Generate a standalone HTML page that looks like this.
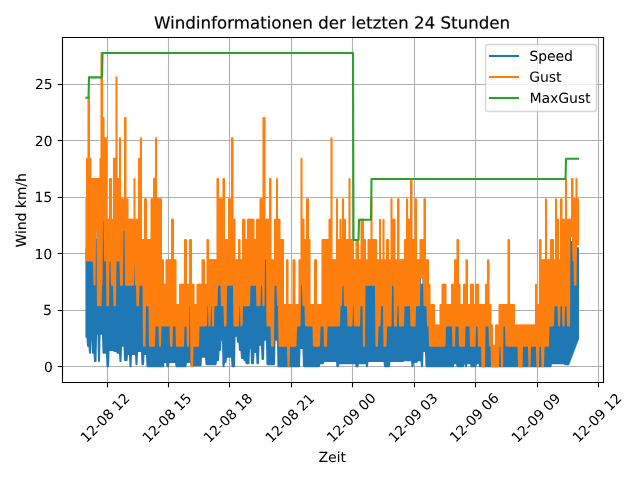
<!DOCTYPE html><html><head><meta charset="utf-8"><style>html,body{margin:0;padding:0;background:#fff;font-family:"Liberation Sans",sans-serif}svg{display:block}</style></head><body><svg width="640" height="480" viewBox="0 0 460.8 345.6">
<defs>
<style type="text/css">*{stroke-linejoin: round; stroke-linecap: butt}</style>
</defs>
<g id="figure_1">
<g id="patch_1">
<path d="M 0.3600 345.9600 L 461.1600 345.9600 L 461.1600 0.3600 L 0.3600 0.3600 z" style="fill: #ffffff"/>
</g>
<g id="axes_1">
<g id="patch_2">
<path d="M 45.0000 275.4000 L 434.5200 275.4000 L 434.5200 27.0000 L 45.0000 27.0000 z" style="fill: #ffffff"/>
</g>
<g id="matplotlib.axis_1">
<g id="xtick_1">
<g id="line2d_1">
<path d="M 77.4000 275.4000 L 77.4000 27.0000" clip-path="url(#pa83f3e832d)" style="fill: none; stroke: #b0b0b0; stroke-width: 0.8; stroke-linecap: square"/>
</g>
<g id="line2d_2">
<defs>
<path id="m1504cfccaf" d="M 0 0 
L 0 3.5 
" style="stroke: #000000; stroke-width: 0.8"/>
</defs>
<g>
<use href="#m1504cfccaf" x="77.4000" y="275.4000" style="stroke: #000000; stroke-width: 0.8"/>
</g>
</g>
<g id="text_1">
<!-- 12-08 12 -->
<g transform="translate(62.1951 319.1513) rotate(-45) scale(0.1 -0.1)">
<defs>
<path id="DejaVuSans-31" d="M 794 531 
L 1825 531 
L 1825 4091 
L 703 3866 
L 703 4441 
L 1819 4666 
L 2450 4666 
L 2450 531 
L 3481 531 
L 3481 0 
L 794 0 
L 794 531 
z
" transform="scale(0.015625)"/>
<path id="DejaVuSans-32" d="M 1228 531 
L 3431 531 
L 3431 0 
L 469 0 
L 469 531 
Q 828 903 1448 1529 
Q 2069 2156 2228 2338 
Q 2531 2678 2651 2914 
Q 2772 3150 2772 3378 
Q 2772 3750 2511 3984 
Q 2250 4219 1831 4219 
Q 1534 4219 1204 4116 
Q 875 4013 500 3803 
L 500 4441 
Q 881 4594 1212 4672 
Q 1544 4750 1819 4750 
Q 2544 4750 2975 4387 
Q 3406 4025 3406 3419 
Q 3406 3131 3298 2873 
Q 3191 2616 2906 2266 
Q 2828 2175 2409 1742 
Q 1991 1309 1228 531 
z
" transform="scale(0.015625)"/>
<path id="DejaVuSans-2d" d="M 313 2009 
L 1997 2009 
L 1997 1497 
L 313 1497 
L 313 2009 
z
" transform="scale(0.015625)"/>
<path id="DejaVuSans-30" d="M 2034 4250 
Q 1547 4250 1301 3770 
Q 1056 3291 1056 2328 
Q 1056 1369 1301 889 
Q 1547 409 2034 409 
Q 2525 409 2770 889 
Q 3016 1369 3016 2328 
Q 3016 3291 2770 3770 
Q 2525 4250 2034 4250 
z
M 2034 4750 
Q 2819 4750 3233 4129 
Q 3647 3509 3647 2328 
Q 3647 1150 3233 529 
Q 2819 -91 2034 -91 
Q 1250 -91 836 529 
Q 422 1150 422 2328 
Q 422 3509 836 4129 
Q 1250 4750 2034 4750 
z
" transform="scale(0.015625)"/>
<path id="DejaVuSans-38" d="M 2034 2216 
Q 1584 2216 1326 1975 
Q 1069 1734 1069 1313 
Q 1069 891 1326 650 
Q 1584 409 2034 409 
Q 2484 409 2743 651 
Q 3003 894 3003 1313 
Q 3003 1734 2745 1975 
Q 2488 2216 2034 2216 
z
M 1403 2484 
Q 997 2584 770 2862 
Q 544 3141 544 3541 
Q 544 4100 942 4425 
Q 1341 4750 2034 4750 
Q 2731 4750 3128 4425 
Q 3525 4100 3525 3541 
Q 3525 3141 3298 2862 
Q 3072 2584 2669 2484 
Q 3125 2378 3379 2068 
Q 3634 1759 3634 1313 
Q 3634 634 3220 271 
Q 2806 -91 2034 -91 
Q 1263 -91 848 271 
Q 434 634 434 1313 
Q 434 1759 690 2068 
Q 947 2378 1403 2484 
z
M 1172 3481 
Q 1172 3119 1398 2916 
Q 1625 2713 2034 2713 
Q 2441 2713 2670 2916 
Q 2900 3119 2900 3481 
Q 2900 3844 2670 4047 
Q 2441 4250 2034 4250 
Q 1625 4250 1398 4047 
Q 1172 3844 1172 3481 
z
" transform="scale(0.015625)"/>
<path id="DejaVuSans-20" transform="scale(0.015625)"/>
</defs>
<use href="#DejaVuSans-31"/>
<use href="#DejaVuSans-32" transform="translate(63.623047 0)"/>
<use href="#DejaVuSans-2d" transform="translate(127.246094 0)"/>
<use href="#DejaVuSans-30" transform="translate(163.330078 0)"/>
<use href="#DejaVuSans-38" transform="translate(226.953125 0)"/>
<use href="#DejaVuSans-20" transform="translate(290.576172 0)"/>
<use href="#DejaVuSans-31" transform="translate(322.363281 0)"/>
<use href="#DejaVuSans-32" transform="translate(385.986328 0)"/>
</g>
</g>
</g>
<g id="xtick_2">
<g id="line2d_3">
<path d="M 121.3200 275.4000 L 121.3200 27.0000" clip-path="url(#pa83f3e832d)" style="fill: none; stroke: #b0b0b0; stroke-width: 0.8; stroke-linecap: square"/>
</g>
<g id="line2d_4">
<g>
<use href="#m1504cfccaf" x="121.3200" y="275.4000" style="stroke: #000000; stroke-width: 0.8"/>
</g>
</g>
<g id="text_2">
<!-- 12-08 15 -->
<g transform="translate(106.7314 319.2665) rotate(-45) scale(0.1 -0.1)">
<defs>
<path id="DejaVuSans-35" d="M 691 4666 
L 3169 4666 
L 3169 4134 
L 1269 4134 
L 1269 2991 
Q 1406 3038 1543 3061 
Q 1681 3084 1819 3084 
Q 2600 3084 3056 2656 
Q 3513 2228 3513 1497 
Q 3513 744 3044 326 
Q 2575 -91 1722 -91 
Q 1428 -91 1123 -41 
Q 819 9 494 109 
L 494 744 
Q 775 591 1075 516 
Q 1375 441 1709 441 
Q 2250 441 2565 725 
Q 2881 1009 2881 1497 
Q 2881 1984 2565 2268 
Q 2250 2553 1709 2553 
Q 1456 2553 1204 2497 
Q 953 2441 691 2322 
L 691 4666 
z
" transform="scale(0.015625)"/>
</defs>
<use href="#DejaVuSans-31"/>
<use href="#DejaVuSans-32" transform="translate(63.623047 0)"/>
<use href="#DejaVuSans-2d" transform="translate(127.246094 0)"/>
<use href="#DejaVuSans-30" transform="translate(163.330078 0)"/>
<use href="#DejaVuSans-38" transform="translate(226.953125 0)"/>
<use href="#DejaVuSans-20" transform="translate(290.576172 0)"/>
<use href="#DejaVuSans-31" transform="translate(322.363281 0)"/>
<use href="#DejaVuSans-35" transform="translate(385.986328 0)"/>
</g>
</g>
</g>
<g id="xtick_3">
<g id="line2d_5">
<path d="M 165.2400 275.4000 L 165.2400 27.0000" clip-path="url(#pa83f3e832d)" style="fill: none; stroke: #b0b0b0; stroke-width: 0.8; stroke-linecap: square"/>
</g>
<g id="line2d_6">
<g>
<use href="#m1504cfccaf" x="165.2400" y="275.4000" style="stroke: #000000; stroke-width: 0.8"/>
</g>
</g>
<g id="text_3">
<!-- 12-08 18 -->
<g transform="translate(150.6917 319.2305) rotate(-45) scale(0.1 -0.1)">
<use href="#DejaVuSans-31"/>
<use href="#DejaVuSans-32" transform="translate(63.623047 0)"/>
<use href="#DejaVuSans-2d" transform="translate(127.246094 0)"/>
<use href="#DejaVuSans-30" transform="translate(163.330078 0)"/>
<use href="#DejaVuSans-38" transform="translate(226.953125 0)"/>
<use href="#DejaVuSans-20" transform="translate(290.576172 0)"/>
<use href="#DejaVuSans-31" transform="translate(322.363281 0)"/>
<use href="#DejaVuSans-38" transform="translate(385.986328 0)"/>
</g>
</g>
</g>
<g id="xtick_4">
<g id="line2d_7">
<path d="M 209.8800 275.4000 L 209.8800 27.0000" clip-path="url(#pa83f3e832d)" style="fill: none; stroke: #b0b0b0; stroke-width: 0.8; stroke-linecap: square"/>
</g>
<g id="line2d_8">
<g>
<use href="#m1504cfccaf" x="209.8800" y="275.4000" style="stroke: #000000; stroke-width: 0.8"/>
</g>
</g>
<g id="text_4">
<!-- 12-08 21 -->
<g transform="translate(195.2424 319.3169) rotate(-45) scale(0.1 -0.1)">
<use href="#DejaVuSans-31"/>
<use href="#DejaVuSans-32" transform="translate(63.623047 0)"/>
<use href="#DejaVuSans-2d" transform="translate(127.246094 0)"/>
<use href="#DejaVuSans-30" transform="translate(163.330078 0)"/>
<use href="#DejaVuSans-38" transform="translate(226.953125 0)"/>
<use href="#DejaVuSans-20" transform="translate(290.576172 0)"/>
<use href="#DejaVuSans-32" transform="translate(322.363281 0)"/>
<use href="#DejaVuSans-31" transform="translate(385.986328 0)"/>
</g>
</g>
</g>
<g id="xtick_5">
<g id="line2d_9">
<path d="M 253.8000 275.4000 L 253.8000 27.0000" clip-path="url(#pa83f3e832d)" style="fill: none; stroke: #b0b0b0; stroke-width: 0.8; stroke-linecap: square"/>
</g>
<g id="line2d_10">
<g>
<use href="#m1504cfccaf" x="253.8000" y="275.4000" style="stroke: #000000; stroke-width: 0.8"/>
</g>
</g>
<g id="text_5">
<!-- 12-09 00 -->
<g transform="translate(239.4764 318.9713) rotate(-45) scale(0.1 -0.1)">
<defs>
<path id="DejaVuSans-39" d="M 703 97 
L 703 672 
Q 941 559 1184 500 
Q 1428 441 1663 441 
Q 2288 441 2617 861 
Q 2947 1281 2994 2138 
Q 2813 1869 2534 1725 
Q 2256 1581 1919 1581 
Q 1219 1581 811 2004 
Q 403 2428 403 3163 
Q 403 3881 828 4315 
Q 1253 4750 1959 4750 
Q 2769 4750 3195 4129 
Q 3622 3509 3622 2328 
Q 3622 1225 3098 567 
Q 2575 -91 1691 -91 
Q 1453 -91 1209 -44 
Q 966 3 703 97 
z
M 1959 2075 
Q 2384 2075 2632 2365 
Q 2881 2656 2881 3163 
Q 2881 3666 2632 3958 
Q 2384 4250 1959 4250 
Q 1534 4250 1286 3958 
Q 1038 3666 1038 3163 
Q 1038 2656 1286 2365 
Q 1534 2075 1959 2075 
z
" transform="scale(0.015625)"/>
</defs>
<use href="#DejaVuSans-31"/>
<use href="#DejaVuSans-32" transform="translate(63.623047 0)"/>
<use href="#DejaVuSans-2d" transform="translate(127.246094 0)"/>
<use href="#DejaVuSans-30" transform="translate(163.330078 0)"/>
<use href="#DejaVuSans-39" transform="translate(226.953125 0)"/>
<use href="#DejaVuSans-20" transform="translate(290.576172 0)"/>
<use href="#DejaVuSans-30" transform="translate(322.363281 0)"/>
<use href="#DejaVuSans-30" transform="translate(385.986328 0)"/>
</g>
</g>
</g>
<g id="xtick_6">
<g id="line2d_11">
<path d="M 298.4400 275.4000 L 298.4400 27.0000" clip-path="url(#pa83f3e832d)" style="fill: none; stroke: #b0b0b0; stroke-width: 0.8; stroke-linecap: square"/>
</g>
<g id="line2d_12">
<g>
<use href="#m1504cfccaf" x="298.4400" y="275.4000" style="stroke: #000000; stroke-width: 0.8"/>
</g>
</g>
<g id="text_6">
<!-- 12-09 03 -->
<g transform="translate(283.9479 319.0937) rotate(-45) scale(0.1 -0.1)">
<defs>
<path id="DejaVuSans-33" d="M 2597 2516 
Q 3050 2419 3304 2112 
Q 3559 1806 3559 1356 
Q 3559 666 3084 287 
Q 2609 -91 1734 -91 
Q 1441 -91 1130 -33 
Q 819 25 488 141 
L 488 750 
Q 750 597 1062 519 
Q 1375 441 1716 441 
Q 2309 441 2620 675 
Q 2931 909 2931 1356 
Q 2931 1769 2642 2001 
Q 2353 2234 1838 2234 
L 1294 2234 
L 1294 2753 
L 1863 2753 
Q 2328 2753 2575 2939 
Q 2822 3125 2822 3475 
Q 2822 3834 2567 4026 
Q 2313 4219 1838 4219 
Q 1578 4219 1281 4162 
Q 984 4106 628 3988 
L 628 4550 
Q 988 4650 1302 4700 
Q 1616 4750 1894 4750 
Q 2613 4750 3031 4423 
Q 3450 4097 3450 3541 
Q 3450 3153 3228 2886 
Q 3006 2619 2597 2516 
z
" transform="scale(0.015625)"/>
</defs>
<use href="#DejaVuSans-31"/>
<use href="#DejaVuSans-32" transform="translate(63.623047 0)"/>
<use href="#DejaVuSans-2d" transform="translate(127.246094 0)"/>
<use href="#DejaVuSans-30" transform="translate(163.330078 0)"/>
<use href="#DejaVuSans-39" transform="translate(226.953125 0)"/>
<use href="#DejaVuSans-20" transform="translate(290.576172 0)"/>
<use href="#DejaVuSans-30" transform="translate(322.363281 0)"/>
<use href="#DejaVuSans-33" transform="translate(385.986328 0)"/>
</g>
</g>
</g>
<g id="xtick_7">
<g id="line2d_13">
<path d="M 342.3600 275.4000 L 342.3600 27.0000" clip-path="url(#pa83f3e832d)" style="fill: none; stroke: #b0b0b0; stroke-width: 0.8; stroke-linecap: square"/>
</g>
<g id="line2d_14">
<g>
<use href="#m1504cfccaf" x="342.3600" y="275.4000" style="stroke: #000000; stroke-width: 0.8"/>
</g>
</g>
<g id="text_7">
<!-- 12-09 06 -->
<g transform="translate(328.0090 318.9857) rotate(-45) scale(0.1 -0.1)">
<defs>
<path id="DejaVuSans-36" d="M 2113 2584 
Q 1688 2584 1439 2293 
Q 1191 2003 1191 1497 
Q 1191 994 1439 701 
Q 1688 409 2113 409 
Q 2538 409 2786 701 
Q 3034 994 3034 1497 
Q 3034 2003 2786 2293 
Q 2538 2584 2113 2584 
z
M 3366 4563 
L 3366 3988 
Q 3128 4100 2886 4159 
Q 2644 4219 2406 4219 
Q 1781 4219 1451 3797 
Q 1122 3375 1075 2522 
Q 1259 2794 1537 2939 
Q 1816 3084 2150 3084 
Q 2853 3084 3261 2657 
Q 3669 2231 3669 1497 
Q 3669 778 3244 343 
Q 2819 -91 2113 -91 
Q 1303 -91 875 529 
Q 447 1150 447 2328 
Q 447 3434 972 4092 
Q 1497 4750 2381 4750 
Q 2619 4750 2861 4703 
Q 3103 4656 3366 4563 
z
" transform="scale(0.015625)"/>
</defs>
<use href="#DejaVuSans-31"/>
<use href="#DejaVuSans-32" transform="translate(63.623047 0)"/>
<use href="#DejaVuSans-2d" transform="translate(127.246094 0)"/>
<use href="#DejaVuSans-30" transform="translate(163.330078 0)"/>
<use href="#DejaVuSans-39" transform="translate(226.953125 0)"/>
<use href="#DejaVuSans-20" transform="translate(290.576172 0)"/>
<use href="#DejaVuSans-30" transform="translate(322.363281 0)"/>
<use href="#DejaVuSans-36" transform="translate(385.986328 0)"/>
</g>
</g>
</g>
<g id="xtick_8">
<g id="line2d_15">
<path d="M 387.0000 275.4000 L 387.0000 27.0000" clip-path="url(#pa83f3e832d)" style="fill: none; stroke: #b0b0b0; stroke-width: 0.8; stroke-linecap: square"/>
</g>
<g id="line2d_16">
<g>
<use href="#m1504cfccaf" x="387.0000" y="275.4000" style="stroke: #000000; stroke-width: 0.8"/>
</g>
</g>
<g id="text_8">
<!-- 12-09 09 -->
<g transform="translate(372.3941 319.3097) rotate(-45) scale(0.1 -0.1)">
<use href="#DejaVuSans-31"/>
<use href="#DejaVuSans-32" transform="translate(63.623047 0)"/>
<use href="#DejaVuSans-2d" transform="translate(127.246094 0)"/>
<use href="#DejaVuSans-30" transform="translate(163.330078 0)"/>
<use href="#DejaVuSans-39" transform="translate(226.953125 0)"/>
<use href="#DejaVuSans-20" transform="translate(290.576172 0)"/>
<use href="#DejaVuSans-30" transform="translate(322.363281 0)"/>
<use href="#DejaVuSans-39" transform="translate(385.986328 0)"/>
</g>
</g>
</g>
<g id="xtick_9">
<g id="line2d_17">
<path d="M 430.9200 275.4000 L 430.9200 27.0000" clip-path="url(#pa83f3e832d)" style="fill: none; stroke: #b0b0b0; stroke-width: 0.8; stroke-linecap: square"/>
</g>
<g id="line2d_18">
<g>
<use href="#m1504cfccaf" x="430.9200" y="275.4000" style="stroke: #000000; stroke-width: 0.8"/>
</g>
</g>
<g id="text_9">
<!-- 12-09 12 -->
<g transform="translate(416.3832 319.1513) rotate(-45) scale(0.1 -0.1)">
<use href="#DejaVuSans-31"/>
<use href="#DejaVuSans-32" transform="translate(63.623047 0)"/>
<use href="#DejaVuSans-2d" transform="translate(127.246094 0)"/>
<use href="#DejaVuSans-30" transform="translate(163.330078 0)"/>
<use href="#DejaVuSans-39" transform="translate(226.953125 0)"/>
<use href="#DejaVuSans-20" transform="translate(290.576172 0)"/>
<use href="#DejaVuSans-31" transform="translate(322.363281 0)"/>
<use href="#DejaVuSans-32" transform="translate(385.986328 0)"/>
</g>
</g>
</g>
<g id="text_10">
<!-- Zeit -->
<g transform="translate(229.3990 332.6091) scale(0.1 -0.1)" style="stroke:#000;stroke-width:20">
<defs>
<path id="DejaVuSans-5a" d="M 359 4666 
L 4025 4666 
L 4025 4184 
L 1075 531 
L 4097 531 
L 4097 0 
L 288 0 
L 288 481 
L 3238 4134 
L 359 4134 
L 359 4666 
z
" transform="scale(0.015625)"/>
<path id="DejaVuSans-65" d="M 3597 1894 
L 3597 1613 
L 953 1613 
Q 991 1019 1311 708 
Q 1631 397 2203 397 
Q 2534 397 2845 478 
Q 3156 559 3463 722 
L 3463 178 
Q 3153 47 2828 -22 
Q 2503 -91 2169 -91 
Q 1331 -91 842 396 
Q 353 884 353 1716 
Q 353 2575 817 3079 
Q 1281 3584 2069 3584 
Q 2775 3584 3186 3129 
Q 3597 2675 3597 1894 
z
M 3022 2063 
Q 3016 2534 2758 2815 
Q 2500 3097 2075 3097 
Q 1594 3097 1305 2825 
Q 1016 2553 972 2059 
L 3022 2063 
z
" transform="scale(0.015625)"/>
<path id="DejaVuSans-69" d="M 603 3500 
L 1178 3500 
L 1178 0 
L 603 0 
L 603 3500 
z
M 603 4863 
L 1178 4863 
L 1178 4134 
L 603 4134 
L 603 4863 
z
" transform="scale(0.015625)"/>
<path id="DejaVuSans-74" d="M 1172 4494 
L 1172 3500 
L 2356 3500 
L 2356 3053 
L 1172 3053 
L 1172 1153 
Q 1172 725 1289 603 
Q 1406 481 1766 481 
L 2356 481 
L 2356 0 
L 1766 0 
Q 1100 0 847 248 
Q 594 497 594 1153 
L 594 3053 
L 172 3053 
L 172 3500 
L 594 3500 
L 594 4494 
L 1172 4494 
z
" transform="scale(0.015625)"/>
</defs>
<use href="#DejaVuSans-5a"/>
<use href="#DejaVuSans-65" transform="translate(68.505859 0)"/>
<use href="#DejaVuSans-69" transform="translate(130.029297 0)"/>
<use href="#DejaVuSans-74" transform="translate(157.8125 0)"/>
</g>
</g>
</g>
<g id="matplotlib.axis_2">
<g id="ytick_1">
<g id="line2d_19">
<path d="M 45.0000 263.8800 L 434.5200 263.8800" clip-path="url(#pa83f3e832d)" style="fill: none; stroke: #b0b0b0; stroke-width: 0.8; stroke-linecap: square"/>
</g>
<g id="line2d_20">
<defs>
<path id="m5d545ce8f8" d="M 0 0 
L -3.5 0 
" style="stroke: #000000; stroke-width: 0.8"/>
</defs>
<g>
<use href="#m5d545ce8f8" x="45.0000" y="263.8800" style="stroke: #000000; stroke-width: 0.8"/>
</g>
</g>
<g id="text_11">
<!-- 0 -->
<g transform="translate(31.6683 267.8142) scale(0.1 -0.1)">
<use href="#DejaVuSans-30"/>
</g>
</g>
</g>
<g id="ytick_2">
<g id="line2d_21">
<path d="M 45.0000 223.5600 L 434.5200 223.5600" clip-path="url(#pa83f3e832d)" style="fill: none; stroke: #b0b0b0; stroke-width: 0.8; stroke-linecap: square"/>
</g>
<g id="line2d_22">
<g>
<use href="#m5d545ce8f8" x="45.0000" y="223.5600" style="stroke: #000000; stroke-width: 0.8"/>
</g>
</g>
<g id="text_12">
<!-- 5 -->
<g transform="translate(31.0131 226.7486) scale(0.1 -0.1)">
<use href="#DejaVuSans-35"/>
</g>
</g>
</g>
<g id="ytick_3">
<g id="line2d_23">
<path d="M 45.0000 182.5200 L 434.5200 182.5200" clip-path="url(#pa83f3e832d)" style="fill: none; stroke: #b0b0b0; stroke-width: 0.8; stroke-linecap: square"/>
</g>
<g id="line2d_24">
<g>
<use href="#m5d545ce8f8" x="45.0000" y="182.5200" style="stroke: #000000; stroke-width: 0.8"/>
</g>
</g>
<g id="text_13">
<!-- 10 -->
<g transform="translate(24.8810 186.5325) scale(0.1 -0.1)">
<use href="#DejaVuSans-31"/>
<use href="#DejaVuSans-30" transform="translate(63.623047 0)"/>
</g>
</g>
</g>
<g id="ytick_4">
<g id="line2d_25">
<path d="M 45.0000 142.2000 L 434.5200 142.2000" clip-path="url(#pa83f3e832d)" style="fill: none; stroke: #b0b0b0; stroke-width: 0.8; stroke-linecap: square"/>
</g>
<g id="line2d_26">
<g>
<use href="#m5d545ce8f8" x="45.0000" y="142.2000" style="stroke: #000000; stroke-width: 0.8"/>
</g>
</g>
<g id="text_14">
<!-- 15 -->
<g transform="translate(24.8666 145.4237) scale(0.1 -0.1)">
<use href="#DejaVuSans-31"/>
<use href="#DejaVuSans-35" transform="translate(63.623047 0)"/>
</g>
</g>
</g>
<g id="ytick_5">
<g id="line2d_27">
<path d="M 45.0000 101.1600 L 434.5200 101.1600" clip-path="url(#pa83f3e832d)" style="fill: none; stroke: #b0b0b0; stroke-width: 0.8; stroke-linecap: square"/>
</g>
<g id="line2d_28">
<g>
<use href="#m5d545ce8f8" x="45.0000" y="101.1600" style="stroke: #000000; stroke-width: 0.8"/>
</g>
</g>
<g id="text_15">
<!-- 20 -->
<g transform="translate(25.0682 105.1572) scale(0.1 -0.1)">
<use href="#DejaVuSans-32"/>
<use href="#DejaVuSans-30" transform="translate(63.623047 0)"/>
</g>
</g>
</g>
<g id="ytick_6">
<g id="line2d_29">
<path d="M 45.0000 60.8400 L 434.5200 60.8400" clip-path="url(#pa83f3e832d)" style="fill: none; stroke: #b0b0b0; stroke-width: 0.8; stroke-linecap: square"/>
</g>
<g id="line2d_30">
<g>
<use href="#m5d545ce8f8" x="45.0000" y="60.8400" style="stroke: #000000; stroke-width: 0.8"/>
</g>
</g>
<g id="text_16">
<!-- 25 -->
<g transform="translate(25.1762 64.1131) scale(0.1 -0.1)">
<use href="#DejaVuSans-32"/>
<use href="#DejaVuSans-35" transform="translate(63.623047 0)"/>
</g>
</g>
</g>
<g id="text_17">
<!-- Wind km/h -->
<g transform="translate(18.6717 178.1650) rotate(-90) scale(0.1 -0.1)" style="stroke:#000;stroke-width:50">
<defs>
<path id="DejaVuSans-57" d="M 213 4666 
L 850 4666 
L 1831 722 
L 2809 4666 
L 3519 4666 
L 4500 722 
L 5478 4666 
L 6119 4666 
L 4947 0 
L 4153 0 
L 3169 4050 
L 2175 0 
L 1381 0 
L 213 4666 
z
" transform="scale(0.015625)"/>
<path id="DejaVuSans-6e" d="M 3513 2113 
L 3513 0 
L 2938 0 
L 2938 2094 
Q 2938 2591 2744 2837 
Q 2550 3084 2163 3084 
Q 1697 3084 1428 2787 
Q 1159 2491 1159 1978 
L 1159 0 
L 581 0 
L 581 3500 
L 1159 3500 
L 1159 2956 
Q 1366 3272 1645 3428 
Q 1925 3584 2291 3584 
Q 2894 3584 3203 3211 
Q 3513 2838 3513 2113 
z
" transform="scale(0.015625)"/>
<path id="DejaVuSans-64" d="M 2906 2969 
L 2906 4863 
L 3481 4863 
L 3481 0 
L 2906 0 
L 2906 525 
Q 2725 213 2448 61 
Q 2172 -91 1784 -91 
Q 1150 -91 751 415 
Q 353 922 353 1747 
Q 353 2572 751 3078 
Q 1150 3584 1784 3584 
Q 2172 3584 2448 3432 
Q 2725 3281 2906 2969 
z
M 947 1747 
Q 947 1113 1208 752 
Q 1469 391 1925 391 
Q 2381 391 2643 752 
Q 2906 1113 2906 1747 
Q 2906 2381 2643 2742 
Q 2381 3103 1925 3103 
Q 1469 3103 1208 2742 
Q 947 2381 947 1747 
z
" transform="scale(0.015625)"/>
<path id="DejaVuSans-6b" d="M 581 4863 
L 1159 4863 
L 1159 1991 
L 2875 3500 
L 3609 3500 
L 1753 1863 
L 3688 0 
L 2938 0 
L 1159 1709 
L 1159 0 
L 581 0 
L 581 4863 
z
" transform="scale(0.015625)"/>
<path id="DejaVuSans-6d" d="M 3328 2828 
Q 3544 3216 3844 3400 
Q 4144 3584 4550 3584 
Q 5097 3584 5394 3201 
Q 5691 2819 5691 2113 
L 5691 0 
L 5113 0 
L 5113 2094 
Q 5113 2597 4934 2840 
Q 4756 3084 4391 3084 
Q 3944 3084 3684 2787 
Q 3425 2491 3425 1978 
L 3425 0 
L 2847 0 
L 2847 2094 
Q 2847 2600 2669 2842 
Q 2491 3084 2119 3084 
Q 1678 3084 1418 2786 
Q 1159 2488 1159 1978 
L 1159 0 
L 581 0 
L 581 3500 
L 1159 3500 
L 1159 2956 
Q 1356 3278 1631 3431 
Q 1906 3584 2284 3584 
Q 2666 3584 2933 3390 
Q 3200 3197 3328 2828 
z
" transform="scale(0.015625)"/>
<path id="DejaVuSans-2f" d="M 1625 4666 
L 2156 4666 
L 531 -594 
L 0 -594 
L 1625 4666 
z
" transform="scale(0.015625)"/>
<path id="DejaVuSans-68" d="M 3513 2113 
L 3513 0 
L 2938 0 
L 2938 2094 
Q 2938 2591 2744 2837 
Q 2550 3084 2163 3084 
Q 1697 3084 1428 2787 
Q 1159 2491 1159 1978 
L 1159 0 
L 581 0 
L 581 4863 
L 1159 4863 
L 1159 2956 
Q 1366 3272 1645 3428 
Q 1925 3584 2291 3584 
Q 2894 3584 3203 3211 
Q 3513 2838 3513 2113 
z
" transform="scale(0.015625)"/>
</defs>
<use href="#DejaVuSans-57"/>
<use href="#DejaVuSans-69" transform="translate(96.626953 0)"/>
<use href="#DejaVuSans-6e" transform="translate(124.410156 0)"/>
<use href="#DejaVuSans-64" transform="translate(187.789062 0)"/>
<use href="#DejaVuSans-20" transform="translate(251.265625 0)"/>
<use href="#DejaVuSans-6b" transform="translate(283.052734 0)"/>
<use href="#DejaVuSans-6d" transform="translate(340.962891 0)"/>
<use href="#DejaVuSans-2f" transform="translate(438.375 0)"/>
<use href="#DejaVuSans-68" transform="translate(472.066406 0)"/>
</g>
</g>
</g>
<g id="line2d_31">
<path d="M 62.2656 242.396648 
L 62.2656 179.358679 
L 62.28 242.396648 
L 62.64 242.396648 
L 62.64 179.358679 
L 62.64 242.396648 
L 63 242.396648 
L 63 179.358679 
L 63 242.396648 
L 63.36 248.985132 
L 63.36 179.358679 
L 63.36 248.985132 
L 63.72 248.985132 
L 63.72 179.358679 
L 63.72 248.985132 
L 64.08 248.985132 
L 64.08 179.358679 
L 64.08 248.985132 
L 64.44 248.985132 
L 64.44 179.358679 
L 64.44 248.985132 
L 64.8 253.963098 
L 64.8 179.358679 
L 64.8 253.963098 
L 65.16 243.128701 
L 65.16 179.358679 
L 65.16 243.128701 
L 65.52 243.128701 
L 65.52 179.358679 
L 65.52 243.128701 
L 65.88 243.128701 
L 65.88 179.358679 
L 65.88 243.128701 
L 66.24 243.128701 
L 66.24 179.358679 
L 66.24 243.128701 
L 66.6 243.128701 
L 66.6 179.358679 
L 66.6 243.128701 
L 66.96 253.963098 
L 66.96 179.358679 
L 66.96 253.963098 
L 67.32 253.963098 
L 67.32 179.358679 
L 67.32 253.963098 
L 67.68 253.963098 
L 67.68 179.358679 
L 67.68 253.963098 
L 68.04 253.963098 
L 68.04 196.927971 
L 68.04 253.963098 
L 68.4 259.96594 
L 68.4 157.397064 
L 68.4 259.96594 
L 68.76 259.96594 
L 68.76 157.397064 
L 68.76 259.96594 
L 69.12 240.200486 
L 69.12 172.851534 
L 69.12 240.200486 
L 69.48 240.200486 
L 69.48 172.851534 
L 69.48 240.200486 
L 69.84 240.200486 
L 69.84 172.851534 
L 69.84 240.200486 
L 70.2 240.200486 
L 70.2 172.851534 
L 70.2 240.200486 
L 70.56 240.200486 
L 70.56 211.569047 
L 70.56 240.200486 
L 70.92 240.200486 
L 70.92 211.569047 
L 70.92 240.200486 
L 71.28 259.96594 
L 71.28 211.569047 
L 71.28 259.96594 
L 71.64 240.200486 
L 71.64 211.569047 
L 71.64 240.200486 
L 72 240.200486 
L 72 211.569047 
L 72 240.200486 
L 72.36 240.200486 
L 72.36 211.569047 
L 72.36 240.200486 
L 72.72 240.200486 
L 72.72 196.927971 
L 72.72 240.200486 
L 73.08 240.200486 
L 73.08 196.927971 
L 73.08 240.200486 
L 73.44 240.200486 
L 73.44 158.210457 
L 73.44 240.200486 
L 73.8 240.200486 
L 73.8 158.210457 
L 73.8 240.200486 
L 74.16 240.200486 
L 74.16 158.210457 
L 74.16 240.200486 
L 74.52 253.963098 
L 74.52 158.210457 
L 74.52 253.963098 
L 74.88 253.963098 
L 74.88 158.210457 
L 74.88 253.963098 
L 75.24 253.963098 
L 75.24 150.076526 
L 75.24 253.963098 
L 75.6 253.963098 
L 75.6 179.358679 
L 75.6 253.963098 
L 75.96 253.963098 
L 75.96 179.358679 
L 75.96 253.963098 
L 76.32 253.963098 
L 76.32 179.358679 
L 76.32 253.963098 
L 76.68 253.963098 
L 76.68 179.358679 
L 76.68 253.963098 
L 77.04 253.963098 
L 77.04 179.358679 
L 77.04 253.963098 
L 77.4 263.626209 
L 77.4 211.569047 
L 77.4 263.626209 
L 77.76 263.626209 
L 77.76 211.569047 
L 77.76 263.626209 
L 78.12 251.913347 
L 78.12 179.358679 
L 78.12 251.913347 
L 78.48 251.913347 
L 78.48 179.358679 
L 78.48 251.913347 
L 78.84 251.913347 
L 78.84 179.358679 
L 78.84 251.913347 
L 79.2 251.913347 
L 79.2 179.358679 
L 79.2 251.913347 
L 79.56 251.913347 
L 79.56 179.358679 
L 79.56 251.913347 
L 79.92 251.913347 
L 79.92 179.358679 
L 79.92 251.913347 
L 80.28 251.913347 
L 80.28 179.358679 
L 80.28 251.913347 
L 80.64 251.913347 
L 80.64 196.927971 
L 80.64 251.913347 
L 81 251.913347 
L 81 196.927971 
L 81 251.913347 
L 81.36 251.913347 
L 81.36 196.927971 
L 81.36 251.913347 
L 81.72 251.913347 
L 81.72 196.927971 
L 81.72 251.913347 
L 82.08 251.913347 
L 82.08 196.927971 
L 82.08 251.913347 
L 82.44 252.645401 
L 82.44 211.569047 
L 82.44 252.645401 
L 82.8 252.645401 
L 82.8 211.569047 
L 82.8 252.645401 
L 83.16 252.645401 
L 83.16 179.358679 
L 83.16 252.645401 
L 83.52 252.645401 
L 83.52 179.358679 
L 83.52 252.645401 
L 83.88 252.645401 
L 83.88 179.358679 
L 83.88 252.645401 
L 84.24 252.645401 
L 84.24 179.358679 
L 84.24 252.645401 
L 84.6 253.963098 
L 84.6 179.358679 
L 84.6 253.963098 
L 84.96 253.963098 
L 84.96 179.358679 
L 84.96 253.963098 
L 85.32 253.963098 
L 85.32 179.358679 
L 85.32 253.963098 
L 85.68 253.963098 
L 85.68 179.358679 
L 85.68 253.963098 
L 86.04 253.963098 
L 86.04 179.358679 
L 86.04 253.963098 
L 86.4 253.963098 
L 86.4 179.358679 
L 86.4 253.963098 
L 86.76 259.96594 
L 86.76 179.358679 
L 86.76 259.96594 
L 87.12 248.985132 
L 87.12 196.927971 
L 87.12 248.985132 
L 87.48 248.985132 
L 87.48 196.927971 
L 87.48 248.985132 
L 87.84 248.985132 
L 87.84 196.927971 
L 87.84 248.985132 
L 88.2 248.985132 
L 88.2 157.397064 
L 88.2 248.985132 
L 88.56 248.985132 
L 88.56 157.397064 
L 88.56 248.985132 
L 88.92 248.985132 
L 88.92 168.459211 
L 88.92 248.985132 
L 89.28 248.985132 
L 89.28 168.459211 
L 89.28 248.985132 
L 89.64 248.985132 
L 89.64 168.459211 
L 89.64 248.985132 
L 90 259.233886 
L 90 157.397064 
L 90 259.233886 
L 90.36 259.233886 
L 90.36 157.397064 
L 90.36 259.233886 
L 90.72 259.233886 
L 90.72 196.927971 
L 90.72 259.233886 
L 91.08 259.233886 
L 91.08 196.927971 
L 91.08 259.233886 
L 91.44 254.841563 
L 91.44 196.927971 
L 91.44 254.841563 
L 91.8 254.841563 
L 91.8 196.927971 
L 91.8 254.841563 
L 92.16 254.841563 
L 92.16 196.927971 
L 92.16 254.841563 
L 92.52 254.841563 
L 92.52 196.927971 
L 92.52 254.841563 
L 92.88 254.841563 
L 92.88 196.927971 
L 92.88 254.841563 
L 93.24 254.841563 
L 93.24 196.927971 
L 93.24 254.841563 
L 93.6 254.841563 
L 93.6 196.927971 
L 93.6 254.841563 
L 93.96 263.626209 
L 93.96 196.927971 
L 93.96 263.626209 
L 94.32 254.841563 
L 94.32 196.927971 
L 94.32 254.841563 
L 94.68 254.841563 
L 94.68 196.927971 
L 94.68 254.841563 
L 95.04 254.841563 
L 95.04 196.927971 
L 95.04 254.841563 
L 95.4 254.841563 
L 95.4 196.927971 
L 95.4 254.841563 
L 95.76 254.841563 
L 95.76 196.927971 
L 95.76 254.841563 
L 96.12 254.841563 
L 96.12 179.358679 
L 96.12 254.841563 
L 96.48 254.841563 
L 96.48 179.358679 
L 96.48 254.841563 
L 96.84 254.841563 
L 96.84 179.358679 
L 96.84 254.841563 
L 97.2 254.841563 
L 97.2 179.358679 
L 97.2 254.841563 
L 97.56 254.841563 
L 97.56 179.358679 
L 97.56 254.841563 
L 97.92 254.841563 
L 97.92 196.927971 
L 97.92 254.841563 
L 98.28 262.162101 
L 98.28 196.927971 
L 98.28 262.162101 
L 98.64 252.645401 
L 98.64 196.927971 
L 98.64 252.645401 
L 99 252.645401 
L 99 211.569047 
L 99 252.645401 
L 99.36 252.645401 
L 99.36 211.569047 
L 99.36 252.645401 
L 99.72 252.645401 
L 99.72 196.927971 
L 99.72 252.645401 
L 100.08 252.645401 
L 100.08 196.927971 
L 100.08 252.645401 
L 100.44 252.645401 
L 100.44 196.927971 
L 100.44 252.645401 
L 100.8 252.645401 
L 100.8 196.927971 
L 100.8 252.645401 
L 101.16 252.645401 
L 101.16 196.927971 
L 101.16 252.645401 
L 101.52 252.645401 
L 101.52 196.927971 
L 101.52 252.645401 
L 101.88 252.645401 
L 101.88 196.927971 
L 101.88 252.645401 
L 102.24 252.645401 
L 102.24 196.927971 
L 102.24 252.645401 
L 102.6 262.162101 
L 102.6 196.927971 
L 102.6 262.162101 
L 102.96 262.162101 
L 102.96 196.927971 
L 102.96 262.162101 
L 103.32 254.841563 
L 103.32 196.927971 
L 103.32 254.841563 
L 103.68 254.841563 
L 103.68 240.851201 
L 103.68 254.841563 
L 104.04 254.841563 
L 104.04 240.851201 
L 104.04 254.841563 
L 104.4 254.841563 
L 104.4 211.569047 
L 104.4 254.841563 
L 104.76 254.841563 
L 104.76 211.569047 
L 104.76 254.841563 
L 105.12 254.841563 
L 105.12 211.569047 
L 105.12 254.841563 
L 105.48 254.841563 
L 105.48 211.569047 
L 105.48 254.841563 
L 105.84 254.841563 
L 105.84 211.569047 
L 105.84 254.841563 
L 106.2 263.626209 
L 106.2 211.569047 
L 106.2 263.626209 
L 106.56 263.626209 
L 106.56 211.569047 
L 106.56 263.626209 
L 106.92 263.626209 
L 106.92 211.569047 
L 106.92 263.626209 
L 107.28 263.626209 
L 107.28 211.569047 
L 107.28 263.626209 
L 107.64 263.626209 
L 107.64 211.569047 
L 107.64 263.626209 
L 108 263.626209 
L 108 240.851201 
L 108 263.626209 
L 108.36 263.626209 
L 108.36 240.851201 
L 108.36 263.626209 
L 108.72 263.626209 
L 108.72 240.851201 
L 108.72 263.626209 
L 109.08 263.626209 
L 109.08 240.851201 
L 109.08 263.626209 
L 109.44 263.626209 
L 109.44 240.851201 
L 109.44 263.626209 
L 109.8 263.626209 
L 109.8 240.851201 
L 109.8 263.626209 
L 110.16 263.626209 
L 110.16 240.851201 
L 110.16 263.626209 
L 110.52 263.626209 
L 110.52 240.851201 
L 110.52 263.626209 
L 110.88 263.626209 
L 110.88 240.851201 
L 110.88 263.626209 
L 111.24 263.626209 
L 111.24 226.210124 
L 111.24 263.626209 
L 111.6 263.626209 
L 111.6 226.210124 
L 111.6 263.626209 
L 111.96 263.626209 
L 111.96 226.210124 
L 111.96 263.626209 
L 112.32 263.626209 
L 112.32 226.210124 
L 112.32 263.626209 
L 112.68 263.626209 
L 112.68 226.210124 
L 112.68 263.626209 
L 113.04 263.626209 
L 113.04 226.210124 
L 113.04 263.626209 
L 113.4 263.626209 
L 113.4 226.210124 
L 113.4 263.626209 
L 113.76 263.626209 
L 113.76 226.210124 
L 113.76 263.626209 
L 114.12 263.626209 
L 114.12 226.210124 
L 114.12 263.626209 
L 114.48 263.626209 
L 114.48 226.210124 
L 114.48 263.626209 
L 114.84 263.626209 
L 114.84 226.210124 
L 114.84 263.626209 
L 115.2 263.626209 
L 115.2 240.851201 
L 115.2 263.626209 
L 115.56 263.626209 
L 115.56 226.210124 
L 115.56 263.626209 
L 115.92 263.626209 
L 115.92 226.210124 
L 115.92 263.626209 
L 116.28 263.626209 
L 116.28 226.210124 
L 116.28 263.626209 
L 116.64 263.626209 
L 116.64 226.210124 
L 116.64 263.626209 
L 117 263.626209 
L 117 226.210124 
L 117 263.626209 
L 117.36 263.626209 
L 117.36 226.210124 
L 117.36 263.626209 
L 117.72 260.697993 
L 117.72 226.210124 
L 117.72 260.697993 
L 118.08 260.697993 
L 118.08 226.210124 
L 118.08 260.697993 
L 118.44 260.697993 
L 118.44 226.210124 
L 118.44 260.697993 
L 118.8 260.697993 
L 118.8 226.210124 
L 118.8 260.697993 
L 119.16 260.697993 
L 119.16 226.210124 
L 119.16 260.697993 
L 119.52 260.697993 
L 119.52 226.210124 
L 119.52 260.697993 
L 119.88 260.697993 
L 119.88 226.210124 
L 119.88 260.697993 
L 120.24 260.697993 
L 120.24 226.210124 
L 120.24 260.697993 
L 120.6 263.626209 
L 120.6 226.210124 
L 120.6 263.626209 
L 120.96 263.626209 
L 120.96 226.210124 
L 120.96 263.626209 
L 121.32 260.697993 
L 121.32 226.210124 
L 121.32 260.697993 
L 121.68 260.697993 
L 121.68 226.210124 
L 121.68 260.697993 
L 122.04 260.697993 
L 122.04 226.210124 
L 122.04 260.697993 
L 122.4 260.697993 
L 122.4 226.210124 
L 122.4 260.697993 
L 122.76 260.697993 
L 122.76 226.210124 
L 122.76 260.697993 
L 123.12 260.697993 
L 123.12 240.851201 
L 123.12 260.697993 
L 123.48 260.697993 
L 123.48 240.851201 
L 123.48 260.697993 
L 123.84 260.697993 
L 123.84 226.210124 
L 123.84 260.697993 
L 124.2 260.697993 
L 124.2 226.210124 
L 124.2 260.697993 
L 124.56 260.697993 
L 124.56 226.210124 
L 124.56 260.697993 
L 124.92 260.697993 
L 124.92 226.210124 
L 124.92 260.697993 
L 125.28 260.697993 
L 125.28 226.210124 
L 125.28 260.697993 
L 125.64 260.697993 
L 125.64 226.210124 
L 125.64 260.697993 
L 126 260.697993 
L 126 226.210124 
L 126 260.697993 
L 126.36 260.697993 
L 126.36 226.210124 
L 126.36 260.697993 
L 126.72 260.697993 
L 126.72 226.210124 
L 126.72 260.697993 
L 127.08 263.626209 
L 127.08 226.210124 
L 127.08 263.626209 
L 127.44 263.626209 
L 127.44 240.851201 
L 127.44 263.626209 
L 127.8 263.626209 
L 127.8 240.851201 
L 127.8 263.626209 
L 128.16 263.626209 
L 128.16 240.851201 
L 128.16 263.626209 
L 128.52 263.626209 
L 128.52 240.851201 
L 128.52 263.626209 
L 128.88 263.626209 
L 128.88 240.851201 
L 128.88 263.626209 
L 129.24 263.626209 
L 129.24 240.851201 
L 129.24 263.626209 
L 129.6 263.626209 
L 129.6 240.851201 
L 129.6 263.626209 
L 129.96 263.626209 
L 129.96 240.851201 
L 129.96 263.626209 
L 130.32 263.626209 
L 130.32 240.851201 
L 130.32 263.626209 
L 130.68 263.626209 
L 130.68 240.851201 
L 130.68 263.626209 
L 131.04 263.626209 
L 131.04 240.851201 
L 131.04 263.626209 
L 131.4 263.626209 
L 131.4 240.851201 
L 131.4 263.626209 
L 131.76 263.626209 
L 131.76 240.851201 
L 131.76 263.626209 
L 132.12 263.626209 
L 132.12 226.210124 
L 132.12 263.626209 
L 132.48 263.626209 
L 132.48 226.210124 
L 132.48 263.626209 
L 132.84 263.626209 
L 132.84 226.210124 
L 132.84 263.626209 
L 133.2 263.626209 
L 133.2 226.210124 
L 133.2 263.626209 
L 133.56 263.626209 
L 133.56 226.210124 
L 133.56 263.626209 
L 133.92 260.697993 
L 133.92 226.210124 
L 133.92 260.697993 
L 134.28 260.697993 
L 134.28 226.210124 
L 134.28 260.697993 
L 134.64 260.697993 
L 134.64 226.210124 
L 134.64 260.697993 
L 135 260.697993 
L 135 226.210124 
L 135 260.697993 
L 135.36 260.697993 
L 135.36 240.851201 
L 135.36 260.697993 
L 135.72 260.697993 
L 135.72 211.569047 
L 135.72 260.697993 
L 136.08 260.697993 
L 136.08 211.569047 
L 136.08 260.697993 
L 136.44 260.697993 
L 136.44 211.569047 
L 136.44 260.697993 
L 136.8 260.697993 
L 136.8 211.569047 
L 136.8 260.697993 
L 137.16 260.697993 
L 137.16 211.569047 
L 137.16 260.697993 
L 137.52 260.697993 
L 137.52 211.569047 
L 137.52 260.697993 
L 137.88 262.894155 
L 137.88 255.492277 
L 137.88 262.894155 
L 138.24 262.894155 
L 138.24 255.492277 
L 138.24 262.894155 
L 138.6 262.894155 
L 138.6 240.851201 
L 138.6 262.894155 
L 138.96 262.894155 
L 138.96 240.851201 
L 138.96 262.894155 
L 139.32 262.894155 
L 139.32 240.851201 
L 139.32 262.894155 
L 139.68 262.894155 
L 139.68 240.851201 
L 139.68 262.894155 
L 140.04 262.894155 
L 140.04 240.851201 
L 140.04 262.894155 
L 140.4 262.894155 
L 140.4 240.851201 
L 140.4 262.894155 
L 140.76 262.894155 
L 140.76 240.851201 
L 140.76 262.894155 
L 141.12 262.894155 
L 141.12 240.851201 
L 141.12 262.894155 
L 141.48 262.894155 
L 141.48 240.851201 
L 141.48 262.894155 
L 141.84 262.894155 
L 141.84 240.851201 
L 141.84 262.894155 
L 142.2 262.894155 
L 142.2 240.851201 
L 142.2 262.894155 
L 142.56 262.894155 
L 142.56 240.851201 
L 142.56 262.894155 
L 142.92 262.894155 
L 142.92 226.210124 
L 142.92 262.894155 
L 143.28 262.894155 
L 143.28 226.210124 
L 143.28 262.894155 
L 143.64 262.894155 
L 143.64 226.210124 
L 143.64 262.894155 
L 144 262.894155 
L 144 226.210124 
L 144 262.894155 
L 144.36 262.894155 
L 144.36 226.210124 
L 144.36 262.894155 
L 144.72 256.744903 
L 144.72 226.210124 
L 144.72 256.744903 
L 145.08 256.744903 
L 145.08 226.210124 
L 145.08 256.744903 
L 145.44 256.744903 
L 145.44 226.210124 
L 145.44 256.744903 
L 145.8 256.744903 
L 145.8 226.210124 
L 145.8 256.744903 
L 146.16 256.744903 
L 146.16 226.210124 
L 146.16 256.744903 
L 146.52 256.744903 
L 146.52 226.210124 
L 146.52 256.744903 
L 146.88 256.744903 
L 146.88 226.210124 
L 146.88 256.744903 
L 147.24 256.744903 
L 147.24 226.210124 
L 147.24 256.744903 
L 147.6 256.744903 
L 147.6 226.210124 
L 147.6 256.744903 
L 147.96 256.744903 
L 147.96 226.210124 
L 147.96 256.744903 
L 148.32 256.744903 
L 148.32 226.210124 
L 148.32 256.744903 
L 148.68 262.162101 
L 148.68 211.569047 
L 148.68 262.162101 
L 149.04 262.162101 
L 149.04 211.569047 
L 149.04 262.162101 
L 149.4 262.162101 
L 149.4 211.569047 
L 149.4 262.162101 
L 149.76 262.162101 
L 149.76 211.569047 
L 149.76 262.162101 
L 150.12 262.162101 
L 150.12 211.569047 
L 150.12 262.162101 
L 150.48 262.162101 
L 150.48 211.569047 
L 150.48 262.162101 
L 150.84 262.162101 
L 150.84 226.210124 
L 150.84 262.162101 
L 151.2 262.162101 
L 151.2 211.569047 
L 151.2 262.162101 
L 151.56 262.162101 
L 151.56 211.569047 
L 151.56 262.162101 
L 151.92 262.162101 
L 151.92 211.569047 
L 151.92 262.162101 
L 152.28 262.162101 
L 152.28 211.569047 
L 152.28 262.162101 
L 152.64 262.162101 
L 152.64 211.569047 
L 152.64 262.162101 
L 153 262.162101 
L 153 211.569047 
L 153 262.162101 
L 153.36 262.162101 
L 153.36 226.210124 
L 153.36 262.162101 
L 153.72 262.162101 
L 153.72 211.569047 
L 153.72 262.162101 
L 154.08 262.162101 
L 154.08 211.569047 
L 154.08 262.162101 
L 154.44 262.162101 
L 154.44 211.569047 
L 154.44 262.162101 
L 154.8 262.162101 
L 154.8 211.569047 
L 154.8 262.162101 
L 155.16 262.162101 
L 155.16 211.569047 
L 155.16 262.162101 
L 155.52 259.233886 
L 155.52 211.569047 
L 155.52 259.233886 
L 155.88 259.233886 
L 155.88 211.569047 
L 155.88 259.233886 
L 156.24 259.233886 
L 156.24 196.927971 
L 156.24 259.233886 
L 156.6 259.233886 
L 156.6 196.927971 
L 156.6 259.233886 
L 156.96 259.233886 
L 156.96 196.927971 
L 156.96 259.233886 
L 157.32 251.913347 
L 157.32 196.927971 
L 157.32 251.913347 
L 157.68 251.913347 
L 157.68 196.927971 
L 157.68 251.913347 
L 158.04 251.913347 
L 158.04 196.927971 
L 158.04 251.913347 
L 158.4 251.913347 
L 158.4 196.927971 
L 158.4 251.913347 
L 158.76 244.592809 
L 158.76 196.927971 
L 158.76 244.592809 
L 159.12 244.592809 
L 159.12 196.927971 
L 159.12 244.592809 
L 159.48 244.592809 
L 159.48 196.927971 
L 159.48 244.592809 
L 159.84 244.592809 
L 159.84 211.569047 
L 159.84 244.592809 
L 160.2 244.592809 
L 160.2 211.569047 
L 160.2 244.592809 
L 160.56 244.592809 
L 160.56 211.569047 
L 160.56 244.592809 
L 160.92 263.626209 
L 160.92 211.569047 
L 160.92 263.626209 
L 161.28 260.697993 
L 161.28 211.569047 
L 161.28 260.697993 
L 161.64 260.697993 
L 161.64 211.569047 
L 161.64 260.697993 
L 162 260.697993 
L 162 226.210124 
L 162 260.697993 
L 162.36 260.697993 
L 162.36 226.210124 
L 162.36 260.697993 
L 162.72 256.744903 
L 162.72 196.927971 
L 162.72 256.744903 
L 163.08 256.744903 
L 163.08 196.927971 
L 163.08 256.744903 
L 163.44 256.744903 
L 163.44 196.927971 
L 163.44 256.744903 
L 163.8 256.744903 
L 163.8 196.927971 
L 163.8 256.744903 
L 164.16 256.744903 
L 164.16 196.927971 
L 164.16 256.744903 
L 164.52 256.744903 
L 164.52 196.927971 
L 164.52 256.744903 
L 164.88 256.744903 
L 164.88 196.927971 
L 164.88 256.744903 
L 165.24 256.744903 
L 165.24 196.927971 
L 165.24 256.744903 
L 165.6 256.744903 
L 165.6 196.927971 
L 165.6 256.744903 
L 165.96 256.744903 
L 165.96 196.927971 
L 165.96 256.744903 
L 166.32 256.744903 
L 166.32 196.927971 
L 166.32 256.744903 
L 166.68 256.744903 
L 166.68 179.358679 
L 166.68 256.744903 
L 167.04 256.744903 
L 167.04 179.358679 
L 167.04 256.744903 
L 167.4 263.626209 
L 167.4 179.358679 
L 167.4 263.626209 
L 167.76 263.626209 
L 167.76 196.927971 
L 167.76 263.626209 
L 168.12 263.626209 
L 168.12 179.358679 
L 168.12 263.626209 
L 168.48 263.626209 
L 168.48 196.927971 
L 168.48 263.626209 
L 168.84 241.664594 
L 168.84 226.210124 
L 168.84 241.664594 
L 169.2 241.664594 
L 169.2 226.210124 
L 169.2 241.664594 
L 169.56 241.664594 
L 169.56 226.210124 
L 169.56 241.664594 
L 169.92 241.664594 
L 169.92 226.210124 
L 169.92 241.664594 
L 170.28 241.664594 
L 170.28 226.210124 
L 170.28 241.664594 
L 170.64 241.664594 
L 170.64 226.210124 
L 170.64 241.664594 
L 171 241.664594 
L 171 226.210124 
L 171 241.664594 
L 171.36 246.056917 
L 171.36 226.210124 
L 171.36 246.056917 
L 171.72 246.056917 
L 171.72 211.569047 
L 171.72 246.056917 
L 172.08 246.056917 
L 172.08 211.569047 
L 172.08 246.056917 
L 172.44 246.056917 
L 172.44 211.569047 
L 172.44 246.056917 
L 172.8 251.913347 
L 172.8 211.569047 
L 172.8 251.913347 
L 173.16 251.913347 
L 173.16 211.569047 
L 173.16 251.913347 
L 173.52 251.913347 
L 173.52 211.569047 
L 173.52 251.913347 
L 173.88 251.913347 
L 173.88 226.210124 
L 173.88 251.913347 
L 174.24 257.769778 
L 174.24 211.569047 
L 174.24 257.769778 
L 174.6 257.769778 
L 174.6 211.569047 
L 174.6 257.769778 
L 174.96 257.769778 
L 174.96 211.569047 
L 174.96 257.769778 
L 175.32 257.769778 
L 175.32 211.569047 
L 175.32 257.769778 
L 175.68 257.769778 
L 175.68 211.569047 
L 175.68 257.769778 
L 176.04 259.233886 
L 176.04 211.569047 
L 176.04 259.233886 
L 176.4 259.233886 
L 176.4 211.569047 
L 176.4 259.233886 
L 176.76 259.233886 
L 176.76 211.569047 
L 176.76 259.233886 
L 177.12 259.233886 
L 177.12 211.569047 
L 177.12 259.233886 
L 177.48 261.430047 
L 177.48 211.569047 
L 177.48 261.430047 
L 177.84 261.430047 
L 177.84 211.569047 
L 177.84 261.430047 
L 178.2 261.430047 
L 178.2 211.569047 
L 178.2 261.430047 
L 178.56 261.430047 
L 178.56 211.569047 
L 178.56 261.430047 
L 178.92 261.430047 
L 178.92 211.569047 
L 178.92 261.430047 
L 179.28 250.44924 
L 179.28 211.569047 
L 179.28 250.44924 
L 179.64 250.44924 
L 179.64 196.927971 
L 179.64 250.44924 
L 180 250.44924 
L 180 196.927971 
L 180 250.44924 
L 180.36 250.44924 
L 180.36 196.927971 
L 180.36 250.44924 
L 180.72 250.44924 
L 180.72 196.927971 
L 180.72 250.44924 
L 181.08 250.44924 
L 181.08 196.927971 
L 181.08 250.44924 
L 181.44 261.430047 
L 181.44 196.927971 
L 181.44 261.430047 
L 181.8 261.430047 
L 181.8 196.927971 
L 181.8 261.430047 
L 182.16 261.430047 
L 182.16 196.927971 
L 182.16 261.430047 
L 182.52 253.377455 
L 182.52 196.927971 
L 182.52 253.377455 
L 182.88 253.377455 
L 182.88 196.927971 
L 182.88 253.377455 
L 183.24 253.377455 
L 183.24 196.927971 
L 183.24 253.377455 
L 183.6 253.377455 
L 183.6 196.927971 
L 183.6 253.377455 
L 183.96 253.377455 
L 183.96 196.927971 
L 183.96 253.377455 
L 184.32 253.377455 
L 184.32 196.927971 
L 184.32 253.377455 
L 184.68 253.377455 
L 184.68 196.927971 
L 184.68 253.377455 
L 185.04 253.377455 
L 185.04 196.927971 
L 185.04 253.377455 
L 185.4 261.430047 
L 185.4 211.569047 
L 185.4 261.430047 
L 185.76 261.430047 
L 185.76 211.569047 
L 185.76 261.430047 
L 186.12 248.253078 
L 186.12 211.569047 
L 186.12 248.253078 
L 186.48 248.253078 
L 186.48 211.569047 
L 186.48 248.253078 
L 186.84 248.253078 
L 186.84 211.569047 
L 186.84 248.253078 
L 187.2 248.253078 
L 187.2 196.927971 
L 187.2 248.253078 
L 187.56 248.253078 
L 187.56 196.927971 
L 187.56 248.253078 
L 187.92 248.253078 
L 187.92 196.927971 
L 187.92 248.253078 
L 188.28 248.253078 
L 188.28 196.927971 
L 188.28 248.253078 
L 188.64 248.253078 
L 188.64 196.927971 
L 188.64 248.253078 
L 189 258.501832 
L 189 196.927971 
L 189 258.501832 
L 189.36 258.501832 
L 189.36 196.927971 
L 189.36 258.501832 
L 189.72 244.592809 
L 189.72 211.569047 
L 189.72 244.592809 
L 190.08 244.592809 
L 190.08 176.430464 
L 190.08 244.592809 
L 190.44 244.592809 
L 190.44 176.430464 
L 190.44 244.592809 
L 190.8 244.592809 
L 190.8 187.49261 
L 190.8 244.592809 
L 191.16 244.592809 
L 191.16 187.49261 
L 191.16 244.592809 
L 191.52 244.592809 
L 191.52 187.49261 
L 191.52 244.592809 
L 191.88 244.592809 
L 191.88 187.49261 
L 191.88 244.592809 
L 192.24 244.592809 
L 192.24 176.430464 
L 192.24 244.592809 
L 192.6 262.162101 
L 192.6 226.210124 
L 192.6 262.162101 
L 192.96 262.162101 
L 192.96 226.210124 
L 192.96 262.162101 
L 193.32 262.162101 
L 193.32 226.210124 
L 193.32 262.162101 
L 193.68 262.162101 
L 193.68 226.210124 
L 193.68 262.162101 
L 194.04 262.162101 
L 194.04 226.210124 
L 194.04 262.162101 
L 194.4 262.162101 
L 194.4 226.210124 
L 194.4 262.162101 
L 194.76 262.162101 
L 194.76 226.210124 
L 194.76 262.162101 
L 195.12 262.162101 
L 195.12 226.210124 
L 195.12 262.162101 
L 195.48 262.162101 
L 195.48 226.210124 
L 195.48 262.162101 
L 195.84 262.162101 
L 195.84 240.851201 
L 195.84 262.162101 
L 196.2 262.162101 
L 196.2 240.851201 
L 196.2 262.162101 
L 196.56 262.162101 
L 196.56 240.851201 
L 196.56 262.162101 
L 196.92 262.162101 
L 196.92 196.927971 
L 196.92 262.162101 
L 197.28 262.162101 
L 197.28 196.927971 
L 197.28 262.162101 
L 197.64 244.592809 
L 197.64 196.927971 
L 197.64 244.592809 
L 198 244.592809 
L 198 196.927971 
L 198 244.592809 
L 198.36 244.592809 
L 198.36 196.927971 
L 198.36 244.592809 
L 198.72 244.592809 
L 198.72 196.927971 
L 198.72 244.592809 
L 199.08 244.592809 
L 199.08 196.927971 
L 199.08 244.592809 
L 199.44 244.592809 
L 199.44 196.927971 
L 199.44 244.592809 
L 199.8 244.592809 
L 199.8 196.927971 
L 199.8 244.592809 
L 200.16 244.592809 
L 200.16 211.569047 
L 200.16 244.592809 
L 200.52 263.626209 
L 200.52 196.927971 
L 200.52 263.626209 
L 200.88 263.626209 
L 200.88 211.569047 
L 200.88 263.626209 
L 201.24 263.626209 
L 201.24 240.851201 
L 201.24 263.626209 
L 201.6 263.626209 
L 201.6 240.851201 
L 201.6 263.626209 
L 201.96 263.626209 
L 201.96 240.851201 
L 201.96 263.626209 
L 202.32 263.626209 
L 202.32 240.851201 
L 202.32 263.626209 
L 202.68 263.626209 
L 202.68 240.851201 
L 202.68 263.626209 
L 203.04 263.626209 
L 203.04 240.851201 
L 203.04 263.626209 
L 203.4 263.626209 
L 203.4 240.851201 
L 203.4 263.626209 
L 203.76 263.626209 
L 203.76 240.851201 
L 203.76 263.626209 
L 204.12 263.626209 
L 204.12 240.851201 
L 204.12 263.626209 
L 204.48 263.626209 
L 204.48 240.851201 
L 204.48 263.626209 
L 204.84 263.626209 
L 204.84 240.851201 
L 204.84 263.626209 
L 205.2 263.626209 
L 205.2 240.851201 
L 205.2 263.626209 
L 205.56 263.626209 
L 205.56 240.851201 
L 205.56 263.626209 
L 205.92 263.626209 
L 205.92 240.851201 
L 205.92 263.626209 
L 206.28 263.626209 
L 206.28 240.851201 
L 206.28 263.626209 
L 206.64 263.626209 
L 206.64 240.851201 
L 206.64 263.626209 
L 207 263.626209 
L 207 240.851201 
L 207 263.626209 
L 207.36 263.626209 
L 207.36 240.851201 
L 207.36 263.626209 
L 207.72 263.626209 
L 207.72 255.492277 
L 207.72 263.626209 
L 208.08 263.626209 
L 208.08 240.851201 
L 208.08 263.626209 
L 208.44 263.626209 
L 208.44 240.851201 
L 208.44 263.626209 
L 208.8 263.626209 
L 208.8 240.851201 
L 208.8 263.626209 
L 209.16 263.626209 
L 209.16 240.851201 
L 209.16 263.626209 
L 209.52 263.626209 
L 209.52 240.851201 
L 209.52 263.626209 
L 209.88 263.626209 
L 209.88 240.851201 
L 209.88 263.626209 
L 210.24 263.626209 
L 210.24 240.851201 
L 210.24 263.626209 
L 210.6 263.626209 
L 210.6 240.851201 
L 210.6 263.626209 
L 210.96 263.626209 
L 210.96 240.851201 
L 210.96 263.626209 
L 211.32 263.626209 
L 211.32 240.851201 
L 211.32 263.626209 
L 211.68 263.626209 
L 211.68 240.851201 
L 211.68 263.626209 
L 212.04 263.626209 
L 212.04 240.851201 
L 212.04 263.626209 
L 212.4 263.626209 
L 212.4 240.851201 
L 212.4 263.626209 
L 212.76 263.626209 
L 212.76 240.851201 
L 212.76 263.626209 
L 213.12 263.626209 
L 213.12 226.210124 
L 213.12 263.626209 
L 213.48 263.626209 
L 213.48 226.210124 
L 213.48 263.626209 
L 213.84 263.626209 
L 213.84 226.210124 
L 213.84 263.626209 
L 214.2 263.626209 
L 214.2 226.210124 
L 214.2 263.626209 
L 214.56 263.626209 
L 214.56 226.210124 
L 214.56 263.626209 
L 214.92 263.626209 
L 214.92 226.210124 
L 214.92 263.626209 
L 215.28 263.626209 
L 215.28 226.210124 
L 215.28 263.626209 
L 215.64 250.44924 
L 215.64 226.210124 
L 215.64 250.44924 
L 216 250.44924 
L 216 196.927971 
L 216 250.44924 
L 216.36 250.44924 
L 216.36 196.927971 
L 216.36 250.44924 
L 216.72 250.44924 
L 216.72 196.927971 
L 216.72 250.44924 
L 217.08 250.44924 
L 217.08 196.927971 
L 217.08 250.44924 
L 217.44 250.44924 
L 217.44 196.927971 
L 217.44 250.44924 
L 217.8 250.44924 
L 217.8 196.927971 
L 217.8 250.44924 
L 218.16 250.44924 
L 218.16 196.927971 
L 218.16 250.44924 
L 218.52 250.44924 
L 218.52 211.569047 
L 218.52 250.44924 
L 218.88 263.626209 
L 218.88 211.569047 
L 218.88 263.626209 
L 219.24 263.626209 
L 219.24 211.569047 
L 219.24 263.626209 
L 219.6 263.626209 
L 219.6 211.569047 
L 219.6 263.626209 
L 219.96 263.626209 
L 219.96 211.569047 
L 219.96 263.626209 
L 220.32 263.626209 
L 220.32 226.210124 
L 220.32 263.626209 
L 220.68 263.626209 
L 220.68 226.210124 
L 220.68 263.626209 
L 221.04 263.626209 
L 221.04 226.210124 
L 221.04 263.626209 
L 221.4 263.626209 
L 221.4 226.210124 
L 221.4 263.626209 
L 221.76 263.626209 
L 221.76 226.210124 
L 221.76 263.626209 
L 222.12 263.626209 
L 222.12 226.210124 
L 222.12 263.626209 
L 222.48 263.626209 
L 222.48 226.210124 
L 222.48 263.626209 
L 222.84 263.626209 
L 222.84 226.210124 
L 222.84 263.626209 
L 223.2 263.626209 
L 223.2 226.210124 
L 223.2 263.626209 
L 223.56 263.626209 
L 223.56 226.210124 
L 223.56 263.626209 
L 223.92 263.626209 
L 223.92 226.210124 
L 223.92 263.626209 
L 224.28 263.626209 
L 224.28 226.210124 
L 224.28 263.626209 
L 224.64 263.626209 
L 224.64 226.210124 
L 224.64 263.626209 
L 225 263.626209 
L 225 226.210124 
L 225 263.626209 
L 225.36 263.626209 
L 225.36 226.210124 
L 225.36 263.626209 
L 225.72 263.626209 
L 225.72 226.210124 
L 225.72 263.626209 
L 226.08 263.626209 
L 226.08 240.851201 
L 226.08 263.626209 
L 226.44 263.626209 
L 226.44 240.851201 
L 226.44 263.626209 
L 226.8 263.626209 
L 226.8 240.851201 
L 226.8 263.626209 
L 227.16 263.626209 
L 227.16 240.851201 
L 227.16 263.626209 
L 227.52 263.626209 
L 227.52 240.851201 
L 227.52 263.626209 
L 227.88 263.626209 
L 227.88 240.851201 
L 227.88 263.626209 
L 228.24 263.626209 
L 228.24 240.851201 
L 228.24 263.626209 
L 228.6 263.626209 
L 228.6 240.851201 
L 228.6 263.626209 
L 228.96 263.626209 
L 228.96 240.851201 
L 228.96 263.626209 
L 229.32 263.626209 
L 229.32 240.851201 
L 229.32 263.626209 
L 229.68 263.626209 
L 229.68 240.851201 
L 229.68 263.626209 
L 230.04 261.430047 
L 230.04 226.210124 
L 230.04 261.430047 
L 230.4 261.430047 
L 230.4 226.210124 
L 230.4 261.430047 
L 230.76 261.430047 
L 230.76 226.210124 
L 230.76 261.430047 
L 231.12 261.430047 
L 231.12 226.210124 
L 231.12 261.430047 
L 231.48 261.430047 
L 231.48 226.210124 
L 231.48 261.430047 
L 231.84 261.430047 
L 231.84 226.210124 
L 231.84 261.430047 
L 232.2 261.430047 
L 232.2 226.210124 
L 232.2 261.430047 
L 232.56 261.430047 
L 232.56 226.210124 
L 232.56 261.430047 
L 232.92 259.96594 
L 232.92 226.210124 
L 232.92 259.96594 
L 233.28 259.96594 
L 233.28 226.210124 
L 233.28 259.96594 
L 233.64 259.96594 
L 233.64 226.210124 
L 233.64 259.96594 
L 234 259.96594 
L 234 240.851201 
L 234 259.96594 
L 234.36 259.96594 
L 234.36 240.851201 
L 234.36 259.96594 
L 234.72 259.96594 
L 234.72 240.851201 
L 234.72 259.96594 
L 235.08 259.96594 
L 235.08 226.210124 
L 235.08 259.96594 
L 235.44 259.96594 
L 235.44 226.210124 
L 235.44 259.96594 
L 235.8 259.96594 
L 235.8 226.210124 
L 235.8 259.96594 
L 236.16 259.96594 
L 236.16 226.210124 
L 236.16 259.96594 
L 236.52 259.96594 
L 236.52 226.210124 
L 236.52 259.96594 
L 236.88 259.96594 
L 236.88 226.210124 
L 236.88 259.96594 
L 237.24 259.96594 
L 237.24 226.210124 
L 237.24 259.96594 
L 237.6 259.96594 
L 237.6 226.210124 
L 237.6 259.96594 
L 237.96 259.96594 
L 237.96 226.210124 
L 237.96 259.96594 
L 238.32 259.96594 
L 238.32 226.210124 
L 238.32 259.96594 
L 238.68 259.96594 
L 238.68 226.210124 
L 238.68 259.96594 
L 239.04 259.96594 
L 239.04 226.210124 
L 239.04 259.96594 
L 239.4 259.96594 
L 239.4 226.210124 
L 239.4 259.96594 
L 239.76 259.96594 
L 239.76 226.210124 
L 239.76 259.96594 
L 240.12 259.96594 
L 240.12 226.210124 
L 240.12 259.96594 
L 240.48 259.96594 
L 240.48 226.210124 
L 240.48 259.96594 
L 240.84 259.96594 
L 240.84 226.210124 
L 240.84 259.96594 
L 241.2 259.96594 
L 241.2 226.210124 
L 241.2 259.96594 
L 241.56 259.96594 
L 241.56 226.210124 
L 241.56 259.96594 
L 241.92 259.96594 
L 241.92 226.210124 
L 241.92 259.96594 
L 242.28 259.96594 
L 242.28 226.210124 
L 242.28 259.96594 
L 242.64 259.96594 
L 242.64 226.210124 
L 242.64 259.96594 
L 243 263.626209 
L 243 226.210124 
L 243 263.626209 
L 243.36 263.626209 
L 243.36 226.210124 
L 243.36 263.626209 
L 243.72 261.430047 
L 243.72 226.210124 
L 243.72 261.430047 
L 244.08 261.430047 
L 244.08 226.210124 
L 244.08 261.430047 
L 244.44 261.430047 
L 244.44 211.569047 
L 244.44 261.430047 
L 244.8 261.430047 
L 244.8 211.569047 
L 244.8 261.430047 
L 245.16 261.430047 
L 245.16 211.569047 
L 245.16 261.430047 
L 245.52 261.430047 
L 245.52 211.569047 
L 245.52 261.430047 
L 245.88 261.430047 
L 245.88 196.927971 
L 245.88 261.430047 
L 246.24 261.430047 
L 246.24 196.927971 
L 246.24 261.430047 
L 246.6 261.430047 
L 246.6 196.927971 
L 246.6 261.430047 
L 246.96 261.430047 
L 246.96 196.927971 
L 246.96 261.430047 
L 247.32 261.430047 
L 247.32 196.927971 
L 247.32 261.430047 
L 247.68 261.430047 
L 247.68 196.927971 
L 247.68 261.430047 
L 248.04 261.430047 
L 248.04 196.927971 
L 248.04 261.430047 
L 248.4 261.430047 
L 248.4 211.569047 
L 248.4 261.430047 
L 248.76 261.430047 
L 248.76 211.569047 
L 248.76 261.430047 
L 249.12 261.430047 
L 249.12 211.569047 
L 249.12 261.430047 
L 249.48 261.430047 
L 249.48 211.569047 
L 249.48 261.430047 
L 249.84 261.430047 
L 249.84 211.569047 
L 249.84 261.430047 
L 250.2 261.430047 
L 250.2 211.569047 
L 250.2 261.430047 
L 250.56 261.430047 
L 250.56 211.569047 
L 250.56 261.430047 
L 250.92 261.430047 
L 250.92 226.210124 
L 250.92 261.430047 
L 251.28 261.430047 
L 251.28 226.210124 
L 251.28 261.430047 
L 251.64 261.430047 
L 251.64 226.210124 
L 251.64 261.430047 
L 252 261.430047 
L 252 226.210124 
L 252 261.430047 
L 252.36 261.430047 
L 252.36 226.210124 
L 252.36 261.430047 
L 252.72 261.430047 
L 252.72 226.210124 
L 252.72 261.430047 
L 253.08 261.430047 
L 253.08 226.210124 
L 253.08 261.430047 
L 253.44 261.430047 
L 253.44 211.569047 
L 253.44 261.430047 
L 253.8 261.430047 
L 253.8 211.569047 
L 253.8 261.430047 
L 254.16 261.430047 
L 254.16 211.569047 
L 254.16 261.430047 
L 254.52 261.430047 
L 254.52 211.569047 
L 254.52 261.430047 
L 254.88 261.430047 
L 254.88 211.569047 
L 254.88 261.430047 
L 255.24 261.430047 
L 255.24 211.569047 
L 255.24 261.430047 
L 255.6 261.430047 
L 255.6 226.210124 
L 255.6 261.430047 
L 255.96 261.430047 
L 255.96 226.210124 
L 255.96 261.430047 
L 256.32 261.430047 
L 256.32 226.210124 
L 256.32 261.430047 
L 256.68 263.626209 
L 256.68 226.210124 
L 256.68 263.626209 
L 257.04 263.626209 
L 257.04 226.210124 
L 257.04 263.626209 
L 257.4 263.626209 
L 257.4 226.210124 
L 257.4 263.626209 
L 257.76 261.430047 
L 257.76 226.210124 
L 257.76 261.430047 
L 258.12 261.430047 
L 258.12 226.210124 
L 258.12 261.430047 
L 258.48 261.430047 
L 258.48 226.210124 
L 258.48 261.430047 
L 258.84 261.430047 
L 258.84 211.569047 
L 258.84 261.430047 
L 259.2 261.430047 
L 259.2 211.569047 
L 259.2 261.430047 
L 259.56 261.430047 
L 259.56 211.569047 
L 259.56 261.430047 
L 259.92 261.430047 
L 259.92 211.569047 
L 259.92 261.430047 
L 260.28 261.430047 
L 260.28 211.569047 
L 260.28 261.430047 
L 260.64 261.430047 
L 260.64 211.569047 
L 260.64 261.430047 
L 261 261.430047 
L 261 211.569047 
L 261 261.430047 
L 261.36 261.430047 
L 261.36 211.569047 
L 261.36 261.430047 
L 261.72 261.430047 
L 261.72 211.569047 
L 261.72 261.430047 
L 262.08 261.430047 
L 262.08 240.851201 
L 262.08 261.430047 
L 262.44 261.430047 
L 262.44 196.927971 
L 262.44 261.430047 
L 262.8 261.430047 
L 262.8 196.927971 
L 262.8 261.430047 
L 263.16 261.430047 
L 263.16 196.927971 
L 263.16 261.430047 
L 263.52 261.430047 
L 263.52 196.927971 
L 263.52 261.430047 
L 263.88 261.430047 
L 263.88 196.927971 
L 263.88 261.430047 
L 264.24 263.626209 
L 264.24 196.927971 
L 264.24 263.626209 
L 264.6 259.96594 
L 264.6 196.927971 
L 264.6 259.96594 
L 264.96 259.96594 
L 264.96 196.927971 
L 264.96 259.96594 
L 265.32 259.96594 
L 265.32 196.927971 
L 265.32 259.96594 
L 265.68 259.96594 
L 265.68 196.927971 
L 265.68 259.96594 
L 266.04 259.96594 
L 266.04 196.927971 
L 266.04 259.96594 
L 266.4 259.96594 
L 266.4 196.927971 
L 266.4 259.96594 
L 266.76 259.96594 
L 266.76 196.927971 
L 266.76 259.96594 
L 267.12 259.96594 
L 267.12 196.927971 
L 267.12 259.96594 
L 267.48 259.96594 
L 267.48 196.927971 
L 267.48 259.96594 
L 267.84 259.96594 
L 267.84 196.927971 
L 267.84 259.96594 
L 268.2 259.96594 
L 268.2 196.927971 
L 268.2 259.96594 
L 268.56 259.96594 
L 268.56 196.927971 
L 268.56 259.96594 
L 268.92 259.96594 
L 268.92 196.927971 
L 268.92 259.96594 
L 269.28 259.96594 
L 269.28 196.927971 
L 269.28 259.96594 
L 269.64 259.96594 
L 269.64 196.927971 
L 269.64 259.96594 
L 270 259.96594 
L 270 196.927971 
L 270 259.96594 
L 270.36 259.96594 
L 270.36 196.927971 
L 270.36 259.96594 
L 270.72 259.96594 
L 270.72 196.927971 
L 270.72 259.96594 
L 271.08 259.96594 
L 271.08 240.851201 
L 271.08 259.96594 
L 271.44 259.96594 
L 271.44 240.851201 
L 271.44 259.96594 
L 271.8 259.96594 
L 271.8 226.210124 
L 271.8 259.96594 
L 272.16 259.96594 
L 272.16 226.210124 
L 272.16 259.96594 
L 272.52 259.96594 
L 272.52 226.210124 
L 272.52 259.96594 
L 272.88 259.96594 
L 272.88 226.210124 
L 272.88 259.96594 
L 273.24 259.96594 
L 273.24 226.210124 
L 273.24 259.96594 
L 273.6 259.96594 
L 273.6 211.569047 
L 273.6 259.96594 
L 273.96 259.96594 
L 273.96 211.569047 
L 273.96 259.96594 
L 274.32 259.96594 
L 274.32 211.569047 
L 274.32 259.96594 
L 274.68 259.96594 
L 274.68 211.569047 
L 274.68 259.96594 
L 275.04 259.96594 
L 275.04 211.569047 
L 275.04 259.96594 
L 275.4 259.96594 
L 275.4 211.569047 
L 275.4 259.96594 
L 275.76 259.96594 
L 275.76 211.569047 
L 275.76 259.96594 
L 276.12 259.96594 
L 276.12 211.569047 
L 276.12 259.96594 
L 276.48 259.96594 
L 276.48 211.569047 
L 276.48 259.96594 
L 276.84 259.96594 
L 276.84 240.851201 
L 276.84 259.96594 
L 277.2 263.626209 
L 277.2 240.851201 
L 277.2 263.626209 
L 277.56 263.626209 
L 277.56 240.851201 
L 277.56 263.626209 
L 277.92 263.626209 
L 277.92 226.210124 
L 277.92 263.626209 
L 278.28 263.626209 
L 278.28 226.210124 
L 278.28 263.626209 
L 278.64 263.626209 
L 278.64 226.210124 
L 278.64 263.626209 
L 279 263.626209 
L 279 226.210124 
L 279 263.626209 
L 279.36 263.626209 
L 279.36 226.210124 
L 279.36 263.626209 
L 279.72 263.626209 
L 279.72 226.210124 
L 279.72 263.626209 
L 280.08 263.626209 
L 280.08 226.210124 
L 280.08 263.626209 
L 280.44 259.96594 
L 280.44 226.210124 
L 280.44 259.96594 
L 280.8 259.96594 
L 280.8 226.210124 
L 280.8 259.96594 
L 281.16 259.96594 
L 281.16 226.210124 
L 281.16 259.96594 
L 281.52 259.96594 
L 281.52 196.927971 
L 281.52 259.96594 
L 281.88 259.96594 
L 281.88 196.927971 
L 281.88 259.96594 
L 282.24 259.96594 
L 282.24 196.927971 
L 282.24 259.96594 
L 282.6 259.96594 
L 282.6 196.927971 
L 282.6 259.96594 
L 282.96 259.96594 
L 282.96 196.927971 
L 282.96 259.96594 
L 283.32 259.96594 
L 283.32 196.927971 
L 283.32 259.96594 
L 283.68 259.96594 
L 283.68 196.927971 
L 283.68 259.96594 
L 284.04 259.96594 
L 284.04 196.927971 
L 284.04 259.96594 
L 284.4 259.96594 
L 284.4 226.210124 
L 284.4 259.96594 
L 284.76 259.96594 
L 284.76 226.210124 
L 284.76 259.96594 
L 285.12 259.96594 
L 285.12 226.210124 
L 285.12 259.96594 
L 285.48 259.96594 
L 285.48 211.569047 
L 285.48 259.96594 
L 285.84 259.96594 
L 285.84 211.569047 
L 285.84 259.96594 
L 286.2 259.96594 
L 286.2 211.569047 
L 286.2 259.96594 
L 286.56 259.96594 
L 286.56 211.569047 
L 286.56 259.96594 
L 286.92 259.96594 
L 286.92 211.569047 
L 286.92 259.96594 
L 287.28 259.96594 
L 287.28 211.569047 
L 287.28 259.96594 
L 287.64 259.96594 
L 287.64 211.569047 
L 287.64 259.96594 
L 288 259.96594 
L 288 226.210124 
L 288 259.96594 
L 288.36 259.96594 
L 288.36 226.210124 
L 288.36 259.96594 
L 288.72 259.96594 
L 288.72 226.210124 
L 288.72 259.96594 
L 289.08 259.96594 
L 289.08 226.210124 
L 289.08 259.96594 
L 289.44 259.96594 
L 289.44 226.210124 
L 289.44 259.96594 
L 289.8 259.96594 
L 289.8 226.210124 
L 289.8 259.96594 
L 290.16 259.96594 
L 290.16 226.210124 
L 290.16 259.96594 
L 290.52 259.380297 
L 290.52 211.569047 
L 290.52 259.380297 
L 290.88 259.380297 
L 290.88 211.569047 
L 290.88 259.380297 
L 291.24 259.380297 
L 291.24 211.569047 
L 291.24 259.380297 
L 291.6 259.380297 
L 291.6 211.569047 
L 291.6 259.380297 
L 291.96 259.380297 
L 291.96 211.569047 
L 291.96 259.380297 
L 292.32 259.380297 
L 292.32 211.569047 
L 292.32 259.380297 
L 292.68 259.380297 
L 292.68 211.569047 
L 292.68 259.380297 
L 293.04 259.380297 
L 293.04 211.569047 
L 293.04 259.380297 
L 293.4 259.380297 
L 293.4 211.569047 
L 293.4 259.380297 
L 293.76 259.380297 
L 293.76 211.569047 
L 293.76 259.380297 
L 294.12 259.380297 
L 294.12 211.569047 
L 294.12 259.380297 
L 294.48 259.380297 
L 294.48 211.569047 
L 294.48 259.380297 
L 294.84 259.380297 
L 294.84 211.569047 
L 294.84 259.380297 
L 295.2 259.380297 
L 295.2 211.569047 
L 295.2 259.380297 
L 295.56 259.380297 
L 295.56 211.569047 
L 295.56 259.380297 
L 295.92 259.380297 
L 295.92 211.569047 
L 295.92 259.380297 
L 296.28 259.380297 
L 296.28 226.210124 
L 296.28 259.380297 
L 296.64 259.380297 
L 296.64 226.210124 
L 296.64 259.380297 
L 297 263.626209 
L 297 226.210124 
L 297 263.626209 
L 297.36 260.697993 
L 297.36 226.210124 
L 297.36 260.697993 
L 297.72 260.697993 
L 297.72 226.210124 
L 297.72 260.697993 
L 298.08 260.697993 
L 298.08 226.210124 
L 298.08 260.697993 
L 298.44 260.697993 
L 298.44 226.210124 
L 298.44 260.697993 
L 298.8 260.697993 
L 298.8 211.569047 
L 298.8 260.697993 
L 299.16 260.697993 
L 299.16 211.569047 
L 299.16 260.697993 
L 299.52 260.697993 
L 299.52 211.569047 
L 299.52 260.697993 
L 299.88 260.697993 
L 299.88 211.569047 
L 299.88 260.697993 
L 300.24 259.380297 
L 300.24 211.569047 
L 300.24 259.380297 
L 300.6 259.380297 
L 300.6 211.569047 
L 300.6 259.380297 
L 300.96 259.380297 
L 300.96 211.569047 
L 300.96 259.380297 
L 301.32 259.380297 
L 301.32 211.569047 
L 301.32 259.380297 
L 301.68 259.380297 
L 301.68 211.569047 
L 301.68 259.380297 
L 302.04 259.380297 
L 302.04 191.657183 
L 302.04 259.380297 
L 302.4 259.380297 
L 302.4 191.657183 
L 302.4 259.380297 
L 302.76 259.380297 
L 302.76 205.061902 
L 302.76 259.380297 
L 303.12 259.380297 
L 303.12 205.061902 
L 303.12 259.380297 
L 303.48 259.380297 
L 303.48 205.061902 
L 303.48 259.380297 
L 303.84 263.626209 
L 303.84 205.061902 
L 303.84 263.626209 
L 304.2 252.645401 
L 304.2 205.061902 
L 304.2 252.645401 
L 304.56 252.645401 
L 304.56 205.061902 
L 304.56 252.645401 
L 304.92 252.645401 
L 304.92 191.657183 
L 304.92 252.645401 
L 305.28 252.645401 
L 305.28 191.657183 
L 305.28 252.645401 
L 305.64 252.645401 
L 305.64 211.569047 
L 305.64 252.645401 
L 306 252.645401 
L 306 211.569047 
L 306 252.645401 
L 306.36 252.645401 
L 306.36 211.569047 
L 306.36 252.645401 
L 306.72 252.645401 
L 306.72 211.569047 
L 306.72 252.645401 
L 307.08 263.626209 
L 307.08 211.569047 
L 307.08 263.626209 
L 307.44 263.626209 
L 307.44 211.569047 
L 307.44 263.626209 
L 307.8 263.626209 
L 307.8 211.569047 
L 307.8 263.626209 
L 308.16 263.626209 
L 308.16 226.210124 
L 308.16 263.626209 
L 308.52 263.626209 
L 308.52 226.210124 
L 308.52 263.626209 
L 308.88 263.626209 
L 308.88 226.210124 
L 308.88 263.626209 
L 309.24 263.626209 
L 309.24 226.210124 
L 309.24 263.626209 
L 309.6 263.626209 
L 309.6 240.851201 
L 309.6 263.626209 
L 309.96 263.626209 
L 309.96 240.851201 
L 309.96 263.626209 
L 310.32 263.626209 
L 310.32 240.851201 
L 310.32 263.626209 
L 310.68 263.626209 
L 310.68 240.851201 
L 310.68 263.626209 
L 311.04 263.626209 
L 311.04 240.851201 
L 311.04 263.626209 
L 311.4 263.626209 
L 311.4 240.851201 
L 311.4 263.626209 
L 311.76 263.626209 
L 311.76 240.851201 
L 311.76 263.626209 
L 312.12 263.626209 
L 312.12 240.851201 
L 312.12 263.626209 
L 312.48 263.626209 
L 312.48 240.851201 
L 312.48 263.626209 
L 312.84 263.626209 
L 312.84 240.851201 
L 312.84 263.626209 
L 313.2 263.626209 
L 313.2 240.851201 
L 313.2 263.626209 
L 313.56 263.626209 
L 313.56 240.851201 
L 313.56 263.626209 
L 313.92 263.626209 
L 313.92 240.851201 
L 313.92 263.626209 
L 314.28 263.626209 
L 314.28 240.851201 
L 314.28 263.626209 
L 314.64 263.626209 
L 314.64 240.851201 
L 314.64 263.626209 
L 315 263.626209 
L 315 240.851201 
L 315 263.626209 
L 315.36 263.626209 
L 315.36 240.851201 
L 315.36 263.626209 
L 315.72 263.626209 
L 315.72 240.851201 
L 315.72 263.626209 
L 316.08 263.626209 
L 316.08 240.851201 
L 316.08 263.626209 
L 316.44 263.626209 
L 316.44 240.851201 
L 316.44 263.626209 
L 316.8 263.626209 
L 316.8 240.851201 
L 316.8 263.626209 
L 317.16 263.626209 
L 317.16 240.851201 
L 317.16 263.626209 
L 317.52 263.626209 
L 317.52 240.851201 
L 317.52 263.626209 
L 317.88 263.626209 
L 317.88 240.851201 
L 317.88 263.626209 
L 318.24 263.626209 
L 318.24 240.851201 
L 318.24 263.626209 
L 318.6 263.626209 
L 318.6 240.851201 
L 318.6 263.626209 
L 318.96 263.626209 
L 318.96 240.851201 
L 318.96 263.626209 
L 319.32 263.626209 
L 319.32 240.851201 
L 319.32 263.626209 
L 319.68 263.626209 
L 319.68 240.851201 
L 319.68 263.626209 
L 320.04 263.626209 
L 320.04 240.851201 
L 320.04 263.626209 
L 320.4 263.626209 
L 320.4 226.210124 
L 320.4 263.626209 
L 320.76 263.626209 
L 320.76 226.210124 
L 320.76 263.626209 
L 321.12 263.626209 
L 321.12 226.210124 
L 321.12 263.626209 
L 321.48 263.626209 
L 321.48 226.210124 
L 321.48 263.626209 
L 321.84 263.626209 
L 321.84 226.210124 
L 321.84 263.626209 
L 322.2 263.626209 
L 322.2 226.210124 
L 322.2 263.626209 
L 322.56 263.626209 
L 322.56 226.210124 
L 322.56 263.626209 
L 322.92 263.626209 
L 322.92 226.210124 
L 322.92 263.626209 
L 323.28 263.626209 
L 323.28 226.210124 
L 323.28 263.626209 
L 323.64 263.626209 
L 323.64 226.210124 
L 323.64 263.626209 
L 324 263.626209 
L 324 226.210124 
L 324 263.626209 
L 324.36 263.626209 
L 324.36 226.210124 
L 324.36 263.626209 
L 324.72 263.626209 
L 324.72 226.210124 
L 324.72 263.626209 
L 325.08 263.626209 
L 325.08 226.210124 
L 325.08 263.626209 
L 325.44 263.626209 
L 325.44 226.210124 
L 325.44 263.626209 
L 325.8 263.626209 
L 325.8 226.210124 
L 325.8 263.626209 
L 326.16 263.626209 
L 326.16 226.210124 
L 326.16 263.626209 
L 326.52 261.430047 
L 326.52 240.851201 
L 326.52 261.430047 
L 326.88 261.430047 
L 326.88 240.851201 
L 326.88 261.430047 
L 327.24 261.430047 
L 327.24 226.210124 
L 327.24 261.430047 
L 327.6 261.430047 
L 327.6 226.210124 
L 327.6 261.430047 
L 327.96 261.430047 
L 327.96 226.210124 
L 327.96 261.430047 
L 328.32 261.430047 
L 328.32 226.210124 
L 328.32 261.430047 
L 328.68 261.430047 
L 328.68 226.210124 
L 328.68 261.430047 
L 329.04 261.430047 
L 329.04 226.210124 
L 329.04 261.430047 
L 329.4 263.626209 
L 329.4 226.210124 
L 329.4 263.626209 
L 329.76 263.626209 
L 329.76 226.210124 
L 329.76 263.626209 
L 330.12 263.626209 
L 330.12 226.210124 
L 330.12 263.626209 
L 330.48 263.626209 
L 330.48 226.210124 
L 330.48 263.626209 
L 330.84 263.626209 
L 330.84 226.210124 
L 330.84 263.626209 
L 331.2 263.626209 
L 331.2 240.851201 
L 331.2 263.626209 
L 331.56 263.626209 
L 331.56 240.851201 
L 331.56 263.626209 
L 331.92 263.626209 
L 331.92 240.851201 
L 331.92 263.626209 
L 332.28 263.626209 
L 332.28 240.851201 
L 332.28 263.626209 
L 332.64 263.626209 
L 332.64 240.851201 
L 332.64 263.626209 
L 333 263.626209 
L 333 240.851201 
L 333 263.626209 
L 333.36 263.626209 
L 333.36 240.851201 
L 333.36 263.626209 
L 333.72 261.430047 
L 333.72 240.851201 
L 333.72 261.430047 
L 334.08 261.430047 
L 334.08 240.851201 
L 334.08 261.430047 
L 334.44 261.430047 
L 334.44 226.210124 
L 334.44 261.430047 
L 334.8 261.430047 
L 334.8 226.210124 
L 334.8 261.430047 
L 335.16 261.430047 
L 335.16 226.210124 
L 335.16 261.430047 
L 335.52 263.626209 
L 335.52 226.210124 
L 335.52 263.626209 
L 335.88 261.430047 
L 335.88 226.210124 
L 335.88 261.430047 
L 336.24 261.430047 
L 336.24 226.210124 
L 336.24 261.430047 
L 336.6 261.430047 
L 336.6 226.210124 
L 336.6 261.430047 
L 336.96 261.430047 
L 336.96 226.210124 
L 336.96 261.430047 
L 337.32 261.430047 
L 337.32 226.210124 
L 337.32 261.430047 
L 337.68 261.430047 
L 337.68 226.210124 
L 337.68 261.430047 
L 338.04 261.430047 
L 338.04 226.210124 
L 338.04 261.430047 
L 338.4 261.430047 
L 338.4 226.210124 
L 338.4 261.430047 
L 338.76 261.430047 
L 338.76 226.210124 
L 338.76 261.430047 
L 339.12 261.430047 
L 339.12 240.851201 
L 339.12 261.430047 
L 339.48 263.626209 
L 339.48 240.851201 
L 339.48 263.626209 
L 339.84 263.626209 
L 339.84 240.851201 
L 339.84 263.626209 
L 340.2 263.626209 
L 340.2 240.851201 
L 340.2 263.626209 
L 340.56 263.626209 
L 340.56 240.851201 
L 340.56 263.626209 
L 340.92 263.626209 
L 340.92 240.851201 
L 340.92 263.626209 
L 341.28 263.626209 
L 341.28 240.851201 
L 341.28 263.626209 
L 341.64 263.626209 
L 341.64 240.851201 
L 341.64 263.626209 
L 342 263.626209 
L 342 226.210124 
L 342 263.626209 
L 342.36 263.626209 
L 342.36 226.210124 
L 342.36 263.626209 
L 342.72 261.430047 
L 342.72 226.210124 
L 342.72 261.430047 
L 343.08 261.430047 
L 343.08 226.210124 
L 343.08 261.430047 
L 343.44 261.430047 
L 343.44 226.210124 
L 343.44 261.430047 
L 343.8 261.430047 
L 343.8 226.210124 
L 343.8 261.430047 
L 344.16 261.430047 
L 344.16 226.210124 
L 344.16 261.430047 
L 344.52 261.430047 
L 344.52 226.210124 
L 344.52 261.430047 
L 344.88 261.430047 
L 344.88 240.851201 
L 344.88 261.430047 
L 345.24 261.430047 
L 345.24 240.851201 
L 345.24 261.430047 
L 345.6 263.626209 
L 345.6 240.851201 
L 345.6 263.626209 
L 345.96 263.626209 
L 345.96 240.851201 
L 345.96 263.626209 
L 346.32 263.626209 
L 346.32 240.851201 
L 346.32 263.626209 
L 346.68 263.626209 
L 346.68 240.851201 
L 346.68 263.626209 
L 347.04 263.626209 
L 347.04 240.851201 
L 347.04 263.626209 
L 347.4 263.626209 
L 347.4 255.492277 
L 347.4 263.626209 
L 347.76 263.626209 
L 347.76 255.492277 
L 347.76 263.626209 
L 348.12 263.626209 
L 348.12 255.492277 
L 348.12 263.626209 
L 348.48 263.626209 
L 348.48 255.492277 
L 348.48 263.626209 
L 348.84 263.626209 
L 348.84 226.210124 
L 348.84 263.626209 
L 349.2 263.626209 
L 349.2 226.210124 
L 349.2 263.626209 
L 349.56 263.626209 
L 349.56 226.210124 
L 349.56 263.626209 
L 349.92 263.626209 
L 349.92 226.210124 
L 349.92 263.626209 
L 350.28 263.626209 
L 350.28 226.210124 
L 350.28 263.626209 
L 350.64 263.626209 
L 350.64 226.210124 
L 350.64 263.626209 
L 351 263.626209 
L 351 226.210124 
L 351 263.626209 
L 351.36 263.626209 
L 351.36 226.210124 
L 351.36 263.626209 
L 351.72 263.626209 
L 351.72 226.210124 
L 351.72 263.626209 
L 352.08 263.626209 
L 352.08 226.210124 
L 352.08 263.626209 
L 352.44 263.626209 
L 352.44 226.210124 
L 352.44 263.626209 
L 352.8 263.626209 
L 352.8 240.851201 
L 352.8 263.626209 
L 353.16 263.626209 
L 353.16 240.851201 
L 353.16 263.626209 
L 353.52 263.626209 
L 353.52 240.851201 
L 353.52 263.626209 
L 353.88 263.626209 
L 353.88 240.851201 
L 353.88 263.626209 
L 354.24 263.626209 
L 354.24 255.492277 
L 354.24 263.626209 
L 354.6 263.626209 
L 354.6 255.492277 
L 354.6 263.626209 
L 354.96 263.626209 
L 354.96 255.492277 
L 354.96 263.626209 
L 355.32 263.626209 
L 355.32 255.492277 
L 355.32 263.626209 
L 355.68 263.626209 
L 355.68 255.492277 
L 355.68 263.626209 
L 356.04 263.626209 
L 356.04 255.492277 
L 356.04 263.626209 
L 356.4 263.626209 
L 356.4 255.492277 
L 356.4 263.626209 
L 356.76 263.626209 
L 356.76 255.492277 
L 356.76 263.626209 
L 357.12 263.626209 
L 357.12 255.492277 
L 357.12 263.626209 
L 357.48 263.626209 
L 357.48 255.492277 
L 357.48 263.626209 
L 357.84 263.626209 
L 357.84 255.492277 
L 357.84 263.626209 
L 358.2 263.626209 
L 358.2 255.492277 
L 358.2 263.626209 
L 358.56 263.626209 
L 358.56 255.492277 
L 358.56 263.626209 
L 358.92 263.626209 
L 358.92 240.851201 
L 358.92 263.626209 
L 359.28 263.626209 
L 359.28 240.851201 
L 359.28 263.626209 
L 359.64 263.626209 
L 359.64 240.851201 
L 359.64 263.626209 
L 360 263.626209 
L 360 240.851201 
L 360 263.626209 
L 360.36 263.626209 
L 360.36 240.851201 
L 360.36 263.626209 
L 360.72 263.626209 
L 360.72 240.851201 
L 360.72 263.626209 
L 361.08 263.626209 
L 361.08 240.851201 
L 361.08 263.626209 
L 361.44 263.626209 
L 361.44 255.492277 
L 361.44 263.626209 
L 361.8 263.626209 
L 361.8 226.210124 
L 361.8 263.626209 
L 362.16 263.626209 
L 362.16 226.210124 
L 362.16 263.626209 
L 362.52 263.626209 
L 362.52 226.210124 
L 362.52 263.626209 
L 362.88 263.626209 
L 362.88 226.210124 
L 362.88 263.626209 
L 363.24 263.626209 
L 363.24 226.210124 
L 363.24 263.626209 
L 363.6 263.626209 
L 363.6 226.210124 
L 363.6 263.626209 
L 363.96 263.626209 
L 363.96 226.210124 
L 363.96 263.626209 
L 364.32 263.626209 
L 364.32 226.210124 
L 364.32 263.626209 
L 364.68 263.626209 
L 364.68 240.851201 
L 364.68 263.626209 
L 365.04 263.626209 
L 365.04 240.851201 
L 365.04 263.626209 
L 365.4 263.626209 
L 365.4 240.851201 
L 365.4 263.626209 
L 365.76 263.626209 
L 365.76 240.851201 
L 365.76 263.626209 
L 366.12 263.626209 
L 366.12 240.851201 
L 366.12 263.626209 
L 366.48 263.626209 
L 366.48 240.851201 
L 366.48 263.626209 
L 366.84 263.626209 
L 366.84 240.851201 
L 366.84 263.626209 
L 367.2 263.626209 
L 367.2 240.851201 
L 367.2 263.626209 
L 367.56 263.626209 
L 367.56 240.851201 
L 367.56 263.626209 
L 367.92 263.626209 
L 367.92 240.851201 
L 367.92 263.626209 
L 368.28 263.626209 
L 368.28 240.851201 
L 368.28 263.626209 
L 368.64 263.626209 
L 368.64 240.851201 
L 368.64 263.626209 
L 369 263.626209 
L 369 240.851201 
L 369 263.626209 
L 369.36 263.626209 
L 369.36 240.851201 
L 369.36 263.626209 
L 369.72 263.626209 
L 369.72 240.851201 
L 369.72 263.626209 
L 370.08 263.626209 
L 370.08 240.851201 
L 370.08 263.626209 
L 370.44 263.626209 
L 370.44 240.851201 
L 370.44 263.626209 
L 370.8 263.626209 
L 370.8 240.851201 
L 370.8 263.626209 
L 371.16 263.626209 
L 371.16 240.851201 
L 371.16 263.626209 
L 371.52 263.626209 
L 371.52 240.851201 
L 371.52 263.626209 
L 371.88 263.626209 
L 371.88 240.851201 
L 371.88 263.626209 
L 372.24 263.626209 
L 372.24 240.851201 
L 372.24 263.626209 
L 372.6 263.626209 
L 372.6 240.851201 
L 372.6 263.626209 
L 372.96 263.626209 
L 372.96 240.851201 
L 372.96 263.626209 
L 373.32 263.626209 
L 373.32 240.851201 
L 373.32 263.626209 
L 373.68 263.626209 
L 373.68 255.492277 
L 373.68 263.626209 
L 374.04 263.626209 
L 374.04 255.492277 
L 374.04 263.626209 
L 374.4 263.626209 
L 374.4 255.492277 
L 374.4 263.626209 
L 374.76 263.626209 
L 374.76 255.492277 
L 374.76 263.626209 
L 375.12 263.626209 
L 375.12 255.492277 
L 375.12 263.626209 
L 375.48 263.626209 
L 375.48 255.492277 
L 375.48 263.626209 
L 375.84 263.626209 
L 375.84 240.851201 
L 375.84 263.626209 
L 376.2 263.626209 
L 376.2 240.851201 
L 376.2 263.626209 
L 376.56 263.626209 
L 376.56 240.851201 
L 376.56 263.626209 
L 376.92 263.626209 
L 376.92 240.851201 
L 376.92 263.626209 
L 377.28 263.626209 
L 377.28 240.851201 
L 377.28 263.626209 
L 377.64 263.626209 
L 377.64 240.851201 
L 377.64 263.626209 
L 378 263.626209 
L 378 240.851201 
L 378 263.626209 
L 378.36 263.626209 
L 378.36 240.851201 
L 378.36 263.626209 
L 378.72 263.626209 
L 378.72 240.851201 
L 378.72 263.626209 
L 379.08 263.626209 
L 379.08 240.851201 
L 379.08 263.626209 
L 379.44 263.626209 
L 379.44 240.851201 
L 379.44 263.626209 
L 379.8 263.626209 
L 379.8 240.851201 
L 379.8 263.626209 
L 380.16 263.626209 
L 380.16 240.851201 
L 380.16 263.626209 
L 380.52 263.626209 
L 380.52 240.851201 
L 380.52 263.626209 
L 380.88 263.626209 
L 380.88 240.851201 
L 380.88 263.626209 
L 381.24 263.626209 
L 381.24 255.492277 
L 381.24 263.626209 
L 381.6 263.626209 
L 381.6 240.851201 
L 381.6 263.626209 
L 381.96 263.626209 
L 381.96 240.851201 
L 381.96 263.626209 
L 382.32 263.626209 
L 382.32 240.851201 
L 382.32 263.626209 
L 382.68 263.626209 
L 382.68 240.851201 
L 382.68 263.626209 
L 383.04 263.626209 
L 383.04 240.851201 
L 383.04 263.626209 
L 383.4 263.626209 
L 383.4 240.851201 
L 383.4 263.626209 
L 383.76 263.626209 
L 383.76 240.851201 
L 383.76 263.626209 
L 384.12 263.626209 
L 384.12 240.851201 
L 384.12 263.626209 
L 384.48 263.626209 
L 384.48 240.851201 
L 384.48 263.626209 
L 384.84 263.626209 
L 384.84 240.851201 
L 384.84 263.626209 
L 385.2 263.626209 
L 385.2 240.851201 
L 385.2 263.626209 
L 385.56 263.626209 
L 385.56 240.851201 
L 385.56 263.626209 
L 385.92 263.626209 
L 385.92 240.851201 
L 385.92 263.626209 
L 386.28 263.626209 
L 386.28 240.851201 
L 386.28 263.626209 
L 386.64 263.626209 
L 386.64 240.851201 
L 386.64 263.626209 
L 387 263.626209 
L 387 255.492277 
L 387 263.626209 
L 387.36 263.626209 
L 387.36 255.492277 
L 387.36 263.626209 
L 387.72 263.626209 
L 387.72 240.851201 
L 387.72 263.626209 
L 388.08 263.626209 
L 388.08 240.851201 
L 388.08 263.626209 
L 388.44 263.626209 
L 388.44 240.851201 
L 388.44 263.626209 
L 388.8 263.626209 
L 388.8 240.851201 
L 388.8 263.626209 
L 389.16 263.626209 
L 389.16 240.851201 
L 389.16 263.626209 
L 389.52 263.626209 
L 389.52 240.851201 
L 389.52 263.626209 
L 389.88 263.626209 
L 389.88 240.851201 
L 389.88 263.626209 
L 390.24 263.626209 
L 390.24 240.851201 
L 390.24 263.626209 
L 390.6 263.626209 
L 390.6 255.492277 
L 390.6 263.626209 
L 390.96 263.626209 
L 390.96 255.492277 
L 390.96 263.626209 
L 391.32 263.626209 
L 391.32 240.851201 
L 391.32 263.626209 
L 391.68 263.626209 
L 391.68 240.851201 
L 391.68 263.626209 
L 392.04 263.626209 
L 392.04 240.851201 
L 392.04 263.626209 
L 392.4 263.626209 
L 392.4 240.851201 
L 392.4 263.626209 
L 392.76 263.626209 
L 392.76 240.851201 
L 392.76 263.626209 
L 393.12 263.626209 
L 393.12 240.851201 
L 393.12 263.626209 
L 393.48 263.626209 
L 393.48 240.851201 
L 393.48 263.626209 
L 393.84 263.626209 
L 393.84 240.851201 
L 393.84 263.626209 
L 394.2 263.626209 
L 394.2 240.851201 
L 394.2 263.626209 
L 394.56 263.626209 
L 394.56 240.851201 
L 394.56 263.626209 
L 394.92 263.626209 
L 394.92 226.210124 
L 394.92 263.626209 
L 395.28 263.626209 
L 395.28 226.210124 
L 395.28 263.626209 
L 395.64 263.626209 
L 395.64 226.210124 
L 395.64 263.626209 
L 396 263.626209 
L 396 226.210124 
L 396 263.626209 
L 396.36 263.626209 
L 396.36 226.210124 
L 396.36 263.626209 
L 396.72 261.430047 
L 396.72 226.210124 
L 396.72 261.430047 
L 397.08 261.430047 
L 397.08 226.210124 
L 397.08 261.430047 
L 397.44 261.430047 
L 397.44 226.210124 
L 397.44 261.430047 
L 397.8 261.430047 
L 397.8 226.210124 
L 397.8 261.430047 
L 398.16 261.430047 
L 398.16 226.210124 
L 398.16 261.430047 
L 398.52 261.430047 
L 398.52 211.569047 
L 398.52 261.430047 
L 398.88 261.430047 
L 398.88 211.569047 
L 398.88 261.430047 
L 399.24 261.430047 
L 399.24 211.569047 
L 399.24 261.430047 
L 399.6 261.430047 
L 399.6 211.569047 
L 399.6 261.430047 
L 399.96 261.430047 
L 399.96 211.569047 
L 399.96 261.430047 
L 400.32 261.430047 
L 400.32 211.569047 
L 400.32 261.430047 
L 400.68 261.430047 
L 400.68 211.569047 
L 400.68 261.430047 
L 401.04 261.430047 
L 401.04 211.569047 
L 401.04 261.430047 
L 401.4 261.430047 
L 401.4 211.569047 
L 401.4 261.430047 
L 401.76 261.430047 
L 401.76 211.569047 
L 401.76 261.430047 
L 402.12 261.430047 
L 402.12 211.569047 
L 402.12 261.430047 
L 402.48 261.430047 
L 402.48 226.210124 
L 402.48 261.430047 
L 402.84 261.430047 
L 402.84 211.569047 
L 402.84 261.430047 
L 403.2 261.430047 
L 403.2 211.569047 
L 403.2 261.430047 
L 403.56 261.430047 
L 403.56 211.569047 
L 403.56 261.430047 
L 403.92 261.430047 
L 403.92 211.569047 
L 403.92 261.430047 
L 404.28 261.430047 
L 404.28 211.569047 
L 404.28 261.430047 
L 404.64 261.430047 
L 404.64 211.569047 
L 404.64 261.430047 
L 405 261.430047 
L 405 211.569047 
L 405 261.430047 
L 405.36 261.430047 
L 405.36 211.569047 
L 405.36 261.430047 
L 405.72 261.430047 
L 405.72 226.210124 
L 405.72 261.430047 
L 406.08 261.430047 
L 406.08 211.569047 
L 406.08 261.430047 
L 406.44 261.430047 
L 406.44 211.569047 
L 406.44 261.430047 
L 406.8 262.162101 
L 406.8 211.569047 
L 406.8 262.162101 
L 407.16 262.162101 
L 407.16 211.569047 
L 407.16 262.162101 
L 407.52 262.162101 
L 407.52 211.569047 
L 407.52 262.162101 
L 407.88 262.162101 
L 407.88 211.569047 
L 407.88 262.162101 
L 408.24 262.162101 
L 408.24 211.569047 
L 408.24 262.162101 
L 408.6 262.162101 
L 408.6 211.569047 
L 408.6 262.162101 
L 408.96 262.162101 
L 408.96 226.210124 
L 408.96 262.162101 
L 409.32 262.162101 
L 409.32 226.210124 
L 409.32 262.162101 
L 409.68 260.258761 
L 409.68 226.210124 
L 409.68 260.258761 
L 410.04 260.258761 
L 410.04 161.789387 
L 410.04 260.258761 
L 410.4 258.355421 
L 410.4 161.789387 
L 410.4 258.355421 
L 410.76 258.355421 
L 410.76 174.315641 
L 410.76 258.355421 
L 411.12 256.452081 
L 411.12 174.315641 
L 411.12 256.452081 
L 411.48 256.452081 
L 411.48 174.315641 
L 411.48 256.452081 
L 411.84 254.548741 
L 411.84 174.315641 
L 411.84 254.548741 
L 412.2 254.548741 
L 412.2 174.315641 
L 412.2 254.548741 
L 412.56 252.645401 
L 412.56 174.315641 
L 412.56 252.645401 
L 412.92 252.645401 
L 412.92 179.358679 
L 412.92 252.645401 
L 413.28 250.742061 
L 413.28 161.789387 
L 413.28 250.742061 
L 413.64 250.742061 
L 413.64 179.358679 
L 413.64 250.742061 
L 414 248.838721 
L 414 196.927971 
L 414 248.838721 
L 414.36 248.838721 
L 414.36 196.927971 
L 414.36 248.838721 
L 414.72 246.935381 
L 414.72 167.645818 
L 414.72 246.935381 
L 415.08 246.935381 
L 415.08 178.707964 
L 415.08 246.935381 
L 415.44 245.032041 
L 415.44 178.707964 
L 415.44 245.032041 
L 415.8 245.032041 
L 415.8 178.707964 
L 415.8 245.032041 
L 416.1816 243.128701 
L 416.1816 178.707964 
L 416.1816 243.128701 
" clip-path="url(#pa83f3e832d)" style="fill: none; stroke: #1f77b4; stroke-width: 1.5; stroke-linecap: square"/>
</g>
<g id="line2d_32">
<path d="M 62.2656 187.49261 
L 62.2656 143.569381 
L 62.28 187.49261 
L 62.64 187.49261 
L 62.64 114.287227 
L 62.64 187.49261 
L 63 187.49261 
L 63 114.287227 
L 63 187.49261 
L 63.36 187.49261 
L 63.36 114.287227 
L 63.36 187.49261 
L 63.72 187.49261 
L 63.72 70.363998 
L 63.72 187.49261 
L 64.08 187.49261 
L 64.08 70.363998 
L 64.08 187.49261 
L 64.44 187.49261 
L 64.44 114.287227 
L 64.44 187.49261 
L 64.8 187.49261 
L 64.8 114.287227 
L 64.8 187.49261 
L 65.16 187.49261 
L 65.16 114.287227 
L 65.16 187.49261 
L 65.52 187.49261 
L 65.52 128.928304 
L 65.52 187.49261 
L 65.88 187.49261 
L 65.88 128.928304 
L 65.88 187.49261 
L 66.24 187.49261 
L 66.24 128.928304 
L 66.24 187.49261 
L 66.6 187.49261 
L 66.6 128.928304 
L 66.6 187.49261 
L 66.96 187.49261 
L 66.96 128.928304 
L 66.96 187.49261 
L 67.32 187.49261 
L 67.32 128.928304 
L 67.32 187.49261 
L 67.68 187.49261 
L 67.68 128.928304 
L 67.68 187.49261 
L 68.04 205.061902 
L 68.04 128.928304 
L 68.04 205.061902 
L 68.4 165.530995 
L 68.4 128.928304 
L 68.4 165.530995 
L 68.76 165.530995 
L 68.76 128.928304 
L 68.76 165.530995 
L 69.12 165.530995 
L 69.12 128.928304 
L 69.12 165.530995 
L 69.48 165.530995 
L 69.48 128.928304 
L 69.48 165.530995 
L 69.84 165.530995 
L 69.84 128.928304 
L 69.84 165.530995 
L 70.2 165.530995 
L 70.2 128.928304 
L 70.2 165.530995 
L 70.56 219.702979 
L 70.56 128.928304 
L 70.56 219.702979 
L 70.92 219.702979 
L 70.92 128.928304 
L 70.92 219.702979 
L 71.28 219.702979 
L 71.28 128.928304 
L 71.28 219.702979 
L 71.64 219.702979 
L 71.64 128.928304 
L 71.64 219.702979 
L 72 219.702979 
L 72 128.928304 
L 72 219.702979 
L 72.36 219.702979 
L 72.36 114.287227 
L 72.36 219.702979 
L 72.72 205.061902 
L 72.72 114.287227 
L 72.72 205.061902 
L 73.08 205.061902 
L 73.08 38.153629 
L 73.08 205.061902 
L 73.44 158.210457 
L 73.44 38.153629 
L 73.44 158.210457 
L 73.8 158.210457 
L 73.8 85.005074 
L 73.8 158.210457 
L 74.16 158.210457 
L 74.16 85.005074 
L 74.16 158.210457 
L 74.52 158.210457 
L 74.52 85.005074 
L 74.52 158.210457 
L 74.88 158.210457 
L 74.88 99.646151 
L 74.88 158.210457 
L 75.24 158.210457 
L 75.24 99.646151 
L 75.24 158.210457 
L 75.6 187.49261 
L 75.6 99.646151 
L 75.6 187.49261 
L 75.96 187.49261 
L 75.96 99.646151 
L 75.96 187.49261 
L 76.32 187.49261 
L 76.32 99.646151 
L 76.32 187.49261 
L 76.68 187.49261 
L 76.68 158.210457 
L 76.68 187.49261 
L 77.04 187.49261 
L 77.04 158.210457 
L 77.04 187.49261 
L 77.4 219.702979 
L 77.4 158.210457 
L 77.4 219.702979 
L 77.76 219.702979 
L 77.76 158.210457 
L 77.76 219.702979 
L 78.12 187.49261 
L 78.12 158.210457 
L 78.12 187.49261 
L 78.48 187.49261 
L 78.48 158.210457 
L 78.48 187.49261 
L 78.84 187.49261 
L 78.84 158.210457 
L 78.84 187.49261 
L 79.2 187.49261 
L 79.2 128.928304 
L 79.2 187.49261 
L 79.56 187.49261 
L 79.56 128.928304 
L 79.56 187.49261 
L 79.92 187.49261 
L 79.92 128.928304 
L 79.92 187.49261 
L 80.28 187.49261 
L 80.28 158.210457 
L 80.28 187.49261 
L 80.64 205.061902 
L 80.64 158.210457 
L 80.64 205.061902 
L 81 205.061902 
L 81 158.210457 
L 81 205.061902 
L 81.36 205.061902 
L 81.36 158.210457 
L 81.36 205.061902 
L 81.72 205.061902 
L 81.72 158.210457 
L 81.72 205.061902 
L 82.08 205.061902 
L 82.08 114.287227 
L 82.08 205.061902 
L 82.44 219.702979 
L 82.44 114.287227 
L 82.44 219.702979 
L 82.8 219.702979 
L 82.8 114.287227 
L 82.8 219.702979 
L 83.16 187.49261 
L 83.16 114.287227 
L 83.16 187.49261 
L 83.52 187.49261 
L 83.52 114.287227 
L 83.52 187.49261 
L 83.88 187.49261 
L 83.88 55.722921 
L 83.88 187.49261 
L 84.24 187.49261 
L 84.24 128.928304 
L 84.24 187.49261 
L 84.6 187.49261 
L 84.6 128.928304 
L 84.6 187.49261 
L 84.96 187.49261 
L 84.96 128.928304 
L 84.96 187.49261 
L 85.32 187.49261 
L 85.32 128.928304 
L 85.32 187.49261 
L 85.68 187.49261 
L 85.68 128.928304 
L 85.68 187.49261 
L 86.04 187.49261 
L 86.04 128.928304 
L 86.04 187.49261 
L 86.4 187.49261 
L 86.4 99.646151 
L 86.4 187.49261 
L 86.76 187.49261 
L 86.76 143.569381 
L 86.76 187.49261 
L 87.12 205.061902 
L 87.12 143.569381 
L 87.12 205.061902 
L 87.48 205.061902 
L 87.48 143.569381 
L 87.48 205.061902 
L 87.84 205.061902 
L 87.84 143.569381 
L 87.84 205.061902 
L 88.2 165.530995 
L 88.2 143.569381 
L 88.2 165.530995 
L 88.56 165.530995 
L 88.56 143.569381 
L 88.56 165.530995 
L 88.92 165.530995 
L 88.92 143.569381 
L 88.92 165.530995 
L 89.28 165.530995 
L 89.28 143.569381 
L 89.28 165.530995 
L 89.64 165.530995 
L 89.64 143.569381 
L 89.64 165.530995 
L 90 165.530995 
L 90 85.005074 
L 90 165.530995 
L 90.36 165.530995 
L 90.36 85.005074 
L 90.36 165.530995 
L 90.72 205.061902 
L 90.72 143.569381 
L 90.72 205.061902 
L 91.08 205.061902 
L 91.08 143.569381 
L 91.08 205.061902 
L 91.44 205.061902 
L 91.44 143.569381 
L 91.44 205.061902 
L 91.8 205.061902 
L 91.8 143.569381 
L 91.8 205.061902 
L 92.16 205.061902 
L 92.16 158.210457 
L 92.16 205.061902 
L 92.52 205.061902 
L 92.52 158.210457 
L 92.52 205.061902 
L 92.88 205.061902 
L 92.88 158.210457 
L 92.88 205.061902 
L 93.24 205.061902 
L 93.24 158.210457 
L 93.24 205.061902 
L 93.6 205.061902 
L 93.6 158.210457 
L 93.6 205.061902 
L 93.96 205.061902 
L 93.96 158.210457 
L 93.96 205.061902 
L 94.32 205.061902 
L 94.32 158.210457 
L 94.32 205.061902 
L 94.68 205.061902 
L 94.68 158.210457 
L 94.68 205.061902 
L 95.04 205.061902 
L 95.04 158.210457 
L 95.04 205.061902 
L 95.4 205.061902 
L 95.4 158.210457 
L 95.4 205.061902 
L 95.76 205.061902 
L 95.76 158.210457 
L 95.76 205.061902 
L 96.12 187.49261 
L 96.12 158.210457 
L 96.12 187.49261 
L 96.48 187.49261 
L 96.48 158.210457 
L 96.48 187.49261 
L 96.84 187.49261 
L 96.84 128.928304 
L 96.84 187.49261 
L 97.2 187.49261 
L 97.2 158.210457 
L 97.2 187.49261 
L 97.56 187.49261 
L 97.56 158.210457 
L 97.56 187.49261 
L 97.92 205.061902 
L 97.92 158.210457 
L 97.92 205.061902 
L 98.28 205.061902 
L 98.28 158.210457 
L 98.28 205.061902 
L 98.64 205.061902 
L 98.64 158.210457 
L 98.64 205.061902 
L 99 219.702979 
L 99 158.210457 
L 99 219.702979 
L 99.36 219.702979 
L 99.36 158.210457 
L 99.36 219.702979 
L 99.72 205.061902 
L 99.72 158.210457 
L 99.72 205.061902 
L 100.08 205.061902 
L 100.08 114.287227 
L 100.08 205.061902 
L 100.44 205.061902 
L 100.44 114.287227 
L 100.44 205.061902 
L 100.8 205.061902 
L 100.8 114.287227 
L 100.8 205.061902 
L 101.16 205.061902 
L 101.16 114.287227 
L 101.16 205.061902 
L 101.52 205.061902 
L 101.52 99.646151 
L 101.52 205.061902 
L 101.88 205.061902 
L 101.88 172.851534 
L 101.88 205.061902 
L 102.24 205.061902 
L 102.24 172.851534 
L 102.24 205.061902 
L 102.6 205.061902 
L 102.6 172.851534 
L 102.6 205.061902 
L 102.96 205.061902 
L 102.96 172.851534 
L 102.96 205.061902 
L 103.32 205.061902 
L 103.32 172.851534 
L 103.32 205.061902 
L 103.68 248.985132 
L 103.68 172.851534 
L 103.68 248.985132 
L 104.04 248.985132 
L 104.04 172.851534 
L 104.04 248.985132 
L 104.4 219.702979 
L 104.4 143.569381 
L 104.4 219.702979 
L 104.76 219.702979 
L 104.76 143.569381 
L 104.76 219.702979 
L 105.12 219.702979 
L 105.12 143.569381 
L 105.12 219.702979 
L 105.48 219.702979 
L 105.48 172.851534 
L 105.48 219.702979 
L 105.84 219.702979 
L 105.84 172.851534 
L 105.84 219.702979 
L 106.2 219.702979 
L 106.2 172.851534 
L 106.2 219.702979 
L 106.56 219.702979 
L 106.56 172.851534 
L 106.56 219.702979 
L 106.92 219.702979 
L 106.92 172.851534 
L 106.92 219.702979 
L 107.28 219.702979 
L 107.28 172.851534 
L 107.28 219.702979 
L 107.64 219.702979 
L 107.64 172.851534 
L 107.64 219.702979 
L 108 248.985132 
L 108 172.851534 
L 108 248.985132 
L 108.36 248.985132 
L 108.36 172.851534 
L 108.36 248.985132 
L 108.72 248.985132 
L 108.72 172.851534 
L 108.72 248.985132 
L 109.08 248.985132 
L 109.08 143.569381 
L 109.08 248.985132 
L 109.44 248.985132 
L 109.44 143.569381 
L 109.44 248.985132 
L 109.8 248.985132 
L 109.8 143.569381 
L 109.8 248.985132 
L 110.16 248.985132 
L 110.16 143.569381 
L 110.16 248.985132 
L 110.52 248.985132 
L 110.52 143.569381 
L 110.52 248.985132 
L 110.88 248.985132 
L 110.88 128.928304 
L 110.88 248.985132 
L 111.24 234.344056 
L 111.24 128.928304 
L 111.24 234.344056 
L 111.6 234.344056 
L 111.6 128.928304 
L 111.6 234.344056 
L 111.96 234.344056 
L 111.96 128.928304 
L 111.96 234.344056 
L 112.32 234.344056 
L 112.32 99.646151 
L 112.32 234.344056 
L 112.68 234.344056 
L 112.68 143.569381 
L 112.68 234.344056 
L 113.04 234.344056 
L 113.04 143.569381 
L 113.04 234.344056 
L 113.4 234.344056 
L 113.4 143.569381 
L 113.4 234.344056 
L 113.76 234.344056 
L 113.76 143.569381 
L 113.76 234.344056 
L 114.12 234.344056 
L 114.12 143.569381 
L 114.12 234.344056 
L 114.48 234.344056 
L 114.48 143.569381 
L 114.48 234.344056 
L 114.84 234.344056 
L 114.84 143.569381 
L 114.84 234.344056 
L 115.2 248.985132 
L 115.2 143.569381 
L 115.2 248.985132 
L 115.56 234.344056 
L 115.56 143.569381 
L 115.56 234.344056 
L 115.92 234.344056 
L 115.92 143.569381 
L 115.92 234.344056 
L 116.28 234.344056 
L 116.28 187.49261 
L 116.28 234.344056 
L 116.64 234.344056 
L 116.64 187.49261 
L 116.64 234.344056 
L 117 234.344056 
L 117 187.49261 
L 117 234.344056 
L 117.36 234.344056 
L 117.36 187.49261 
L 117.36 234.344056 
L 117.72 234.344056 
L 117.72 205.061902 
L 117.72 234.344056 
L 118.08 234.344056 
L 118.08 205.061902 
L 118.08 234.344056 
L 118.44 234.344056 
L 118.44 205.061902 
L 118.44 234.344056 
L 118.8 234.344056 
L 118.8 205.061902 
L 118.8 234.344056 
L 119.16 234.344056 
L 119.16 205.061902 
L 119.16 234.344056 
L 119.52 234.344056 
L 119.52 205.061902 
L 119.52 234.344056 
L 119.88 234.344056 
L 119.88 187.49261 
L 119.88 234.344056 
L 120.24 234.344056 
L 120.24 187.49261 
L 120.24 234.344056 
L 120.6 234.344056 
L 120.6 187.49261 
L 120.6 234.344056 
L 120.96 234.344056 
L 120.96 187.49261 
L 120.96 234.344056 
L 121.32 234.344056 
L 121.32 187.49261 
L 121.32 234.344056 
L 121.68 234.344056 
L 121.68 187.49261 
L 121.68 234.344056 
L 122.04 234.344056 
L 122.04 187.49261 
L 122.04 234.344056 
L 122.4 234.344056 
L 122.4 187.49261 
L 122.4 234.344056 
L 122.76 234.344056 
L 122.76 187.49261 
L 122.76 234.344056 
L 123.12 248.985132 
L 123.12 187.49261 
L 123.12 248.985132 
L 123.48 248.985132 
L 123.48 187.49261 
L 123.48 248.985132 
L 123.84 234.344056 
L 123.84 158.210457 
L 123.84 234.344056 
L 124.2 234.344056 
L 124.2 158.210457 
L 124.2 234.344056 
L 124.56 234.344056 
L 124.56 158.210457 
L 124.56 234.344056 
L 124.92 234.344056 
L 124.92 187.49261 
L 124.92 234.344056 
L 125.28 234.344056 
L 125.28 187.49261 
L 125.28 234.344056 
L 125.64 234.344056 
L 125.64 187.49261 
L 125.64 234.344056 
L 126 234.344056 
L 126 187.49261 
L 126 234.344056 
L 126.36 234.344056 
L 126.36 187.49261 
L 126.36 234.344056 
L 126.72 234.344056 
L 126.72 219.702979 
L 126.72 234.344056 
L 127.08 234.344056 
L 127.08 219.702979 
L 127.08 234.344056 
L 127.44 248.985132 
L 127.44 219.702979 
L 127.44 248.985132 
L 127.8 248.985132 
L 127.8 219.702979 
L 127.8 248.985132 
L 128.16 248.985132 
L 128.16 219.702979 
L 128.16 248.985132 
L 128.52 248.985132 
L 128.52 219.702979 
L 128.52 248.985132 
L 128.88 248.985132 
L 128.88 219.702979 
L 128.88 248.985132 
L 129.24 248.985132 
L 129.24 219.702979 
L 129.24 248.985132 
L 129.6 248.985132 
L 129.6 205.061902 
L 129.6 248.985132 
L 129.96 248.985132 
L 129.96 205.061902 
L 129.96 248.985132 
L 130.32 248.985132 
L 130.32 205.061902 
L 130.32 248.985132 
L 130.68 248.985132 
L 130.68 205.061902 
L 130.68 248.985132 
L 131.04 248.985132 
L 131.04 205.061902 
L 131.04 248.985132 
L 131.4 248.985132 
L 131.4 205.061902 
L 131.4 248.985132 
L 131.76 248.985132 
L 131.76 205.061902 
L 131.76 248.985132 
L 132.12 234.344056 
L 132.12 205.061902 
L 132.12 234.344056 
L 132.48 234.344056 
L 132.48 205.061902 
L 132.48 234.344056 
L 132.84 234.344056 
L 132.84 205.061902 
L 132.84 234.344056 
L 133.2 234.344056 
L 133.2 172.851534 
L 133.2 234.344056 
L 133.56 234.344056 
L 133.56 172.851534 
L 133.56 234.344056 
L 133.92 234.344056 
L 133.92 172.851534 
L 133.92 234.344056 
L 134.28 234.344056 
L 134.28 205.061902 
L 134.28 234.344056 
L 134.64 234.344056 
L 134.64 205.061902 
L 134.64 234.344056 
L 135 234.344056 
L 135 205.061902 
L 135 234.344056 
L 135.36 248.985132 
L 135.36 205.061902 
L 135.36 248.985132 
L 135.72 219.702979 
L 135.72 205.061902 
L 135.72 219.702979 
L 136.08 219.702979 
L 136.08 205.061902 
L 136.08 219.702979 
L 136.44 219.702979 
L 136.44 205.061902 
L 136.44 219.702979 
L 136.8 219.702979 
L 136.8 172.851534 
L 136.8 219.702979 
L 137.16 219.702979 
L 137.16 172.851534 
L 137.16 219.702979 
L 137.52 219.702979 
L 137.52 172.851534 
L 137.52 219.702979 
L 137.88 263.626209 
L 137.88 205.061902 
L 137.88 263.626209 
L 138.24 263.626209 
L 138.24 205.061902 
L 138.24 263.626209 
L 138.6 248.985132 
L 138.6 205.061902 
L 138.6 248.985132 
L 138.96 248.985132 
L 138.96 205.061902 
L 138.96 248.985132 
L 139.32 248.985132 
L 139.32 205.061902 
L 139.32 248.985132 
L 139.68 248.985132 
L 139.68 219.702979 
L 139.68 248.985132 
L 140.04 248.985132 
L 140.04 219.702979 
L 140.04 248.985132 
L 140.4 248.985132 
L 140.4 219.702979 
L 140.4 248.985132 
L 140.76 248.985132 
L 140.76 219.702979 
L 140.76 248.985132 
L 141.12 248.985132 
L 141.12 219.702979 
L 141.12 248.985132 
L 141.48 248.985132 
L 141.48 219.702979 
L 141.48 248.985132 
L 141.84 248.985132 
L 141.84 219.702979 
L 141.84 248.985132 
L 142.2 248.985132 
L 142.2 205.061902 
L 142.2 248.985132 
L 142.56 248.985132 
L 142.56 205.061902 
L 142.56 248.985132 
L 142.92 234.344056 
L 142.92 205.061902 
L 142.92 234.344056 
L 143.28 234.344056 
L 143.28 205.061902 
L 143.28 234.344056 
L 143.64 234.344056 
L 143.64 205.061902 
L 143.64 234.344056 
L 144 234.344056 
L 144 205.061902 
L 144 234.344056 
L 144.36 234.344056 
L 144.36 205.061902 
L 144.36 234.344056 
L 144.72 234.344056 
L 144.72 205.061902 
L 144.72 234.344056 
L 145.08 234.344056 
L 145.08 205.061902 
L 145.08 234.344056 
L 145.44 234.344056 
L 145.44 205.061902 
L 145.44 234.344056 
L 145.8 234.344056 
L 145.8 187.49261 
L 145.8 234.344056 
L 146.16 234.344056 
L 146.16 187.49261 
L 146.16 234.344056 
L 146.52 234.344056 
L 146.52 187.49261 
L 146.52 234.344056 
L 146.88 234.344056 
L 146.88 187.49261 
L 146.88 234.344056 
L 147.24 234.344056 
L 147.24 205.061902 
L 147.24 234.344056 
L 147.6 234.344056 
L 147.6 205.061902 
L 147.6 234.344056 
L 147.96 234.344056 
L 147.96 205.061902 
L 147.96 234.344056 
L 148.32 234.344056 
L 148.32 205.061902 
L 148.32 234.344056 
L 148.68 219.702979 
L 148.68 205.061902 
L 148.68 219.702979 
L 149.04 219.702979 
L 149.04 205.061902 
L 149.04 219.702979 
L 149.4 219.702979 
L 149.4 172.851534 
L 149.4 219.702979 
L 149.76 219.702979 
L 149.76 172.851534 
L 149.76 219.702979 
L 150.12 219.702979 
L 150.12 187.49261 
L 150.12 219.702979 
L 150.48 219.702979 
L 150.48 187.49261 
L 150.48 219.702979 
L 150.84 234.344056 
L 150.84 187.49261 
L 150.84 234.344056 
L 151.2 219.702979 
L 151.2 187.49261 
L 151.2 219.702979 
L 151.56 219.702979 
L 151.56 187.49261 
L 151.56 219.702979 
L 151.92 219.702979 
L 151.92 187.49261 
L 151.92 219.702979 
L 152.28 219.702979 
L 152.28 187.49261 
L 152.28 219.702979 
L 152.64 219.702979 
L 152.64 187.49261 
L 152.64 219.702979 
L 153 219.702979 
L 153 187.49261 
L 153 219.702979 
L 153.36 234.344056 
L 153.36 187.49261 
L 153.36 234.344056 
L 153.72 219.702979 
L 153.72 187.49261 
L 153.72 219.702979 
L 154.08 219.702979 
L 154.08 187.49261 
L 154.08 219.702979 
L 154.44 219.702979 
L 154.44 187.49261 
L 154.44 219.702979 
L 154.8 219.702979 
L 154.8 187.49261 
L 154.8 219.702979 
L 155.16 219.702979 
L 155.16 187.49261 
L 155.16 219.702979 
L 155.52 219.702979 
L 155.52 187.49261 
L 155.52 219.702979 
L 155.88 219.702979 
L 155.88 187.49261 
L 155.88 219.702979 
L 156.24 205.061902 
L 156.24 187.49261 
L 156.24 205.061902 
L 156.6 205.061902 
L 156.6 128.928304 
L 156.6 205.061902 
L 156.96 205.061902 
L 156.96 128.928304 
L 156.96 205.061902 
L 157.32 205.061902 
L 157.32 143.569381 
L 157.32 205.061902 
L 157.68 205.061902 
L 157.68 143.569381 
L 157.68 205.061902 
L 158.04 205.061902 
L 158.04 143.569381 
L 158.04 205.061902 
L 158.4 205.061902 
L 158.4 143.569381 
L 158.4 205.061902 
L 158.76 205.061902 
L 158.76 143.569381 
L 158.76 205.061902 
L 159.12 205.061902 
L 159.12 143.569381 
L 159.12 205.061902 
L 159.48 205.061902 
L 159.48 143.569381 
L 159.48 205.061902 
L 159.84 219.702979 
L 159.84 143.569381 
L 159.84 219.702979 
L 160.2 219.702979 
L 160.2 143.569381 
L 160.2 219.702979 
L 160.56 219.702979 
L 160.56 143.569381 
L 160.56 219.702979 
L 160.92 219.702979 
L 160.92 128.928304 
L 160.92 219.702979 
L 161.28 219.702979 
L 161.28 128.928304 
L 161.28 219.702979 
L 161.64 219.702979 
L 161.64 172.851534 
L 161.64 219.702979 
L 162 234.344056 
L 162 172.851534 
L 162 234.344056 
L 162.36 234.344056 
L 162.36 172.851534 
L 162.36 234.344056 
L 162.72 205.061902 
L 162.72 172.851534 
L 162.72 205.061902 
L 163.08 205.061902 
L 163.08 172.851534 
L 163.08 205.061902 
L 163.44 205.061902 
L 163.44 172.851534 
L 163.44 205.061902 
L 163.8 205.061902 
L 163.8 172.851534 
L 163.8 205.061902 
L 164.16 205.061902 
L 164.16 172.851534 
L 164.16 205.061902 
L 164.52 205.061902 
L 164.52 172.851534 
L 164.52 205.061902 
L 164.88 205.061902 
L 164.88 143.569381 
L 164.88 205.061902 
L 165.24 205.061902 
L 165.24 143.569381 
L 165.24 205.061902 
L 165.6 205.061902 
L 165.6 143.569381 
L 165.6 205.061902 
L 165.96 205.061902 
L 165.96 143.569381 
L 165.96 205.061902 
L 166.32 205.061902 
L 166.32 143.569381 
L 166.32 205.061902 
L 166.68 187.49261 
L 166.68 143.569381 
L 166.68 187.49261 
L 167.04 187.49261 
L 167.04 99.646151 
L 167.04 187.49261 
L 167.4 187.49261 
L 167.4 99.646151 
L 167.4 187.49261 
L 167.76 205.061902 
L 167.76 158.210457 
L 167.76 205.061902 
L 168.12 187.49261 
L 168.12 158.210457 
L 168.12 187.49261 
L 168.48 205.061902 
L 168.48 158.210457 
L 168.48 205.061902 
L 168.84 234.344056 
L 168.84 158.210457 
L 168.84 234.344056 
L 169.2 234.344056 
L 169.2 187.49261 
L 169.2 234.344056 
L 169.56 234.344056 
L 169.56 187.49261 
L 169.56 234.344056 
L 169.92 234.344056 
L 169.92 187.49261 
L 169.92 234.344056 
L 170.28 234.344056 
L 170.28 187.49261 
L 170.28 234.344056 
L 170.64 234.344056 
L 170.64 187.49261 
L 170.64 234.344056 
L 171 234.344056 
L 171 187.49261 
L 171 234.344056 
L 171.36 234.344056 
L 171.36 187.49261 
L 171.36 234.344056 
L 171.72 219.702979 
L 171.72 187.49261 
L 171.72 219.702979 
L 172.08 219.702979 
L 172.08 172.851534 
L 172.08 219.702979 
L 172.44 219.702979 
L 172.44 172.851534 
L 172.44 219.702979 
L 172.8 219.702979 
L 172.8 187.49261 
L 172.8 219.702979 
L 173.16 219.702979 
L 173.16 187.49261 
L 173.16 219.702979 
L 173.52 219.702979 
L 173.52 187.49261 
L 173.52 219.702979 
L 173.88 234.344056 
L 173.88 187.49261 
L 173.88 234.344056 
L 174.24 219.702979 
L 174.24 187.49261 
L 174.24 219.702979 
L 174.6 219.702979 
L 174.6 187.49261 
L 174.6 219.702979 
L 174.96 219.702979 
L 174.96 158.210457 
L 174.96 219.702979 
L 175.32 219.702979 
L 175.32 158.210457 
L 175.32 219.702979 
L 175.68 219.702979 
L 175.68 158.210457 
L 175.68 219.702979 
L 176.04 219.702979 
L 176.04 158.210457 
L 176.04 219.702979 
L 176.4 219.702979 
L 176.4 172.851534 
L 176.4 219.702979 
L 176.76 219.702979 
L 176.76 172.851534 
L 176.76 219.702979 
L 177.12 219.702979 
L 177.12 172.851534 
L 177.12 219.702979 
L 177.48 219.702979 
L 177.48 172.851534 
L 177.48 219.702979 
L 177.84 219.702979 
L 177.84 172.851534 
L 177.84 219.702979 
L 178.2 219.702979 
L 178.2 172.851534 
L 178.2 219.702979 
L 178.56 219.702979 
L 178.56 158.210457 
L 178.56 219.702979 
L 178.92 219.702979 
L 178.92 158.210457 
L 178.92 219.702979 
L 179.28 219.702979 
L 179.28 158.210457 
L 179.28 219.702979 
L 179.64 205.061902 
L 179.64 158.210457 
L 179.64 205.061902 
L 180 205.061902 
L 180 158.210457 
L 180 205.061902 
L 180.36 205.061902 
L 180.36 158.210457 
L 180.36 205.061902 
L 180.72 205.061902 
L 180.72 158.210457 
L 180.72 205.061902 
L 181.08 205.061902 
L 181.08 158.210457 
L 181.08 205.061902 
L 181.44 205.061902 
L 181.44 158.210457 
L 181.44 205.061902 
L 181.8 205.061902 
L 181.8 158.210457 
L 181.8 205.061902 
L 182.16 205.061902 
L 182.16 158.210457 
L 182.16 205.061902 
L 182.52 205.061902 
L 182.52 158.210457 
L 182.52 205.061902 
L 182.88 205.061902 
L 182.88 172.851534 
L 182.88 205.061902 
L 183.24 205.061902 
L 183.24 172.851534 
L 183.24 205.061902 
L 183.6 205.061902 
L 183.6 172.851534 
L 183.6 205.061902 
L 183.96 205.061902 
L 183.96 172.851534 
L 183.96 205.061902 
L 184.32 205.061902 
L 184.32 172.851534 
L 184.32 205.061902 
L 184.68 205.061902 
L 184.68 172.851534 
L 184.68 205.061902 
L 185.04 205.061902 
L 185.04 158.210457 
L 185.04 205.061902 
L 185.4 219.702979 
L 185.4 158.210457 
L 185.4 219.702979 
L 185.76 219.702979 
L 185.76 158.210457 
L 185.76 219.702979 
L 186.12 219.702979 
L 186.12 158.210457 
L 186.12 219.702979 
L 186.48 219.702979 
L 186.48 158.210457 
L 186.48 219.702979 
L 186.84 219.702979 
L 186.84 158.210457 
L 186.84 219.702979 
L 187.2 205.061902 
L 187.2 158.210457 
L 187.2 205.061902 
L 187.56 205.061902 
L 187.56 143.569381 
L 187.56 205.061902 
L 187.92 205.061902 
L 187.92 143.569381 
L 187.92 205.061902 
L 188.28 205.061902 
L 188.28 143.569381 
L 188.28 205.061902 
L 188.64 205.061902 
L 188.64 143.569381 
L 188.64 205.061902 
L 189 205.061902 
L 189 143.569381 
L 189 205.061902 
L 189.36 205.061902 
L 189.36 143.569381 
L 189.36 205.061902 
L 189.72 219.702979 
L 189.72 85.005074 
L 189.72 219.702979 
L 190.08 184.564395 
L 190.08 85.005074 
L 190.08 184.564395 
L 190.44 184.564395 
L 190.44 85.005074 
L 190.44 184.564395 
L 190.8 184.564395 
L 190.8 158.210457 
L 190.8 184.564395 
L 191.16 184.564395 
L 191.16 158.210457 
L 191.16 184.564395 
L 191.52 184.564395 
L 191.52 158.210457 
L 191.52 184.564395 
L 191.88 184.564395 
L 191.88 158.210457 
L 191.88 184.564395 
L 192.24 184.564395 
L 192.24 158.210457 
L 192.24 184.564395 
L 192.6 234.344056 
L 192.6 158.210457 
L 192.6 234.344056 
L 192.96 234.344056 
L 192.96 158.210457 
L 192.96 234.344056 
L 193.32 234.344056 
L 193.32 158.210457 
L 193.32 234.344056 
L 193.68 234.344056 
L 193.68 158.210457 
L 193.68 234.344056 
L 194.04 234.344056 
L 194.04 158.210457 
L 194.04 234.344056 
L 194.4 234.344056 
L 194.4 128.928304 
L 194.4 234.344056 
L 194.76 234.344056 
L 194.76 128.928304 
L 194.76 234.344056 
L 195.12 234.344056 
L 195.12 187.49261 
L 195.12 234.344056 
L 195.48 234.344056 
L 195.48 187.49261 
L 195.48 234.344056 
L 195.84 248.985132 
L 195.84 187.49261 
L 195.84 248.985132 
L 196.2 248.985132 
L 196.2 187.49261 
L 196.2 248.985132 
L 196.56 248.985132 
L 196.56 187.49261 
L 196.56 248.985132 
L 196.92 205.061902 
L 196.92 187.49261 
L 196.92 205.061902 
L 197.28 205.061902 
L 197.28 187.49261 
L 197.28 205.061902 
L 197.64 205.061902 
L 197.64 187.49261 
L 197.64 205.061902 
L 198 205.061902 
L 198 158.210457 
L 198 205.061902 
L 198.36 205.061902 
L 198.36 158.210457 
L 198.36 205.061902 
L 198.72 205.061902 
L 198.72 158.210457 
L 198.72 205.061902 
L 199.08 205.061902 
L 199.08 158.210457 
L 199.08 205.061902 
L 199.44 205.061902 
L 199.44 128.928304 
L 199.44 205.061902 
L 199.8 205.061902 
L 199.8 158.210457 
L 199.8 205.061902 
L 200.16 219.702979 
L 200.16 158.210457 
L 200.16 219.702979 
L 200.52 205.061902 
L 200.52 158.210457 
L 200.52 205.061902 
L 200.88 219.702979 
L 200.88 158.210457 
L 200.88 219.702979 
L 201.24 248.985132 
L 201.24 158.210457 
L 201.24 248.985132 
L 201.6 248.985132 
L 201.6 172.851534 
L 201.6 248.985132 
L 201.96 248.985132 
L 201.96 172.851534 
L 201.96 248.985132 
L 202.32 248.985132 
L 202.32 172.851534 
L 202.32 248.985132 
L 202.68 248.985132 
L 202.68 172.851534 
L 202.68 248.985132 
L 203.04 248.985132 
L 203.04 172.851534 
L 203.04 248.985132 
L 203.4 248.985132 
L 203.4 172.851534 
L 203.4 248.985132 
L 203.76 248.985132 
L 203.76 172.851534 
L 203.76 248.985132 
L 204.12 248.985132 
L 204.12 219.702979 
L 204.12 248.985132 
L 204.48 248.985132 
L 204.48 219.702979 
L 204.48 248.985132 
L 204.84 248.985132 
L 204.84 219.702979 
L 204.84 248.985132 
L 205.2 248.985132 
L 205.2 219.702979 
L 205.2 248.985132 
L 205.56 248.985132 
L 205.56 219.702979 
L 205.56 248.985132 
L 205.92 248.985132 
L 205.92 219.702979 
L 205.92 248.985132 
L 206.28 248.985132 
L 206.28 219.702979 
L 206.28 248.985132 
L 206.64 248.985132 
L 206.64 187.49261 
L 206.64 248.985132 
L 207 248.985132 
L 207 187.49261 
L 207 248.985132 
L 207.36 248.985132 
L 207.36 219.702979 
L 207.36 248.985132 
L 207.72 263.626209 
L 207.72 219.702979 
L 207.72 263.626209 
L 208.08 248.985132 
L 208.08 219.702979 
L 208.08 248.985132 
L 208.44 248.985132 
L 208.44 219.702979 
L 208.44 248.985132 
L 208.8 248.985132 
L 208.8 219.702979 
L 208.8 248.985132 
L 209.16 248.985132 
L 209.16 219.702979 
L 209.16 248.985132 
L 209.52 248.985132 
L 209.52 219.702979 
L 209.52 248.985132 
L 209.88 248.985132 
L 209.88 219.702979 
L 209.88 248.985132 
L 210.24 248.985132 
L 210.24 219.702979 
L 210.24 248.985132 
L 210.6 248.985132 
L 210.6 219.702979 
L 210.6 248.985132 
L 210.96 248.985132 
L 210.96 219.702979 
L 210.96 248.985132 
L 211.32 248.985132 
L 211.32 187.49261 
L 211.32 248.985132 
L 211.68 248.985132 
L 211.68 187.49261 
L 211.68 248.985132 
L 212.04 248.985132 
L 212.04 187.49261 
L 212.04 248.985132 
L 212.4 248.985132 
L 212.4 219.702979 
L 212.4 248.985132 
L 212.76 248.985132 
L 212.76 219.702979 
L 212.76 248.985132 
L 213.12 234.344056 
L 213.12 219.702979 
L 213.12 234.344056 
L 213.48 234.344056 
L 213.48 219.702979 
L 213.48 234.344056 
L 213.84 234.344056 
L 213.84 219.702979 
L 213.84 234.344056 
L 214.2 234.344056 
L 214.2 219.702979 
L 214.2 234.344056 
L 214.56 234.344056 
L 214.56 219.702979 
L 214.56 234.344056 
L 214.92 234.344056 
L 214.92 219.702979 
L 214.92 234.344056 
L 215.28 234.344056 
L 215.28 219.702979 
L 215.28 234.344056 
L 215.64 234.344056 
L 215.64 187.49261 
L 215.64 234.344056 
L 216 205.061902 
L 216 187.49261 
L 216 205.061902 
L 216.36 205.061902 
L 216.36 187.49261 
L 216.36 205.061902 
L 216.72 205.061902 
L 216.72 187.49261 
L 216.72 205.061902 
L 217.08 205.061902 
L 217.08 114.287227 
L 217.08 205.061902 
L 217.44 205.061902 
L 217.44 158.210457 
L 217.44 205.061902 
L 217.8 205.061902 
L 217.8 158.210457 
L 217.8 205.061902 
L 218.16 205.061902 
L 218.16 158.210457 
L 218.16 205.061902 
L 218.52 219.702979 
L 218.52 158.210457 
L 218.52 219.702979 
L 218.88 219.702979 
L 218.88 172.851534 
L 218.88 219.702979 
L 219.24 219.702979 
L 219.24 172.851534 
L 219.24 219.702979 
L 219.6 219.702979 
L 219.6 172.851534 
L 219.6 219.702979 
L 219.96 219.702979 
L 219.96 172.851534 
L 219.96 219.702979 
L 220.32 234.344056 
L 220.32 172.851534 
L 220.32 234.344056 
L 220.68 234.344056 
L 220.68 172.851534 
L 220.68 234.344056 
L 221.04 234.344056 
L 221.04 143.569381 
L 221.04 234.344056 
L 221.4 234.344056 
L 221.4 143.569381 
L 221.4 234.344056 
L 221.76 234.344056 
L 221.76 143.569381 
L 221.76 234.344056 
L 222.12 234.344056 
L 222.12 172.851534 
L 222.12 234.344056 
L 222.48 234.344056 
L 222.48 172.851534 
L 222.48 234.344056 
L 222.84 234.344056 
L 222.84 172.851534 
L 222.84 234.344056 
L 223.2 234.344056 
L 223.2 219.702979 
L 223.2 234.344056 
L 223.56 234.344056 
L 223.56 219.702979 
L 223.56 234.344056 
L 223.92 234.344056 
L 223.92 219.702979 
L 223.92 234.344056 
L 224.28 234.344056 
L 224.28 219.702979 
L 224.28 234.344056 
L 224.64 234.344056 
L 224.64 219.702979 
L 224.64 234.344056 
L 225 234.344056 
L 225 219.702979 
L 225 234.344056 
L 225.36 234.344056 
L 225.36 219.702979 
L 225.36 234.344056 
L 225.72 234.344056 
L 225.72 219.702979 
L 225.72 234.344056 
L 226.08 248.985132 
L 226.08 219.702979 
L 226.08 248.985132 
L 226.44 248.985132 
L 226.44 219.702979 
L 226.44 248.985132 
L 226.8 248.985132 
L 226.8 187.49261 
L 226.8 248.985132 
L 227.16 248.985132 
L 227.16 187.49261 
L 227.16 248.985132 
L 227.52 248.985132 
L 227.52 187.49261 
L 227.52 248.985132 
L 227.88 248.985132 
L 227.88 219.702979 
L 227.88 248.985132 
L 228.24 248.985132 
L 228.24 219.702979 
L 228.24 248.985132 
L 228.6 248.985132 
L 228.6 219.702979 
L 228.6 248.985132 
L 228.96 248.985132 
L 228.96 219.702979 
L 228.96 248.985132 
L 229.32 248.985132 
L 229.32 219.702979 
L 229.32 248.985132 
L 229.68 248.985132 
L 229.68 219.702979 
L 229.68 248.985132 
L 230.04 234.344056 
L 230.04 219.702979 
L 230.04 234.344056 
L 230.4 234.344056 
L 230.4 219.702979 
L 230.4 234.344056 
L 230.76 234.344056 
L 230.76 219.702979 
L 230.76 234.344056 
L 231.12 234.344056 
L 231.12 219.702979 
L 231.12 234.344056 
L 231.48 234.344056 
L 231.48 219.702979 
L 231.48 234.344056 
L 231.84 234.344056 
L 231.84 219.702979 
L 231.84 234.344056 
L 232.2 234.344056 
L 232.2 172.851534 
L 232.2 234.344056 
L 232.56 234.344056 
L 232.56 172.851534 
L 232.56 234.344056 
L 232.92 234.344056 
L 232.92 172.851534 
L 232.92 234.344056 
L 233.28 234.344056 
L 233.28 172.851534 
L 233.28 234.344056 
L 233.64 234.344056 
L 233.64 172.851534 
L 233.64 234.344056 
L 234 248.985132 
L 234 172.851534 
L 234 248.985132 
L 234.36 248.985132 
L 234.36 172.851534 
L 234.36 248.985132 
L 234.72 248.985132 
L 234.72 172.851534 
L 234.72 248.985132 
L 235.08 234.344056 
L 235.08 172.851534 
L 235.08 234.344056 
L 235.44 234.344056 
L 235.44 172.851534 
L 235.44 234.344056 
L 235.8 234.344056 
L 235.8 172.851534 
L 235.8 234.344056 
L 236.16 234.344056 
L 236.16 172.851534 
L 236.16 234.344056 
L 236.52 234.344056 
L 236.52 172.851534 
L 236.52 234.344056 
L 236.88 234.344056 
L 236.88 172.851534 
L 236.88 234.344056 
L 237.24 234.344056 
L 237.24 158.210457 
L 237.24 234.344056 
L 237.6 234.344056 
L 237.6 158.210457 
L 237.6 234.344056 
L 237.96 234.344056 
L 237.96 158.210457 
L 237.96 234.344056 
L 238.32 234.344056 
L 238.32 158.210457 
L 238.32 234.344056 
L 238.68 234.344056 
L 238.68 99.646151 
L 238.68 234.344056 
L 239.04 234.344056 
L 239.04 187.49261 
L 239.04 234.344056 
L 239.4 234.344056 
L 239.4 187.49261 
L 239.4 234.344056 
L 239.76 234.344056 
L 239.76 187.49261 
L 239.76 234.344056 
L 240.12 234.344056 
L 240.12 187.49261 
L 240.12 234.344056 
L 240.48 234.344056 
L 240.48 187.49261 
L 240.48 234.344056 
L 240.84 234.344056 
L 240.84 187.49261 
L 240.84 234.344056 
L 241.2 234.344056 
L 241.2 187.49261 
L 241.2 234.344056 
L 241.56 234.344056 
L 241.56 187.49261 
L 241.56 234.344056 
L 241.92 234.344056 
L 241.92 187.49261 
L 241.92 234.344056 
L 242.28 234.344056 
L 242.28 187.49261 
L 242.28 234.344056 
L 242.64 234.344056 
L 242.64 143.569381 
L 242.64 234.344056 
L 243 234.344056 
L 243 172.851534 
L 243 234.344056 
L 243.36 234.344056 
L 243.36 172.851534 
L 243.36 234.344056 
L 243.72 234.344056 
L 243.72 172.851534 
L 243.72 234.344056 
L 244.08 234.344056 
L 244.08 172.851534 
L 244.08 234.344056 
L 244.44 219.702979 
L 244.44 172.851534 
L 244.44 219.702979 
L 244.8 219.702979 
L 244.8 172.851534 
L 244.8 219.702979 
L 245.16 219.702979 
L 245.16 158.210457 
L 245.16 219.702979 
L 245.52 219.702979 
L 245.52 172.851534 
L 245.52 219.702979 
L 245.88 205.061902 
L 245.88 172.851534 
L 245.88 205.061902 
L 246.24 205.061902 
L 246.24 172.851534 
L 246.24 205.061902 
L 246.6 205.061902 
L 246.6 172.851534 
L 246.6 205.061902 
L 246.96 205.061902 
L 246.96 143.569381 
L 246.96 205.061902 
L 247.32 205.061902 
L 247.32 158.210457 
L 247.32 205.061902 
L 247.68 205.061902 
L 247.68 158.210457 
L 247.68 205.061902 
L 248.04 205.061902 
L 248.04 158.210457 
L 248.04 205.061902 
L 248.4 219.702979 
L 248.4 158.210457 
L 248.4 219.702979 
L 248.76 219.702979 
L 248.76 172.851534 
L 248.76 219.702979 
L 249.12 219.702979 
L 249.12 172.851534 
L 249.12 219.702979 
L 249.48 219.702979 
L 249.48 172.851534 
L 249.48 219.702979 
L 249.84 219.702979 
L 249.84 172.851534 
L 249.84 219.702979 
L 250.2 219.702979 
L 250.2 172.851534 
L 250.2 219.702979 
L 250.56 219.702979 
L 250.56 172.851534 
L 250.56 219.702979 
L 250.92 234.344056 
L 250.92 172.851534 
L 250.92 234.344056 
L 251.28 234.344056 
L 251.28 172.851534 
L 251.28 234.344056 
L 251.64 234.344056 
L 251.64 128.928304 
L 251.64 234.344056 
L 252 234.344056 
L 252 172.851534 
L 252 234.344056 
L 252.36 234.344056 
L 252.36 172.851534 
L 252.36 234.344056 
L 252.72 234.344056 
L 252.72 172.851534 
L 252.72 234.344056 
L 253.08 234.344056 
L 253.08 172.851534 
L 253.08 234.344056 
L 253.44 219.702979 
L 253.44 172.851534 
L 253.44 219.702979 
L 253.8 219.702979 
L 253.8 172.851534 
L 253.8 219.702979 
L 254.16 219.702979 
L 254.16 172.851534 
L 254.16 219.702979 
L 254.52 219.702979 
L 254.52 187.49261 
L 254.52 219.702979 
L 254.88 219.702979 
L 254.88 187.49261 
L 254.88 219.702979 
L 255.24 219.702979 
L 255.24 187.49261 
L 255.24 219.702979 
L 255.6 234.344056 
L 255.6 187.49261 
L 255.6 234.344056 
L 255.96 234.344056 
L 255.96 187.49261 
L 255.96 234.344056 
L 256.32 234.344056 
L 256.32 187.49261 
L 256.32 234.344056 
L 256.68 234.344056 
L 256.68 172.851534 
L 256.68 234.344056 
L 257.04 234.344056 
L 257.04 172.851534 
L 257.04 234.344056 
L 257.4 234.344056 
L 257.4 172.851534 
L 257.4 234.344056 
L 257.76 234.344056 
L 257.76 172.851534 
L 257.76 234.344056 
L 258.12 234.344056 
L 258.12 187.49261 
L 258.12 234.344056 
L 258.48 234.344056 
L 258.48 187.49261 
L 258.48 234.344056 
L 258.84 219.702979 
L 258.84 187.49261 
L 258.84 219.702979 
L 259.2 219.702979 
L 259.2 187.49261 
L 259.2 219.702979 
L 259.56 219.702979 
L 259.56 187.49261 
L 259.56 219.702979 
L 259.92 219.702979 
L 259.92 187.49261 
L 259.92 219.702979 
L 260.28 219.702979 
L 260.28 158.210457 
L 260.28 219.702979 
L 260.64 219.702979 
L 260.64 158.210457 
L 260.64 219.702979 
L 261 219.702979 
L 261 158.210457 
L 261 219.702979 
L 261.36 219.702979 
L 261.36 158.210457 
L 261.36 219.702979 
L 261.72 219.702979 
L 261.72 172.851534 
L 261.72 219.702979 
L 262.08 248.985132 
L 262.08 172.851534 
L 262.08 248.985132 
L 262.44 205.061902 
L 262.44 172.851534 
L 262.44 205.061902 
L 262.8 205.061902 
L 262.8 172.851534 
L 262.8 205.061902 
L 263.16 205.061902 
L 263.16 187.49261 
L 263.16 205.061902 
L 263.52 205.061902 
L 263.52 187.49261 
L 263.52 205.061902 
L 263.88 205.061902 
L 263.88 187.49261 
L 263.88 205.061902 
L 264.24 205.061902 
L 264.24 187.49261 
L 264.24 205.061902 
L 264.6 205.061902 
L 264.6 187.49261 
L 264.6 205.061902 
L 264.96 205.061902 
L 264.96 187.49261 
L 264.96 205.061902 
L 265.32 205.061902 
L 265.32 172.851534 
L 265.32 205.061902 
L 265.68 205.061902 
L 265.68 172.851534 
L 265.68 205.061902 
L 266.04 205.061902 
L 266.04 172.851534 
L 266.04 205.061902 
L 266.4 205.061902 
L 266.4 172.851534 
L 266.4 205.061902 
L 266.76 205.061902 
L 266.76 172.851534 
L 266.76 205.061902 
L 267.12 205.061902 
L 267.12 172.851534 
L 267.12 205.061902 
L 267.48 205.061902 
L 267.48 143.569381 
L 267.48 205.061902 
L 267.84 205.061902 
L 267.84 172.851534 
L 267.84 205.061902 
L 268.2 205.061902 
L 268.2 172.851534 
L 268.2 205.061902 
L 268.56 205.061902 
L 268.56 172.851534 
L 268.56 205.061902 
L 268.92 205.061902 
L 268.92 172.851534 
L 268.92 205.061902 
L 269.28 205.061902 
L 269.28 172.851534 
L 269.28 205.061902 
L 269.64 205.061902 
L 269.64 172.851534 
L 269.64 205.061902 
L 270 205.061902 
L 270 172.851534 
L 270 205.061902 
L 270.36 205.061902 
L 270.36 172.851534 
L 270.36 205.061902 
L 270.72 205.061902 
L 270.72 172.851534 
L 270.72 205.061902 
L 271.08 248.985132 
L 271.08 187.49261 
L 271.08 248.985132 
L 271.44 248.985132 
L 271.44 187.49261 
L 271.44 248.985132 
L 271.8 234.344056 
L 271.8 187.49261 
L 271.8 234.344056 
L 272.16 234.344056 
L 272.16 187.49261 
L 272.16 234.344056 
L 272.52 234.344056 
L 272.52 187.49261 
L 272.52 234.344056 
L 272.88 234.344056 
L 272.88 187.49261 
L 272.88 234.344056 
L 273.24 234.344056 
L 273.24 187.49261 
L 273.24 234.344056 
L 273.6 219.702979 
L 273.6 158.210457 
L 273.6 219.702979 
L 273.96 219.702979 
L 273.96 187.49261 
L 273.96 219.702979 
L 274.32 219.702979 
L 274.32 187.49261 
L 274.32 219.702979 
L 274.68 219.702979 
L 274.68 187.49261 
L 274.68 219.702979 
L 275.04 219.702979 
L 275.04 187.49261 
L 275.04 219.702979 
L 275.4 219.702979 
L 275.4 187.49261 
L 275.4 219.702979 
L 275.76 219.702979 
L 275.76 187.49261 
L 275.76 219.702979 
L 276.12 219.702979 
L 276.12 158.210457 
L 276.12 219.702979 
L 276.48 219.702979 
L 276.48 187.49261 
L 276.48 219.702979 
L 276.84 248.985132 
L 276.84 187.49261 
L 276.84 248.985132 
L 277.2 248.985132 
L 277.2 187.49261 
L 277.2 248.985132 
L 277.56 248.985132 
L 277.56 187.49261 
L 277.56 248.985132 
L 277.92 234.344056 
L 277.92 187.49261 
L 277.92 234.344056 
L 278.28 234.344056 
L 278.28 187.49261 
L 278.28 234.344056 
L 278.64 234.344056 
L 278.64 172.851534 
L 278.64 234.344056 
L 279 234.344056 
L 279 172.851534 
L 279 234.344056 
L 279.36 234.344056 
L 279.36 172.851534 
L 279.36 234.344056 
L 279.72 234.344056 
L 279.72 187.49261 
L 279.72 234.344056 
L 280.08 234.344056 
L 280.08 187.49261 
L 280.08 234.344056 
L 280.44 234.344056 
L 280.44 187.49261 
L 280.44 234.344056 
L 280.8 234.344056 
L 280.8 187.49261 
L 280.8 234.344056 
L 281.16 234.344056 
L 281.16 187.49261 
L 281.16 234.344056 
L 281.52 205.061902 
L 281.52 187.49261 
L 281.52 205.061902 
L 281.88 205.061902 
L 281.88 143.569381 
L 281.88 205.061902 
L 282.24 205.061902 
L 282.24 158.210457 
L 282.24 205.061902 
L 282.6 205.061902 
L 282.6 158.210457 
L 282.6 205.061902 
L 282.96 205.061902 
L 282.96 158.210457 
L 282.96 205.061902 
L 283.32 205.061902 
L 283.32 158.210457 
L 283.32 205.061902 
L 283.68 205.061902 
L 283.68 158.210457 
L 283.68 205.061902 
L 284.04 205.061902 
L 284.04 158.210457 
L 284.04 205.061902 
L 284.4 234.344056 
L 284.4 187.49261 
L 284.4 234.344056 
L 284.76 234.344056 
L 284.76 187.49261 
L 284.76 234.344056 
L 285.12 234.344056 
L 285.12 187.49261 
L 285.12 234.344056 
L 285.48 219.702979 
L 285.48 187.49261 
L 285.48 219.702979 
L 285.84 219.702979 
L 285.84 187.49261 
L 285.84 219.702979 
L 286.2 219.702979 
L 286.2 187.49261 
L 286.2 219.702979 
L 286.56 219.702979 
L 286.56 143.569381 
L 286.56 219.702979 
L 286.92 219.702979 
L 286.92 143.569381 
L 286.92 219.702979 
L 287.28 219.702979 
L 287.28 187.49261 
L 287.28 219.702979 
L 287.64 219.702979 
L 287.64 187.49261 
L 287.64 219.702979 
L 288 234.344056 
L 288 187.49261 
L 288 234.344056 
L 288.36 234.344056 
L 288.36 187.49261 
L 288.36 234.344056 
L 288.72 234.344056 
L 288.72 187.49261 
L 288.72 234.344056 
L 289.08 234.344056 
L 289.08 187.49261 
L 289.08 234.344056 
L 289.44 234.344056 
L 289.44 187.49261 
L 289.44 234.344056 
L 289.8 234.344056 
L 289.8 187.49261 
L 289.8 234.344056 
L 290.16 234.344056 
L 290.16 187.49261 
L 290.16 234.344056 
L 290.52 219.702979 
L 290.52 187.49261 
L 290.52 219.702979 
L 290.88 219.702979 
L 290.88 187.49261 
L 290.88 219.702979 
L 291.24 219.702979 
L 291.24 187.49261 
L 291.24 219.702979 
L 291.6 219.702979 
L 291.6 172.851534 
L 291.6 219.702979 
L 291.96 219.702979 
L 291.96 172.851534 
L 291.96 219.702979 
L 292.32 219.702979 
L 292.32 172.851534 
L 292.32 219.702979 
L 292.68 219.702979 
L 292.68 172.851534 
L 292.68 219.702979 
L 293.04 219.702979 
L 293.04 143.569381 
L 293.04 219.702979 
L 293.4 219.702979 
L 293.4 158.210457 
L 293.4 219.702979 
L 293.76 219.702979 
L 293.76 158.210457 
L 293.76 219.702979 
L 294.12 219.702979 
L 294.12 158.210457 
L 294.12 219.702979 
L 294.48 219.702979 
L 294.48 158.210457 
L 294.48 219.702979 
L 294.84 219.702979 
L 294.84 158.210457 
L 294.84 219.702979 
L 295.2 219.702979 
L 295.2 158.210457 
L 295.2 219.702979 
L 295.56 219.702979 
L 295.56 158.210457 
L 295.56 219.702979 
L 295.92 219.702979 
L 295.92 128.928304 
L 295.92 219.702979 
L 296.28 234.344056 
L 296.28 128.928304 
L 296.28 234.344056 
L 296.64 234.344056 
L 296.64 172.851534 
L 296.64 234.344056 
L 297 234.344056 
L 297 172.851534 
L 297 234.344056 
L 297.36 234.344056 
L 297.36 172.851534 
L 297.36 234.344056 
L 297.72 234.344056 
L 297.72 172.851534 
L 297.72 234.344056 
L 298.08 234.344056 
L 298.08 172.851534 
L 298.08 234.344056 
L 298.44 234.344056 
L 298.44 172.851534 
L 298.44 234.344056 
L 298.8 219.702979 
L 298.8 172.851534 
L 298.8 219.702979 
L 299.16 219.702979 
L 299.16 143.569381 
L 299.16 219.702979 
L 299.52 219.702979 
L 299.52 143.569381 
L 299.52 219.702979 
L 299.88 219.702979 
L 299.88 187.49261 
L 299.88 219.702979 
L 300.24 219.702979 
L 300.24 187.49261 
L 300.24 219.702979 
L 300.6 219.702979 
L 300.6 187.49261 
L 300.6 219.702979 
L 300.96 219.702979 
L 300.96 187.49261 
L 300.96 219.702979 
L 301.32 219.702979 
L 301.32 187.49261 
L 301.32 219.702979 
L 301.68 219.702979 
L 301.68 187.49261 
L 301.68 219.702979 
L 302.04 199.791115 
L 302.04 187.49261 
L 302.04 199.791115 
L 302.4 199.791115 
L 302.4 187.49261 
L 302.4 199.791115 
L 302.76 199.791115 
L 302.76 172.851534 
L 302.76 199.791115 
L 303.12 199.791115 
L 303.12 172.851534 
L 303.12 199.791115 
L 303.48 199.791115 
L 303.48 172.851534 
L 303.48 199.791115 
L 303.84 199.791115 
L 303.84 172.851534 
L 303.84 199.791115 
L 304.2 199.791115 
L 304.2 172.851534 
L 304.2 199.791115 
L 304.56 199.791115 
L 304.56 172.851534 
L 304.56 199.791115 
L 304.92 199.791115 
L 304.92 172.851534 
L 304.92 199.791115 
L 305.28 199.791115 
L 305.28 172.851534 
L 305.28 199.791115 
L 305.64 219.702979 
L 305.64 143.569381 
L 305.64 219.702979 
L 306 219.702979 
L 306 143.569381 
L 306 219.702979 
L 306.36 219.702979 
L 306.36 187.49261 
L 306.36 219.702979 
L 306.72 219.702979 
L 306.72 187.49261 
L 306.72 219.702979 
L 307.08 219.702979 
L 307.08 187.49261 
L 307.08 219.702979 
L 307.44 219.702979 
L 307.44 187.49261 
L 307.44 219.702979 
L 307.8 219.702979 
L 307.8 187.49261 
L 307.8 219.702979 
L 308.16 234.344056 
L 308.16 187.49261 
L 308.16 234.344056 
L 308.52 234.344056 
L 308.52 205.061902 
L 308.52 234.344056 
L 308.88 234.344056 
L 308.88 205.061902 
L 308.88 234.344056 
L 309.24 234.344056 
L 309.24 205.061902 
L 309.24 234.344056 
L 309.6 248.985132 
L 309.6 219.702979 
L 309.6 248.985132 
L 309.96 248.985132 
L 309.96 219.702979 
L 309.96 248.985132 
L 310.32 248.985132 
L 310.32 219.702979 
L 310.32 248.985132 
L 310.68 248.985132 
L 310.68 219.702979 
L 310.68 248.985132 
L 311.04 248.985132 
L 311.04 219.702979 
L 311.04 248.985132 
L 311.4 248.985132 
L 311.4 219.702979 
L 311.4 248.985132 
L 311.76 248.985132 
L 311.76 219.702979 
L 311.76 248.985132 
L 312.12 248.985132 
L 312.12 219.702979 
L 312.12 248.985132 
L 312.48 248.985132 
L 312.48 219.702979 
L 312.48 248.985132 
L 312.84 248.985132 
L 312.84 234.344056 
L 312.84 248.985132 
L 313.2 248.985132 
L 313.2 234.344056 
L 313.2 248.985132 
L 313.56 248.985132 
L 313.56 234.344056 
L 313.56 248.985132 
L 313.92 248.985132 
L 313.92 234.344056 
L 313.92 248.985132 
L 314.28 248.985132 
L 314.28 234.344056 
L 314.28 248.985132 
L 314.64 248.985132 
L 314.64 234.344056 
L 314.64 248.985132 
L 315 248.985132 
L 315 234.344056 
L 315 248.985132 
L 315.36 248.985132 
L 315.36 234.344056 
L 315.36 248.985132 
L 315.72 248.985132 
L 315.72 234.344056 
L 315.72 248.985132 
L 316.08 248.985132 
L 316.08 234.344056 
L 316.08 248.985132 
L 316.44 248.985132 
L 316.44 234.344056 
L 316.44 248.985132 
L 316.8 248.985132 
L 316.8 234.344056 
L 316.8 248.985132 
L 317.16 248.985132 
L 317.16 219.702979 
L 317.16 248.985132 
L 317.52 248.985132 
L 317.52 219.702979 
L 317.52 248.985132 
L 317.88 248.985132 
L 317.88 219.702979 
L 317.88 248.985132 
L 318.24 248.985132 
L 318.24 219.702979 
L 318.24 248.985132 
L 318.6 248.985132 
L 318.6 205.061902 
L 318.6 248.985132 
L 318.96 248.985132 
L 318.96 205.061902 
L 318.96 248.985132 
L 319.32 248.985132 
L 319.32 205.061902 
L 319.32 248.985132 
L 319.68 248.985132 
L 319.68 205.061902 
L 319.68 248.985132 
L 320.04 248.985132 
L 320.04 205.061902 
L 320.04 248.985132 
L 320.4 234.344056 
L 320.4 205.061902 
L 320.4 234.344056 
L 320.76 234.344056 
L 320.76 205.061902 
L 320.76 234.344056 
L 321.12 234.344056 
L 321.12 219.702979 
L 321.12 234.344056 
L 321.48 234.344056 
L 321.48 219.702979 
L 321.48 234.344056 
L 321.84 234.344056 
L 321.84 219.702979 
L 321.84 234.344056 
L 322.2 234.344056 
L 322.2 219.702979 
L 322.2 234.344056 
L 322.56 234.344056 
L 322.56 219.702979 
L 322.56 234.344056 
L 322.92 234.344056 
L 322.92 219.702979 
L 322.92 234.344056 
L 323.28 234.344056 
L 323.28 219.702979 
L 323.28 234.344056 
L 323.64 234.344056 
L 323.64 219.702979 
L 323.64 234.344056 
L 324 234.344056 
L 324 219.702979 
L 324 234.344056 
L 324.36 234.344056 
L 324.36 219.702979 
L 324.36 234.344056 
L 324.72 234.344056 
L 324.72 219.702979 
L 324.72 234.344056 
L 325.08 234.344056 
L 325.08 219.702979 
L 325.08 234.344056 
L 325.44 234.344056 
L 325.44 205.061902 
L 325.44 234.344056 
L 325.8 234.344056 
L 325.8 205.061902 
L 325.8 234.344056 
L 326.16 234.344056 
L 326.16 205.061902 
L 326.16 234.344056 
L 326.52 248.985132 
L 326.52 205.061902 
L 326.52 248.985132 
L 326.88 248.985132 
L 326.88 205.061902 
L 326.88 248.985132 
L 327.24 234.344056 
L 327.24 205.061902 
L 327.24 234.344056 
L 327.6 234.344056 
L 327.6 187.49261 
L 327.6 234.344056 
L 327.96 234.344056 
L 327.96 187.49261 
L 327.96 234.344056 
L 328.32 234.344056 
L 328.32 187.49261 
L 328.32 234.344056 
L 328.68 234.344056 
L 328.68 187.49261 
L 328.68 234.344056 
L 329.04 234.344056 
L 329.04 187.49261 
L 329.04 234.344056 
L 329.4 234.344056 
L 329.4 172.851534 
L 329.4 234.344056 
L 329.76 234.344056 
L 329.76 172.851534 
L 329.76 234.344056 
L 330.12 234.344056 
L 330.12 205.061902 
L 330.12 234.344056 
L 330.48 234.344056 
L 330.48 205.061902 
L 330.48 234.344056 
L 330.84 234.344056 
L 330.84 205.061902 
L 330.84 234.344056 
L 331.2 248.985132 
L 331.2 219.702979 
L 331.2 248.985132 
L 331.56 248.985132 
L 331.56 219.702979 
L 331.56 248.985132 
L 331.92 248.985132 
L 331.92 219.702979 
L 331.92 248.985132 
L 332.28 248.985132 
L 332.28 219.702979 
L 332.28 248.985132 
L 332.64 248.985132 
L 332.64 219.702979 
L 332.64 248.985132 
L 333 248.985132 
L 333 219.702979 
L 333 248.985132 
L 333.36 248.985132 
L 333.36 219.702979 
L 333.36 248.985132 
L 333.72 248.985132 
L 333.72 219.702979 
L 333.72 248.985132 
L 334.08 248.985132 
L 334.08 205.061902 
L 334.08 248.985132 
L 334.44 234.344056 
L 334.44 205.061902 
L 334.44 234.344056 
L 334.8 234.344056 
L 334.8 205.061902 
L 334.8 234.344056 
L 335.16 234.344056 
L 335.16 205.061902 
L 335.16 234.344056 
L 335.52 234.344056 
L 335.52 205.061902 
L 335.52 234.344056 
L 335.88 234.344056 
L 335.88 187.49261 
L 335.88 234.344056 
L 336.24 234.344056 
L 336.24 187.49261 
L 336.24 234.344056 
L 336.6 234.344056 
L 336.6 219.702979 
L 336.6 234.344056 
L 336.96 234.344056 
L 336.96 219.702979 
L 336.96 234.344056 
L 337.32 234.344056 
L 337.32 219.702979 
L 337.32 234.344056 
L 337.68 234.344056 
L 337.68 219.702979 
L 337.68 234.344056 
L 338.04 234.344056 
L 338.04 219.702979 
L 338.04 234.344056 
L 338.4 234.344056 
L 338.4 219.702979 
L 338.4 234.344056 
L 338.76 234.344056 
L 338.76 219.702979 
L 338.76 234.344056 
L 339.12 248.985132 
L 339.12 205.061902 
L 339.12 248.985132 
L 339.48 248.985132 
L 339.48 205.061902 
L 339.48 248.985132 
L 339.84 248.985132 
L 339.84 205.061902 
L 339.84 248.985132 
L 340.2 248.985132 
L 340.2 205.061902 
L 340.2 248.985132 
L 340.56 248.985132 
L 340.56 205.061902 
L 340.56 248.985132 
L 340.92 248.985132 
L 340.92 219.702979 
L 340.92 248.985132 
L 341.28 248.985132 
L 341.28 219.702979 
L 341.28 248.985132 
L 341.64 248.985132 
L 341.64 219.702979 
L 341.64 248.985132 
L 342 234.344056 
L 342 219.702979 
L 342 234.344056 
L 342.36 234.344056 
L 342.36 219.702979 
L 342.36 234.344056 
L 342.72 234.344056 
L 342.72 205.061902 
L 342.72 234.344056 
L 343.08 234.344056 
L 343.08 205.061902 
L 343.08 234.344056 
L 343.44 234.344056 
L 343.44 205.061902 
L 343.44 234.344056 
L 343.8 234.344056 
L 343.8 205.061902 
L 343.8 234.344056 
L 344.16 234.344056 
L 344.16 205.061902 
L 344.16 234.344056 
L 344.52 234.344056 
L 344.52 219.702979 
L 344.52 234.344056 
L 344.88 248.985132 
L 344.88 219.702979 
L 344.88 248.985132 
L 345.24 248.985132 
L 345.24 219.702979 
L 345.24 248.985132 
L 345.6 248.985132 
L 345.6 219.702979 
L 345.6 248.985132 
L 345.96 248.985132 
L 345.96 219.702979 
L 345.96 248.985132 
L 346.32 248.985132 
L 346.32 219.702979 
L 346.32 248.985132 
L 346.68 248.985132 
L 346.68 219.702979 
L 346.68 248.985132 
L 347.04 248.985132 
L 347.04 219.702979 
L 347.04 248.985132 
L 347.4 263.626209 
L 347.4 219.702979 
L 347.4 263.626209 
L 347.76 263.626209 
L 347.76 219.702979 
L 347.76 263.626209 
L 348.12 263.626209 
L 348.12 219.702979 
L 348.12 263.626209 
L 348.48 263.626209 
L 348.48 219.702979 
L 348.48 263.626209 
L 348.84 234.344056 
L 348.84 219.702979 
L 348.84 234.344056 
L 349.2 234.344056 
L 349.2 219.702979 
L 349.2 234.344056 
L 349.56 234.344056 
L 349.56 219.702979 
L 349.56 234.344056 
L 349.92 234.344056 
L 349.92 205.061902 
L 349.92 234.344056 
L 350.28 234.344056 
L 350.28 205.061902 
L 350.28 234.344056 
L 350.64 234.344056 
L 350.64 205.061902 
L 350.64 234.344056 
L 351 234.344056 
L 351 205.061902 
L 351 234.344056 
L 351.36 234.344056 
L 351.36 187.49261 
L 351.36 234.344056 
L 351.72 234.344056 
L 351.72 187.49261 
L 351.72 234.344056 
L 352.08 234.344056 
L 352.08 219.702979 
L 352.08 234.344056 
L 352.44 234.344056 
L 352.44 219.702979 
L 352.44 234.344056 
L 352.8 248.985132 
L 352.8 219.702979 
L 352.8 248.985132 
L 353.16 248.985132 
L 353.16 219.702979 
L 353.16 248.985132 
L 353.52 248.985132 
L 353.52 234.344056 
L 353.52 248.985132 
L 353.88 248.985132 
L 353.88 234.344056 
L 353.88 248.985132 
L 354.24 263.626209 
L 354.24 234.344056 
L 354.24 263.626209 
L 354.6 263.626209 
L 354.6 248.985132 
L 354.6 263.626209 
L 354.96 263.626209 
L 354.96 248.985132 
L 354.96 263.626209 
L 355.32 263.626209 
L 355.32 248.985132 
L 355.32 263.626209 
L 355.68 263.626209 
L 355.68 248.985132 
L 355.68 263.626209 
L 356.04 263.626209 
L 356.04 248.985132 
L 356.04 263.626209 
L 356.4 263.626209 
L 356.4 248.985132 
L 356.4 263.626209 
L 356.76 263.626209 
L 356.76 248.985132 
L 356.76 263.626209 
L 357.12 263.626209 
L 357.12 234.344056 
L 357.12 263.626209 
L 357.48 263.626209 
L 357.48 234.344056 
L 357.48 263.626209 
L 357.84 263.626209 
L 357.84 234.344056 
L 357.84 263.626209 
L 358.2 263.626209 
L 358.2 234.344056 
L 358.2 263.626209 
L 358.56 263.626209 
L 358.56 234.344056 
L 358.56 263.626209 
L 358.92 248.985132 
L 358.92 234.344056 
L 358.92 248.985132 
L 359.28 248.985132 
L 359.28 234.344056 
L 359.28 248.985132 
L 359.64 248.985132 
L 359.64 219.702979 
L 359.64 248.985132 
L 360 248.985132 
L 360 219.702979 
L 360 248.985132 
L 360.36 248.985132 
L 360.36 219.702979 
L 360.36 248.985132 
L 360.72 248.985132 
L 360.72 219.702979 
L 360.72 248.985132 
L 361.08 248.985132 
L 361.08 219.702979 
L 361.08 248.985132 
L 361.44 263.626209 
L 361.44 219.702979 
L 361.44 263.626209 
L 361.8 234.344056 
L 361.8 219.702979 
L 361.8 234.344056 
L 362.16 234.344056 
L 362.16 219.702979 
L 362.16 234.344056 
L 362.52 234.344056 
L 362.52 219.702979 
L 362.52 234.344056 
L 362.88 234.344056 
L 362.88 219.702979 
L 362.88 234.344056 
L 363.24 234.344056 
L 363.24 219.702979 
L 363.24 234.344056 
L 363.6 234.344056 
L 363.6 219.702979 
L 363.6 234.344056 
L 363.96 234.344056 
L 363.96 219.702979 
L 363.96 234.344056 
L 364.32 234.344056 
L 364.32 219.702979 
L 364.32 234.344056 
L 364.68 248.985132 
L 364.68 219.702979 
L 364.68 248.985132 
L 365.04 248.985132 
L 365.04 219.702979 
L 365.04 248.985132 
L 365.4 248.985132 
L 365.4 219.702979 
L 365.4 248.985132 
L 365.76 248.985132 
L 365.76 219.702979 
L 365.76 248.985132 
L 366.12 248.985132 
L 366.12 172.851534 
L 366.12 248.985132 
L 366.48 248.985132 
L 366.48 172.851534 
L 366.48 248.985132 
L 366.84 248.985132 
L 366.84 219.702979 
L 366.84 248.985132 
L 367.2 248.985132 
L 367.2 219.702979 
L 367.2 248.985132 
L 367.56 248.985132 
L 367.56 219.702979 
L 367.56 248.985132 
L 367.92 248.985132 
L 367.92 219.702979 
L 367.92 248.985132 
L 368.28 248.985132 
L 368.28 219.702979 
L 368.28 248.985132 
L 368.64 248.985132 
L 368.64 219.702979 
L 368.64 248.985132 
L 369 248.985132 
L 369 219.702979 
L 369 248.985132 
L 369.36 248.985132 
L 369.36 219.702979 
L 369.36 248.985132 
L 369.72 248.985132 
L 369.72 219.702979 
L 369.72 248.985132 
L 370.08 248.985132 
L 370.08 219.702979 
L 370.08 248.985132 
L 370.44 248.985132 
L 370.44 234.344056 
L 370.44 248.985132 
L 370.8 248.985132 
L 370.8 234.344056 
L 370.8 248.985132 
L 371.16 248.985132 
L 371.16 234.344056 
L 371.16 248.985132 
L 371.52 248.985132 
L 371.52 234.344056 
L 371.52 248.985132 
L 371.88 248.985132 
L 371.88 234.344056 
L 371.88 248.985132 
L 372.24 248.985132 
L 372.24 234.344056 
L 372.24 248.985132 
L 372.6 248.985132 
L 372.6 234.344056 
L 372.6 248.985132 
L 372.96 248.985132 
L 372.96 234.344056 
L 372.96 248.985132 
L 373.32 248.985132 
L 373.32 234.344056 
L 373.32 248.985132 
L 373.68 263.626209 
L 373.68 234.344056 
L 373.68 263.626209 
L 374.04 263.626209 
L 374.04 234.344056 
L 374.04 263.626209 
L 374.4 263.626209 
L 374.4 234.344056 
L 374.4 263.626209 
L 374.76 263.626209 
L 374.76 234.344056 
L 374.76 263.626209 
L 375.12 263.626209 
L 375.12 234.344056 
L 375.12 263.626209 
L 375.48 263.626209 
L 375.48 234.344056 
L 375.48 263.626209 
L 375.84 248.985132 
L 375.84 234.344056 
L 375.84 248.985132 
L 376.2 248.985132 
L 376.2 234.344056 
L 376.2 248.985132 
L 376.56 248.985132 
L 376.56 234.344056 
L 376.56 248.985132 
L 376.92 248.985132 
L 376.92 234.344056 
L 376.92 248.985132 
L 377.28 248.985132 
L 377.28 234.344056 
L 377.28 248.985132 
L 377.64 248.985132 
L 377.64 234.344056 
L 377.64 248.985132 
L 378 248.985132 
L 378 234.344056 
L 378 248.985132 
L 378.36 248.985132 
L 378.36 234.344056 
L 378.36 248.985132 
L 378.72 248.985132 
L 378.72 234.344056 
L 378.72 248.985132 
L 379.08 248.985132 
L 379.08 234.344056 
L 379.08 248.985132 
L 379.44 248.985132 
L 379.44 234.344056 
L 379.44 248.985132 
L 379.8 248.985132 
L 379.8 234.344056 
L 379.8 248.985132 
L 380.16 248.985132 
L 380.16 234.344056 
L 380.16 248.985132 
L 380.52 248.985132 
L 380.52 234.344056 
L 380.52 248.985132 
L 380.88 248.985132 
L 380.88 234.344056 
L 380.88 248.985132 
L 381.24 263.626209 
L 381.24 234.344056 
L 381.24 263.626209 
L 381.6 248.985132 
L 381.6 234.344056 
L 381.6 248.985132 
L 381.96 248.985132 
L 381.96 234.344056 
L 381.96 248.985132 
L 382.32 248.985132 
L 382.32 234.344056 
L 382.32 248.985132 
L 382.68 248.985132 
L 382.68 234.344056 
L 382.68 248.985132 
L 383.04 248.985132 
L 383.04 234.344056 
L 383.04 248.985132 
L 383.4 248.985132 
L 383.4 234.344056 
L 383.4 248.985132 
L 383.76 248.985132 
L 383.76 234.344056 
L 383.76 248.985132 
L 384.12 248.985132 
L 384.12 234.344056 
L 384.12 248.985132 
L 384.48 248.985132 
L 384.48 234.344056 
L 384.48 248.985132 
L 384.84 248.985132 
L 384.84 234.344056 
L 384.84 248.985132 
L 385.2 248.985132 
L 385.2 234.344056 
L 385.2 248.985132 
L 385.56 248.985132 
L 385.56 234.344056 
L 385.56 248.985132 
L 385.92 248.985132 
L 385.92 205.061902 
L 385.92 248.985132 
L 386.28 248.985132 
L 386.28 219.702979 
L 386.28 248.985132 
L 386.64 248.985132 
L 386.64 219.702979 
L 386.64 248.985132 
L 387 263.626209 
L 387 219.702979 
L 387 263.626209 
L 387.36 263.626209 
L 387.36 219.702979 
L 387.36 263.626209 
L 387.72 248.985132 
L 387.72 219.702979 
L 387.72 248.985132 
L 388.08 248.985132 
L 388.08 219.702979 
L 388.08 248.985132 
L 388.44 248.985132 
L 388.44 219.702979 
L 388.44 248.985132 
L 388.8 248.985132 
L 388.8 172.851534 
L 388.8 248.985132 
L 389.16 248.985132 
L 389.16 172.851534 
L 389.16 248.985132 
L 389.52 248.985132 
L 389.52 187.49261 
L 389.52 248.985132 
L 389.88 248.985132 
L 389.88 187.49261 
L 389.88 248.985132 
L 390.24 248.985132 
L 390.24 187.49261 
L 390.24 248.985132 
L 390.6 263.626209 
L 390.6 187.49261 
L 390.6 263.626209 
L 390.96 263.626209 
L 390.96 187.49261 
L 390.96 263.626209 
L 391.32 248.985132 
L 391.32 187.49261 
L 391.32 248.985132 
L 391.68 248.985132 
L 391.68 187.49261 
L 391.68 248.985132 
L 392.04 248.985132 
L 392.04 187.49261 
L 392.04 248.985132 
L 392.4 248.985132 
L 392.4 187.49261 
L 392.4 248.985132 
L 392.76 248.985132 
L 392.76 187.49261 
L 392.76 248.985132 
L 393.12 248.985132 
L 393.12 143.569381 
L 393.12 248.985132 
L 393.48 248.985132 
L 393.48 187.49261 
L 393.48 248.985132 
L 393.84 248.985132 
L 393.84 187.49261 
L 393.84 248.985132 
L 394.2 248.985132 
L 394.2 187.49261 
L 394.2 248.985132 
L 394.56 248.985132 
L 394.56 187.49261 
L 394.56 248.985132 
L 394.92 234.344056 
L 394.92 187.49261 
L 394.92 234.344056 
L 395.28 234.344056 
L 395.28 187.49261 
L 395.28 234.344056 
L 395.64 234.344056 
L 395.64 187.49261 
L 395.64 234.344056 
L 396 234.344056 
L 396 187.49261 
L 396 234.344056 
L 396.36 234.344056 
L 396.36 187.49261 
L 396.36 234.344056 
L 396.72 234.344056 
L 396.72 172.851534 
L 396.72 234.344056 
L 397.08 234.344056 
L 397.08 172.851534 
L 397.08 234.344056 
L 397.44 234.344056 
L 397.44 172.851534 
L 397.44 234.344056 
L 397.8 234.344056 
L 397.8 172.851534 
L 397.8 234.344056 
L 398.16 234.344056 
L 398.16 172.851534 
L 398.16 234.344056 
L 398.52 219.702979 
L 398.52 187.49261 
L 398.52 219.702979 
L 398.88 219.702979 
L 398.88 187.49261 
L 398.88 219.702979 
L 399.24 219.702979 
L 399.24 187.49261 
L 399.24 219.702979 
L 399.6 219.702979 
L 399.6 187.49261 
L 399.6 219.702979 
L 399.96 219.702979 
L 399.96 187.49261 
L 399.96 219.702979 
L 400.32 219.702979 
L 400.32 143.569381 
L 400.32 219.702979 
L 400.68 219.702979 
L 400.68 158.210457 
L 400.68 219.702979 
L 401.04 219.702979 
L 401.04 158.210457 
L 401.04 219.702979 
L 401.4 219.702979 
L 401.4 158.210457 
L 401.4 219.702979 
L 401.76 219.702979 
L 401.76 158.210457 
L 401.76 219.702979 
L 402.12 219.702979 
L 402.12 187.49261 
L 402.12 219.702979 
L 402.48 234.344056 
L 402.48 187.49261 
L 402.48 234.344056 
L 402.84 219.702979 
L 402.84 187.49261 
L 402.84 219.702979 
L 403.2 219.702979 
L 403.2 187.49261 
L 403.2 219.702979 
L 403.56 219.702979 
L 403.56 187.49261 
L 403.56 219.702979 
L 403.92 219.702979 
L 403.92 143.569381 
L 403.92 219.702979 
L 404.28 219.702979 
L 404.28 143.569381 
L 404.28 219.702979 
L 404.64 219.702979 
L 404.64 158.210457 
L 404.64 219.702979 
L 405 219.702979 
L 405 158.210457 
L 405 219.702979 
L 405.36 219.702979 
L 405.36 158.210457 
L 405.36 219.702979 
L 405.72 234.344056 
L 405.72 158.210457 
L 405.72 234.344056 
L 406.08 219.702979 
L 406.08 158.210457 
L 406.08 219.702979 
L 406.44 219.702979 
L 406.44 158.210457 
L 406.44 219.702979 
L 406.8 219.702979 
L 406.8 158.210457 
L 406.8 219.702979 
L 407.16 219.702979 
L 407.16 158.210457 
L 407.16 219.702979 
L 407.52 219.702979 
L 407.52 128.928304 
L 407.52 219.702979 
L 407.88 219.702979 
L 407.88 158.210457 
L 407.88 219.702979 
L 408.24 219.702979 
L 408.24 158.210457 
L 408.24 219.702979 
L 408.6 219.702979 
L 408.6 158.210457 
L 408.6 219.702979 
L 408.96 234.344056 
L 408.96 158.210457 
L 408.96 234.344056 
L 409.32 234.344056 
L 409.32 158.210457 
L 409.32 234.344056 
L 409.68 234.344056 
L 409.68 158.210457 
L 409.68 234.344056 
L 410.04 158.210457 
L 410.04 169.923318 
L 410.4 169.923318 
L 410.4 158.210457 
L 410.4 169.923318 
L 410.76 169.923318 
L 410.76 158.210457 
L 410.76 169.923318 
L 411.12 169.923318 
L 411.12 158.210457 
L 411.12 169.923318 
L 411.48 169.923318 
L 411.48 158.210457 
L 411.48 169.923318 
L 411.84 169.923318 
L 411.84 128.928304 
L 411.84 169.923318 
L 412.2 169.923318 
L 412.2 128.928304 
L 412.2 169.923318 
L 412.56 169.923318 
L 412.56 143.569381 
L 412.56 169.923318 
L 412.92 187.49261 
L 412.92 143.569381 
L 412.92 187.49261 
L 413.28 169.923318 
L 413.28 143.569381 
L 413.28 169.923318 
L 413.64 187.49261 
L 413.64 143.569381 
L 413.64 187.49261 
L 414 205.061902 
L 414 143.569381 
L 414 205.061902 
L 414.36 205.061902 
L 414.36 143.569381 
L 414.36 205.061902 
L 414.72 175.779749 
L 414.72 143.569381 
L 414.72 175.779749 
L 415.08 175.779749 
L 415.08 128.928304 
L 415.08 175.779749 
L 415.44 175.779749 
L 415.44 143.569381 
L 415.44 175.779749 
L 415.8 175.779749 
L 415.8 143.569381 
L 415.8 175.779749 
L 416.1816 175.779749 
L 416.1816 143.569381 
L 416.1816 175.779749 
" clip-path="url(#pa83f3e832d)" style="fill: none; stroke: #ff7f0e; stroke-width: 1.5; stroke-linecap: square"/>
</g>
<g id="line2d_33">
<path d="M 62.2656 70.363998 
L 63.72 70.363998 
L 64.08 55.722921 
L 73.44 55.722921 
L 73.8 38.153629 
L 254.16 38.153629 
L 254.52 172.851534 
L 258.12 172.851534 
L 258.48 158.210457 
L 267.12 158.210457 
L 267.48 128.928304 
L 407.16 128.928304 
L 407.52 114.287227 
L 416.1816 114.287227 
L 416.1816 114.287227 
" clip-path="url(#pa83f3e832d)" style="fill: none; stroke: #2ca02c; stroke-width: 1.5; stroke-linecap: square"/>
</g>
<g id="patch_3">
<path d="M 45.0000 275.4000 L 45.0000 27.0000" style="fill: none; stroke: #000000; stroke-width: 0.8; stroke-linejoin: miter; stroke-linecap: square"/>
</g>
<g id="patch_4">
<path d="M 434.5200 275.4000 L 434.5200 27.0000" style="fill: none; stroke: #000000; stroke-width: 0.8; stroke-linejoin: miter; stroke-linecap: square"/>
</g>
<g id="patch_5">
<path d="M 45.0000 275.4000 L 434.5200 275.4000" style="fill: none; stroke: #000000; stroke-width: 0.8; stroke-linejoin: miter; stroke-linecap: square"/>
</g>
<g id="patch_6">
<path d="M 45.0000 27.0000 L 434.5200 27.0000" style="fill: none; stroke: #000000; stroke-width: 0.8; stroke-linejoin: miter; stroke-linecap: square"/>
</g>
<g id="text_18">
<!-- Windinformationen der letzten 24 Stunden -->
<g transform="translate(110.8864 20.5560) scale(0.12 -0.12)" style="stroke:#000;stroke-width:70">
<defs>
<path id="DejaVuSans-66" d="M 2375 4863 
L 2375 4384 
L 1825 4384 
Q 1516 4384 1395 4259 
Q 1275 4134 1275 3809 
L 1275 3500 
L 2222 3500 
L 2222 3053 
L 1275 3053 
L 1275 0 
L 697 0 
L 697 3053 
L 147 3053 
L 147 3500 
L 697 3500 
L 697 3744 
Q 697 4328 969 4595 
Q 1241 4863 1831 4863 
L 2375 4863 
z
" transform="scale(0.015625)"/>
<path id="DejaVuSans-6f" d="M 1959 3097 
Q 1497 3097 1228 2736 
Q 959 2375 959 1747 
Q 959 1119 1226 758 
Q 1494 397 1959 397 
Q 2419 397 2687 759 
Q 2956 1122 2956 1747 
Q 2956 2369 2687 2733 
Q 2419 3097 1959 3097 
z
M 1959 3584 
Q 2709 3584 3137 3096 
Q 3566 2609 3566 1747 
Q 3566 888 3137 398 
Q 2709 -91 1959 -91 
Q 1206 -91 779 398 
Q 353 888 353 1747 
Q 353 2609 779 3096 
Q 1206 3584 1959 3584 
z
" transform="scale(0.015625)"/>
<path id="DejaVuSans-72" d="M 2631 2963 
Q 2534 3019 2420 3045 
Q 2306 3072 2169 3072 
Q 1681 3072 1420 2755 
Q 1159 2438 1159 1844 
L 1159 0 
L 581 0 
L 581 3500 
L 1159 3500 
L 1159 2956 
Q 1341 3275 1631 3429 
Q 1922 3584 2338 3584 
Q 2397 3584 2469 3576 
Q 2541 3569 2628 3553 
L 2631 2963 
z
" transform="scale(0.015625)"/>
<path id="DejaVuSans-61" d="M 2194 1759 
Q 1497 1759 1228 1600 
Q 959 1441 959 1056 
Q 959 750 1161 570 
Q 1363 391 1709 391 
Q 2188 391 2477 730 
Q 2766 1069 2766 1631 
L 2766 1759 
L 2194 1759 
z
M 3341 1997 
L 3341 0 
L 2766 0 
L 2766 531 
Q 2569 213 2275 61 
Q 1981 -91 1556 -91 
Q 1019 -91 701 211 
Q 384 513 384 1019 
Q 384 1609 779 1909 
Q 1175 2209 1959 2209 
L 2766 2209 
L 2766 2266 
Q 2766 2663 2505 2880 
Q 2244 3097 1772 3097 
Q 1472 3097 1187 3025 
Q 903 2953 641 2809 
L 641 3341 
Q 956 3463 1253 3523 
Q 1550 3584 1831 3584 
Q 2591 3584 2966 3190 
Q 3341 2797 3341 1997 
z
" transform="scale(0.015625)"/>
<path id="DejaVuSans-6c" d="M 603 4863 
L 1178 4863 
L 1178 0 
L 603 0 
L 603 4863 
z
" transform="scale(0.015625)"/>
<path id="DejaVuSans-7a" d="M 353 3500 
L 3084 3500 
L 3084 2975 
L 922 459 
L 3084 459 
L 3084 0 
L 275 0 
L 275 525 
L 2438 3041 
L 353 3041 
L 353 3500 
z
" transform="scale(0.015625)"/>
<path id="DejaVuSans-34" d="M 2419 4116 
L 825 1625 
L 2419 1625 
L 2419 4116 
z
M 2253 4666 
L 3047 4666 
L 3047 1625 
L 3713 1625 
L 3713 1100 
L 3047 1100 
L 3047 0 
L 2419 0 
L 2419 1100 
L 313 1100 
L 313 1709 
L 2253 4666 
z
" transform="scale(0.015625)"/>
<path id="DejaVuSans-53" d="M 3425 4513 
L 3425 3897 
Q 3066 4069 2747 4153 
Q 2428 4238 2131 4238 
Q 1616 4238 1336 4038 
Q 1056 3838 1056 3469 
Q 1056 3159 1242 3001 
Q 1428 2844 1947 2747 
L 2328 2669 
Q 3034 2534 3370 2195 
Q 3706 1856 3706 1288 
Q 3706 609 3251 259 
Q 2797 -91 1919 -91 
Q 1588 -91 1214 -16 
Q 841 59 441 206 
L 441 856 
Q 825 641 1194 531 
Q 1563 422 1919 422 
Q 2459 422 2753 634 
Q 3047 847 3047 1241 
Q 3047 1584 2836 1778 
Q 2625 1972 2144 2069 
L 1759 2144 
Q 1053 2284 737 2584 
Q 422 2884 422 3419 
Q 422 4038 858 4394 
Q 1294 4750 2059 4750 
Q 2388 4750 2728 4690 
Q 3069 4631 3425 4513 
z
" transform="scale(0.015625)"/>
<path id="DejaVuSans-75" d="M 544 1381 
L 544 3500 
L 1119 3500 
L 1119 1403 
Q 1119 906 1312 657 
Q 1506 409 1894 409 
Q 2359 409 2629 706 
Q 2900 1003 2900 1516 
L 2900 3500 
L 3475 3500 
L 3475 0 
L 2900 0 
L 2900 538 
Q 2691 219 2414 64 
Q 2138 -91 1772 -91 
Q 1169 -91 856 284 
Q 544 659 544 1381 
z
M 1991 3584 
L 1991 3584 
z
" transform="scale(0.015625)"/>
</defs>
<use href="#DejaVuSans-57"/>
<use href="#DejaVuSans-69" transform="translate(96.626953 0)"/>
<use href="#DejaVuSans-6e" transform="translate(124.410156 0)"/>
<use href="#DejaVuSans-64" transform="translate(187.789062 0)"/>
<use href="#DejaVuSans-69" transform="translate(251.265625 0)"/>
<use href="#DejaVuSans-6e" transform="translate(279.048828 0)"/>
<use href="#DejaVuSans-66" transform="translate(342.427734 0)"/>
<use href="#DejaVuSans-6f" transform="translate(377.632812 0)"/>
<use href="#DejaVuSans-72" transform="translate(438.814453 0)"/>
<use href="#DejaVuSans-6d" transform="translate(478.177734 0)"/>
<use href="#DejaVuSans-61" transform="translate(575.589844 0)"/>
<use href="#DejaVuSans-74" transform="translate(636.869141 0)"/>
<use href="#DejaVuSans-69" transform="translate(676.078125 0)"/>
<use href="#DejaVuSans-6f" transform="translate(703.861328 0)"/>
<use href="#DejaVuSans-6e" transform="translate(765.042969 0)"/>
<use href="#DejaVuSans-65" transform="translate(828.421875 0)"/>
<use href="#DejaVuSans-6e" transform="translate(889.945312 0)"/>
<use href="#DejaVuSans-20" transform="translate(953.324219 0)"/>
<use href="#DejaVuSans-64" transform="translate(985.111328 0)"/>
<use href="#DejaVuSans-65" transform="translate(1048.587891 0)"/>
<use href="#DejaVuSans-72" transform="translate(1110.111328 0)"/>
<use href="#DejaVuSans-20" transform="translate(1151.224609 0)"/>
<use href="#DejaVuSans-6c" transform="translate(1183.011719 0)"/>
<use href="#DejaVuSans-65" transform="translate(1210.794922 0)"/>
<use href="#DejaVuSans-74" transform="translate(1272.318359 0)"/>
<use href="#DejaVuSans-7a" transform="translate(1311.527344 0)"/>
<use href="#DejaVuSans-74" transform="translate(1364.017578 0)"/>
<use href="#DejaVuSans-65" transform="translate(1403.226562 0)"/>
<use href="#DejaVuSans-6e" transform="translate(1464.75 0)"/>
<use href="#DejaVuSans-20" transform="translate(1528.128906 0)"/>
<use href="#DejaVuSans-32" transform="translate(1559.916016 0)"/>
<use href="#DejaVuSans-34" transform="translate(1623.539062 0)"/>
<use href="#DejaVuSans-20" transform="translate(1687.162109 0)"/>
<use href="#DejaVuSans-53" transform="translate(1718.949219 0)"/>
<use href="#DejaVuSans-74" transform="translate(1782.425781 0)"/>
<use href="#DejaVuSans-75" transform="translate(1821.634766 0)"/>
<use href="#DejaVuSans-6e" transform="translate(1885.013672 0)"/>
<use href="#DejaVuSans-64" transform="translate(1948.392578 0)"/>
<use href="#DejaVuSans-65" transform="translate(2011.869141 0)"/>
<use href="#DejaVuSans-6e" transform="translate(2073.392578 0)"/>
</g>
</g>
<g id="legend_1">
<g id="patch_7">
<path d="M 351.5600 80.2800 L 427.4800 80.2800 Q 429.4800 80.2800 429.4800 78.2800 L 429.4800 34.0400 Q 429.4800 32.0400 427.4800 32.0400 L 351.5600 32.0400 Q 349.5600 32.0400 349.5600 34.0400 L 349.5600 78.2800 Q 349.5600 80.2800 351.5600 80.2800 z" style="fill: #ffffff; opacity: 0.8; stroke: #cccccc; stroke-linejoin: miter"/>
</g>
<g id="line2d_34">
<path d="M 352.8000 40.3200 L 362.8800 40.3200 L 372.9600 40.3200" style="fill: none; stroke: #1f77b4; stroke-width: 1.5; stroke-linecap: square"/>
</g>
<g id="text_19">
<!-- Speed -->
<g transform="translate(381.1542 43.8456) scale(0.1 -0.1)">
<defs>
<path id="DejaVuSans-70" d="M 1159 525 
L 1159 -1331 
L 581 -1331 
L 581 3500 
L 1159 3500 
L 1159 2969 
Q 1341 3281 1617 3432 
Q 1894 3584 2278 3584 
Q 2916 3584 3314 3078 
Q 3713 2572 3713 1747 
Q 3713 922 3314 415 
Q 2916 -91 2278 -91 
Q 1894 -91 1617 61 
Q 1341 213 1159 525 
z
M 3116 1747 
Q 3116 2381 2855 2742 
Q 2594 3103 2138 3103 
Q 1681 3103 1420 2742 
Q 1159 2381 1159 1747 
Q 1159 1113 1420 752 
Q 1681 391 2138 391 
Q 2594 391 2855 752 
Q 3116 1113 3116 1747 
z
" transform="scale(0.015625)"/>
</defs>
<use href="#DejaVuSans-53"/>
<use href="#DejaVuSans-70" transform="translate(63.476562 0)"/>
<use href="#DejaVuSans-65" transform="translate(126.953125 0)"/>
<use href="#DejaVuSans-65" transform="translate(188.476562 0)"/>
<use href="#DejaVuSans-64" transform="translate(250 0)"/>
</g>
</g>
<g id="line2d_35">
<path d="M 352.8000 55.4400 L 362.8800 55.4400 L 372.9600 55.4400" style="fill: none; stroke: #ff7f0e; stroke-width: 1.5; stroke-linecap: square"/>
</g>
<g id="text_20">
<!-- Gust -->
<g transform="translate(381.0822 58.8694) scale(0.1 -0.1)">
<defs>
<path id="DejaVuSans-47" d="M 3809 666 
L 3809 1919 
L 2778 1919 
L 2778 2438 
L 4434 2438 
L 4434 434 
Q 4069 175 3628 42 
Q 3188 -91 2688 -91 
Q 1594 -91 976 548 
Q 359 1188 359 2328 
Q 359 3472 976 4111 
Q 1594 4750 2688 4750 
Q 3144 4750 3555 4637 
Q 3966 4525 4313 4306 
L 4313 3634 
Q 3963 3931 3569 4081 
Q 3175 4231 2741 4231 
Q 1884 4231 1454 3753 
Q 1025 3275 1025 2328 
Q 1025 1384 1454 906 
Q 1884 428 2741 428 
Q 3075 428 3337 486 
Q 3600 544 3809 666 
z
" transform="scale(0.015625)"/>
<path id="DejaVuSans-73" d="M 2834 3397 
L 2834 2853 
Q 2591 2978 2328 3040 
Q 2066 3103 1784 3103 
Q 1356 3103 1142 2972 
Q 928 2841 928 2578 
Q 928 2378 1081 2264 
Q 1234 2150 1697 2047 
L 1894 2003 
Q 2506 1872 2764 1633 
Q 3022 1394 3022 966 
Q 3022 478 2636 193 
Q 2250 -91 1575 -91 
Q 1294 -91 989 -36 
Q 684 19 347 128 
L 347 722 
Q 666 556 975 473 
Q 1284 391 1588 391 
Q 1994 391 2212 530 
Q 2431 669 2431 922 
Q 2431 1156 2273 1281 
Q 2116 1406 1581 1522 
L 1381 1569 
Q 847 1681 609 1914 
Q 372 2147 372 2553 
Q 372 3047 722 3315 
Q 1072 3584 1716 3584 
Q 2034 3584 2315 3537 
Q 2597 3491 2834 3397 
z
" transform="scale(0.015625)"/>
</defs>
<use href="#DejaVuSans-47"/>
<use href="#DejaVuSans-75" transform="translate(77.490234 0)"/>
<use href="#DejaVuSans-73" transform="translate(140.869141 0)"/>
<use href="#DejaVuSans-74" transform="translate(192.96875 0)"/>
</g>
</g>
<g id="line2d_36">
<path d="M 352.8000 70.5600 L 362.8800 70.5600 L 372.9600 70.5600" style="fill: none; stroke: #2ca02c; stroke-width: 1.5; stroke-linecap: square"/>
</g>
<g id="text_21">
<!-- MaxGust -->
<g transform="translate(381.3270 74.0515) scale(0.1 -0.1)">
<defs>
<path id="DejaVuSans-4d" d="M 628 4666 
L 1569 4666 
L 2759 1491 
L 3956 4666 
L 4897 4666 
L 4897 0 
L 4281 0 
L 4281 4097 
L 3078 897 
L 2444 897 
L 1241 4097 
L 1241 0 
L 628 0 
L 628 4666 
z
" transform="scale(0.015625)"/>
<path id="DejaVuSans-78" d="M 3513 3500 
L 2247 1797 
L 3578 0 
L 2900 0 
L 1881 1375 
L 863 0 
L 184 0 
L 1544 1831 
L 300 3500 
L 978 3500 
L 1906 2253 
L 2834 3500 
L 3513 3500 
z
" transform="scale(0.015625)"/>
</defs>
<use href="#DejaVuSans-4d"/>
<use href="#DejaVuSans-61" transform="translate(86.279297 0)"/>
<use href="#DejaVuSans-78" transform="translate(147.558594 0)"/>
<use href="#DejaVuSans-47" transform="translate(206.738281 0)"/>
<use href="#DejaVuSans-75" transform="translate(284.228516 0)"/>
<use href="#DejaVuSans-73" transform="translate(347.607422 0)"/>
<use href="#DejaVuSans-74" transform="translate(399.707031 0)"/>
</g>
</g>
</g>
</g>
</g>
<defs>
<clipPath id="pa83f3e832d">
<rect x="44.570016" y="26.88" width="389.373984" height="248.019838"/>
</clipPath>
</defs>
</svg>
</body></html>
